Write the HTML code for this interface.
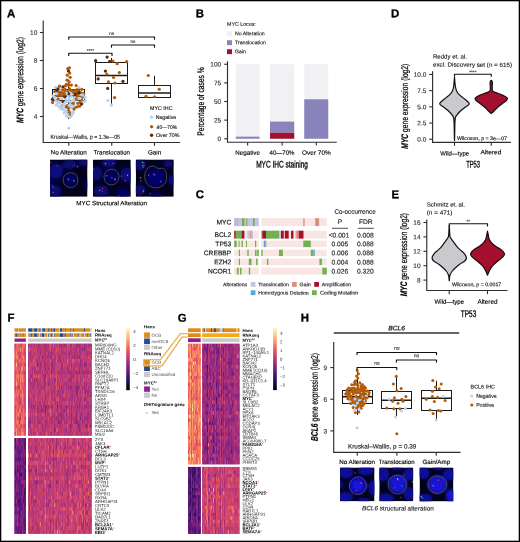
<!DOCTYPE html>
<html lang="en"><head><meta charset="utf-8"><title>MYC and BCL6 structural alterations figure</title>
<style>html,body{margin:0;padding:0;background:#fff}body{width:520px;height:542px;overflow:hidden}svg{display:block}text{font-family:'Liberation Sans', Arial, Helvetica, sans-serif;text-rendering:geometricPrecision}</style>
</head><body>
<svg width="520" height="542" viewBox="0 0 520 542">
<defs><filter id="bl" x="-20%" y="-20%" width="140%" height="140%"><feGaussianBlur stdDeviation="1.7"/></filter><filter id="bl2" x="-20%" y="-20%" width="140%" height="140%"><feGaussianBlur stdDeviation="2.3"/></filter><filter id="bs" x="-50%" y="-50%" width="200%" height="200%"><feGaussianBlur stdDeviation="0.35"/></filter><filter id="hb" x="-5%" y="-5%" width="110%" height="110%"><feGaussianBlur stdDeviation="0.3"/></filter><linearGradient id="mag" x1="0" y1="1" x2="0" y2="0"><stop offset="0" stop-color="#000004"/><stop offset="0.13" stop-color="#1d1147"/><stop offset="0.25" stop-color="#51127c"/><stop offset="0.38" stop-color="#832681"/><stop offset="0.5" stop-color="#b73779"/><stop offset="0.63" stop-color="#e75263"/><stop offset="0.75" stop-color="#fc8961"/><stop offset="0.88" stop-color="#fec488"/><stop offset="1" stop-color="#fcfdbf"/></linearGradient></defs>
<rect x="0" y="0" width="520" height="542" fill="#fff"/>
<text transform="rotate(0.05 7.1 17.2)" x="7.1" y="17.2" font-size="11.4" font-weight="bold" stroke="#000" stroke-width="0.3">A</text>
<text transform="rotate(0.05 195.8 17.2)" x="195.8" y="17.2" font-size="11.4" font-weight="bold" stroke="#000" stroke-width="0.3">B</text>
<text transform="rotate(0.05 195.8 198.2)" x="195.8" y="198.2" font-size="11.4" font-weight="bold" stroke="#000" stroke-width="0.3">C</text>
<text transform="rotate(0.05 391.1 17.2)" x="391.1" y="17.2" font-size="11.4" font-weight="bold" stroke="#000" stroke-width="0.3">D</text>
<text transform="rotate(0.05 391.4 198.2)" x="391.4" y="198.2" font-size="11.4" font-weight="bold" stroke="#000" stroke-width="0.3">E</text>
<text transform="rotate(0.05 7.4 321.5)" x="7.4" y="321.5" font-size="11.4" font-weight="bold" stroke="#000" stroke-width="0.3">F</text>
<text transform="rotate(0.05 177.8 321.7)" x="177.8" y="321.7" font-size="11.4" font-weight="bold" stroke="#000" stroke-width="0.3">G</text>
<text transform="rotate(0.05 300.8 321.5)" x="300.8" y="321.5" font-size="11.4" font-weight="bold" stroke="#000" stroke-width="0.3">H</text>
<path d="M43.2 20.5V142.5H180" stroke="#2e2e2e" stroke-width="1.15" fill="none"/>
<path d="M39.9 116.5L43.2 116.5" stroke="#2e2e2e" stroke-width="1.1" fill="none"/>
<text transform="rotate(0.05 37.3 118.8)" x="37.3" y="118.8" font-size="6.5" text-anchor="end" fill="#333" stroke="#333" stroke-width="0.14">4</text>
<path d="M39.9 88.5L43.2 88.5" stroke="#2e2e2e" stroke-width="1.1" fill="none"/>
<text transform="rotate(0.05 37.3 90.8)" x="37.3" y="90.8" font-size="6.5" text-anchor="end" fill="#333" stroke="#333" stroke-width="0.14">6</text>
<path d="M39.9 60.5L43.2 60.5" stroke="#2e2e2e" stroke-width="1.1" fill="none"/>
<text transform="rotate(0.05 37.3 62.8)" x="37.3" y="62.8" font-size="6.5" text-anchor="end" fill="#333" stroke="#333" stroke-width="0.14">8</text>
<path d="M39.9 32.5L43.2 32.5" stroke="#2e2e2e" stroke-width="1.1" fill="none"/>
<text transform="rotate(0.05 37.3 34.8)" x="37.3" y="34.8" font-size="6.5" text-anchor="end" fill="#333" stroke="#333" stroke-width="0.14">10</text>
<path d="M68.75 142.5L68.75 145.8" stroke="#2e2e2e" stroke-width="1.1" fill="none"/>
<path d="M111.75 142.5L111.75 145.8" stroke="#2e2e2e" stroke-width="1.1" fill="none"/>
<path d="M154.5 142.5L154.5 145.8" stroke="#2e2e2e" stroke-width="1.1" fill="none"/>
<text transform="translate(23.3,80) rotate(-90.05)" font-size="9.5" text-anchor="middle" textLength="86" lengthAdjust="spacingAndGlyphs" stroke="#000" stroke-width="0.22"><tspan font-style="italic" font-weight="bold">MYC</tspan> gene expression (log2)</text>
<path d="M68.5 79.5V89.5M68.5 100.5V119" stroke="#1a1a1a" stroke-width="1" fill="none"/>
<rect x="52.5" y="89.5" width="32" height="11" fill="none" stroke="#1a1a1a" stroke-width="1"/>
<path d="M52.5 95.9H84.5" stroke="#1a1a1a" stroke-width="1.5" fill="none"/>
<path d="M111.5 58V62.5M111.5 83.5V103.75" stroke="#1a1a1a" stroke-width="1" fill="none"/>
<rect x="95.5" y="62.5" width="32" height="21" fill="none" stroke="#1a1a1a" stroke-width="1"/>
<path d="M95.5 75.5H127.5" stroke="#1a1a1a" stroke-width="1.5" fill="none"/>
<path d="M154.5 75.75V85.5M154.5 97.5V97.5" stroke="#1a1a1a" stroke-width="1" fill="none"/>
<rect x="138.5" y="85.5" width="32" height="12" fill="none" stroke="#1a1a1a" stroke-width="1"/>
<path d="M138.5 93H170.5" stroke="#1a1a1a" stroke-width="1.5" fill="none"/>
<circle cx="60.05" cy="102.53" r="1.62" fill="#b5d3f0"/>
<circle cx="76.13" cy="85.58" r="1.62" fill="#b35a0a"/>
<circle cx="54.8" cy="91.54" r="1.62" fill="#b35a0a"/>
<circle cx="71.31" cy="115.68" r="1.62" fill="#b5d3f0"/>
<circle cx="84.89" cy="97.31" r="1.62" fill="#b5d3f0"/>
<circle cx="64.26" cy="112.89" r="1.62" fill="#b5d3f0"/>
<circle cx="65.03" cy="89.41" r="1.62" fill="#b35a0a"/>
<circle cx="67.81" cy="68.73" r="1.62" fill="#b35a0a"/>
<circle cx="73.37" cy="111.83" r="1.62" fill="#b5d3f0"/>
<circle cx="77.86" cy="103.32" r="1.62" fill="#b35a0a"/>
<circle cx="59.53" cy="86.2" r="1.62" fill="#b35a0a"/>
<circle cx="72.25" cy="90.93" r="1.62" fill="#b35a0a"/>
<circle cx="70.78" cy="103.03" r="1.62" fill="#b35a0a"/>
<circle cx="62.13" cy="95.83" r="1.62" fill="#b35a0a"/>
<circle cx="65.87" cy="106.66" r="1.62" fill="#b35a0a"/>
<circle cx="74.53" cy="97.64" r="1.62" fill="#b5d3f0"/>
<circle cx="81.73" cy="89.26" r="1.62" fill="#b35a0a"/>
<circle cx="80.11" cy="94.74" r="1.62" fill="#b5d3f0"/>
<circle cx="52.45" cy="99.32" r="1.62" fill="#552a08"/>
<circle cx="68.59" cy="110.6" r="1.62" fill="#b35a0a"/>
<circle cx="67.62" cy="112.6" r="1.62" fill="#b5d3f0"/>
<circle cx="66.03" cy="99.05" r="1.62" fill="#b5d3f0"/>
<circle cx="56.2" cy="104.88" r="1.62" fill="#b5d3f0"/>
<circle cx="56.01" cy="100.72" r="1.62" fill="#b5d3f0"/>
<circle cx="64.89" cy="110.17" r="1.62" fill="#b5d3f0"/>
<circle cx="75.06" cy="107.21" r="1.62" fill="#b35a0a"/>
<circle cx="69.58" cy="88.78" r="1.62" fill="#b35a0a"/>
<circle cx="81.67" cy="100.17" r="1.62" fill="#b35a0a"/>
<circle cx="76.09" cy="92.6" r="1.62" fill="#b35a0a"/>
<circle cx="66.34" cy="84.27" r="1.62" fill="#b35a0a"/>
<circle cx="78.11" cy="98.97" r="1.62" fill="#b5d3f0"/>
<circle cx="66.38" cy="116.08" r="1.62" fill="#b5d3f0"/>
<circle cx="60.49" cy="108.49" r="1.62" fill="#b5d3f0"/>
<circle cx="63.02" cy="101.69" r="1.62" fill="#552a08"/>
<circle cx="55.59" cy="87.49" r="1.62" fill="#b5d3f0"/>
<circle cx="79.57" cy="106.23" r="1.62" fill="#b35a0a"/>
<circle cx="72.87" cy="100.44" r="1.62" fill="#b5d3f0"/>
<circle cx="57.4" cy="95.16" r="1.62" fill="#b35a0a"/>
<circle cx="69.58" cy="114.85" r="1.62" fill="#b35a0a"/>
<circle cx="66.07" cy="101.55" r="1.62" fill="#b5d3f0"/>
<circle cx="60.19" cy="91.94" r="1.62" fill="#552a08"/>
<circle cx="78.54" cy="91.16" r="1.62" fill="#b35a0a"/>
<circle cx="61.89" cy="105.77" r="1.62" fill="#b35a0a"/>
<circle cx="67.53" cy="91.71" r="1.62" fill="#b35a0a"/>
<circle cx="80.07" cy="102.22" r="1.62" fill="#b35a0a"/>
<circle cx="69.13" cy="107.55" r="1.62" fill="#b35a0a"/>
<circle cx="85.26" cy="100.88" r="1.62" fill="#b5d3f0"/>
<circle cx="72.26" cy="107.88" r="1.62" fill="#b5d3f0"/>
<circle cx="74.06" cy="109.11" r="1.62" fill="#b35a0a"/>
<circle cx="83.12" cy="102.08" r="1.62" fill="#b5d3f0"/>
<circle cx="69.34" cy="98.51" r="1.62" fill="#b5d3f0"/>
<circle cx="71.1" cy="112.72" r="1.62" fill="#b5d3f0"/>
<circle cx="75.51" cy="101.15" r="1.62" fill="#b5d3f0"/>
<circle cx="69.28" cy="112.52" r="1.62" fill="#b35a0a"/>
<circle cx="64.7" cy="96.83" r="1.62" fill="#552a08"/>
<circle cx="58.67" cy="106.25" r="1.62" fill="#b5d3f0"/>
<circle cx="77.27" cy="106.84" r="1.62" fill="#b35a0a"/>
<circle cx="71.26" cy="105.86" r="1.62" fill="#b5d3f0"/>
<circle cx="68.64" cy="100.97" r="1.62" fill="#b5d3f0"/>
<circle cx="54.84" cy="97.51" r="1.62" fill="#b5d3f0"/>
<circle cx="83.47" cy="93.31" r="1.62" fill="#b35a0a"/>
<circle cx="64.67" cy="92.18" r="1.62" fill="#b35a0a"/>
<circle cx="71.48" cy="96.5" r="1.62" fill="#b5d3f0"/>
<circle cx="52.58" cy="102.41" r="1.62" fill="#b35a0a"/>
<circle cx="57" cy="90.53" r="1.62" fill="#552a08"/>
<circle cx="63.33" cy="106.43" r="1.62" fill="#b5d3f0"/>
<circle cx="60.3" cy="90.2" r="1.62" fill="#b5d3f0"/>
<circle cx="78.86" cy="87.57" r="1.62" fill="#b5d3f0"/>
<circle cx="73.28" cy="92.77" r="1.62" fill="#b35a0a"/>
<circle cx="68.26" cy="95.87" r="1.62" fill="#b5d3f0"/>
<circle cx="71.42" cy="85.1" r="1.62" fill="#b35a0a"/>
<circle cx="61.51" cy="98.67" r="1.62" fill="#b5d3f0"/>
<circle cx="80.45" cy="92.59" r="1.62" fill="#b35a0a"/>
<circle cx="62.45" cy="109.16" r="1.62" fill="#b5d3f0"/>
<circle cx="69.12" cy="81.89" r="1.62" fill="#b35a0a"/>
<circle cx="74.61" cy="90.6" r="1.62" fill="#b35a0a"/>
<circle cx="62.95" cy="86.98" r="1.62" fill="#552a08"/>
<circle cx="67.65" cy="105.29" r="1.62" fill="#b35a0a"/>
<circle cx="82.07" cy="97.43" r="1.62" fill="#b35a0a"/>
<circle cx="77" cy="89.74" r="1.62" fill="#b35a0a"/>
<circle cx="67.51" cy="114.67" r="1.62" fill="#b5d3f0"/>
<circle cx="53.18" cy="95.79" r="1.62" fill="#b5d3f0"/>
<circle cx="74" cy="105.42" r="1.62" fill="#b5d3f0"/>
<circle cx="58.35" cy="92.01" r="1.62" fill="#b35a0a"/>
<circle cx="72.7" cy="113.63" r="1.62" fill="#b5d3f0"/>
<circle cx="57.63" cy="103.14" r="1.62" fill="#b5d3f0"/>
<circle cx="70.89" cy="93.4" r="1.62" fill="#b5d3f0"/>
<circle cx="58.45" cy="101.33" r="1.62" fill="#b5d3f0"/>
<circle cx="68.54" cy="106.33" r="1.62" fill="#b5d3f0"/>
<circle cx="68.54" cy="93.66" r="1.62" fill="#552a08"/>
<circle cx="58.12" cy="98.94" r="1.62" fill="#b35a0a"/>
<circle cx="71.34" cy="101.55" r="1.62" fill="#b5d3f0"/>
<circle cx="79.92" cy="98.34" r="1.62" fill="#b5d3f0"/>
<circle cx="68.4" cy="116.48" r="1.62" fill="#b5d3f0"/>
<circle cx="60.35" cy="106.06" r="1.62" fill="#b5d3f0"/>
<circle cx="69.83" cy="104.7" r="1.62" fill="#b5d3f0"/>
<circle cx="81.56" cy="104.12" r="1.62" fill="#552a08"/>
<circle cx="73.27" cy="103.27" r="1.62" fill="#b35a0a"/>
<circle cx="59.98" cy="94.71" r="1.62" fill="#b35a0a"/>
<circle cx="70.11" cy="117.14" r="1.62" fill="#b5d3f0"/>
<circle cx="64.32" cy="103.54" r="1.62" fill="#b5d3f0"/>
<circle cx="58.03" cy="88.97" r="1.62" fill="#552a08"/>
<circle cx="76.15" cy="99.12" r="1.62" fill="#b35a0a"/>
<circle cx="62.7" cy="93.17" r="1.62" fill="#b35a0a"/>
<circle cx="67.25" cy="107.39" r="1.62" fill="#b35a0a"/>
<circle cx="70.5" cy="90.37" r="1.62" fill="#b35a0a"/>
<circle cx="78.48" cy="93.95" r="1.62" fill="#b35a0a"/>
<circle cx="66.28" cy="93.25" r="1.62" fill="#b5d3f0"/>
<circle cx="68.67" cy="85.15" r="1.62" fill="#b35a0a"/>
<circle cx="56.36" cy="93.71" r="1.62" fill="#b5d3f0"/>
<circle cx="75.43" cy="94.49" r="1.62" fill="#552a08"/>
<circle cx="65.27" cy="86" r="1.62" fill="#b35a0a"/>
<circle cx="66.03" cy="111.66" r="1.62" fill="#b5d3f0"/>
<circle cx="62.62" cy="89.89" r="1.62" fill="#b35a0a"/>
<circle cx="78.85" cy="92.54" r="1.62" fill="#552a08"/>
<circle cx="82.92" cy="95.14" r="1.62" fill="#b5d3f0"/>
<circle cx="77.38" cy="96.02" r="1.62" fill="#b35a0a"/>
<circle cx="64.4" cy="94.12" r="1.62" fill="#b35a0a"/>
<circle cx="66.91" cy="80.1" r="1.62" fill="#b35a0a"/>
<circle cx="70.18" cy="77.3" r="1.62" fill="#b35a0a"/>
<circle cx="67.24" cy="75.2" r="1.62" fill="#b35a0a"/>
<circle cx="69.67" cy="73.1" r="1.62" fill="#b35a0a"/>
<circle cx="68.52" cy="71" r="1.62" fill="#552a08"/>
<circle cx="69.44" cy="67.78" r="1.62" fill="#b35a0a"/>
<circle cx="68.75" cy="128.25" r="1.62" fill="#b5d3f0"/>
<circle cx="107.1" cy="57.1" r="1.62" fill="#552a08"/>
<circle cx="95.6" cy="60.7" r="1.62" fill="#552a08"/>
<circle cx="109.7" cy="61.4" r="1.62" fill="#552a08"/>
<circle cx="112.9" cy="61" r="1.62" fill="#b35a0a"/>
<circle cx="117.2" cy="63.65" r="1.62" fill="#b35a0a"/>
<circle cx="126.7" cy="61.6" r="1.62" fill="#b35a0a"/>
<circle cx="105.4" cy="71.1" r="1.62" fill="#552a08"/>
<circle cx="106.8" cy="74" r="1.62" fill="#b35a0a"/>
<circle cx="119.3" cy="72.6" r="1.62" fill="#b35a0a"/>
<circle cx="113.55" cy="77.5" r="1.62" fill="#b35a0a"/>
<circle cx="98.15" cy="78.9" r="1.62" fill="#552a08"/>
<circle cx="108.4" cy="81.8" r="1.62" fill="#b35a0a"/>
<circle cx="114.9" cy="83" r="1.62" fill="#b35a0a"/>
<circle cx="123" cy="81.3" r="1.62" fill="#552a08"/>
<circle cx="107.7" cy="88.4" r="1.62" fill="#552a08"/>
<circle cx="114.6" cy="97.7" r="1.62" fill="#b35a0a"/>
<circle cx="108" cy="100.5" r="1.62" fill="#b5d3f0"/>
<circle cx="111.5" cy="105.2" r="1.62" fill="#b5d3f0"/>
<circle cx="148.25" cy="75.5" r="1.62" fill="#b35a0a"/>
<circle cx="159.25" cy="89.25" r="1.62" fill="#b35a0a"/>
<circle cx="146" cy="96.25" r="1.62" fill="#b35a0a"/>
<circle cx="154.5" cy="96.75" r="1.62" fill="#b35a0a"/>
<path d="M68.75 39.2V37H154.5V39.2" stroke="#111" stroke-width="1.15" fill="none" stroke-linejoin="round" stroke-linecap="round"/>
<text transform="rotate(0.05 111.62 35)" x="111.62" y="35" font-size="4.6" text-anchor="middle" fill="#333" stroke="#333" stroke-width="0.14">ns</text>
<path d="M111.5 47.2V45H154.5V47.2" stroke="#111" stroke-width="1.15" fill="none" stroke-linejoin="round" stroke-linecap="round"/>
<text transform="rotate(0.05 133 43)" x="133" y="43" font-size="4.6" text-anchor="middle" fill="#333" stroke="#333" stroke-width="0.14">ns</text>
<path d="M68.75 55.45V53.25H112V55.45" stroke="#111" stroke-width="1.15" fill="none" stroke-linejoin="round" stroke-linecap="round"/>
<text transform="rotate(0.05 90.38 52.2)" x="90.38" y="52.2" font-size="4.6" text-anchor="middle" fill="#333" stroke="#333" stroke-width="0.14">****</text>
<text transform="rotate(0.05 50.6 138.8)" x="50.6" y="138.8" font-size="5.55" textLength="69.4" lengthAdjust="spacingAndGlyphs" fill="#222" stroke="#222" stroke-width="0.14">Kruskal—Wallis, p = 1.3e—05</text>
<text transform="rotate(0.05 68.75 154.4)" x="68.75" y="154.4" font-size="6.25" text-anchor="middle" textLength="36.3" lengthAdjust="spacingAndGlyphs" stroke="#000" stroke-width="0.14">No Alteration</text>
<text transform="rotate(0.05 111.75 154.4)" x="111.75" y="154.4" font-size="6.25" text-anchor="middle" textLength="36.5" lengthAdjust="spacingAndGlyphs" stroke="#000" stroke-width="0.14">Translocation</text>
<text transform="rotate(0.05 154.6 154.4)" x="154.6" y="154.4" font-size="6.25" text-anchor="middle" textLength="13.3" lengthAdjust="spacingAndGlyphs" stroke="#000" stroke-width="0.14">Gain</text>
<text transform="rotate(0.05 150 109.9)" x="150" y="109.9" font-size="5.4" textLength="22.5" lengthAdjust="spacingAndGlyphs" fill="#222" stroke="#222" stroke-width="0.14">MYC IHC</text>
<circle cx="151.6" cy="117.2" r="1.65" fill="#b5d3f0"/>
<text transform="rotate(0.05 155.7 119.05)" x="155.7" y="119.05" font-size="5.3" textLength="20.4" lengthAdjust="spacingAndGlyphs" fill="#222" stroke="#222" stroke-width="0.14">Negative</text>
<circle cx="151.6" cy="126.7" r="1.65" fill="#b35a0a"/>
<text transform="rotate(0.05 156.6 129)" x="156.6" y="129" font-size="5.3" textLength="20.6" lengthAdjust="spacingAndGlyphs" fill="#222" stroke="#222" stroke-width="0.14">40—70%</text>
<circle cx="151.6" cy="135.25" r="1.65" fill="#552a08"/>
<text transform="rotate(0.05 155.9 137.1)" x="155.9" y="137.1" font-size="5.3" textLength="23.6" lengthAdjust="spacingAndGlyphs" fill="#222" stroke="#222" stroke-width="0.14">Over 70%</text>
<text transform="rotate(0.05 111.6 205.3)" x="111.6" y="205.3" font-size="6.25" text-anchor="middle" textLength="70.7" lengthAdjust="spacingAndGlyphs" stroke="#000" stroke-width="0.14">MYC Structural Alteration</text>
<svg x="50" y="159.5" width="37.5" height="37.3" viewBox="0 0 40 40" preserveAspectRatio="none">
<rect x="0" y="0" width="40" height="40" fill="#020218"/>
<g filter="url(#bl2)">
<ellipse cx="6" cy="12.5" rx="8.5" ry="8.5" fill="#080882"/>
<ellipse cx="21" cy="5" rx="8" ry="5.5" fill="#070776"/>
<ellipse cx="35.5" cy="3" rx="5.5" ry="4.5" fill="#070776"/>
<ellipse cx="21.7" cy="22" rx="7.5" ry="7.5" fill="#06066c"/>
<ellipse cx="5" cy="34" rx="8" ry="6.5" fill="#070776"/>
<ellipse cx="1" cy="24.5" rx="3.5" ry="5" fill="#06066c"/>
<ellipse cx="39.5" cy="27" rx="2.5" ry="5" fill="#060670"/>
</g>
<path d="M14 22C14 17 18 14 23 14.3C27 14.5 29.8 18 29.6 22.5C29.4 27 26 30 22 30C17.5 30 14 26.5 14 22Z" fill="none" stroke="#90904e" stroke-width="0.75" opacity="0.7"/>
<g filter="url(#bs)">
<circle cx="19.5" cy="21.8" r="0.8" fill="#d82868"/>
<circle cx="19.6" cy="20.9" r="0.8" fill="#2a8a80"/>
<circle cx="25.4" cy="23.2" r="0.8" fill="#d82868"/>
<circle cx="25.6" cy="22.3" r="0.8" fill="#2a8a70"/>
<circle cx="7.8" cy="7.1" r="0.8" fill="#b02058"/>
<circle cx="25.8" cy="6.4" r="0.8" fill="#a82060"/>
<circle cx="29" cy="7.7" r="0.8" fill="#c03050"/>
<circle cx="29.6" cy="7.2" r="0.8" fill="#307860"/>
<circle cx="2.5" cy="28.2" r="0.8" fill="#b82058"/>
<circle cx="3.7" cy="30" r="0.8" fill="#c82050"/>
<circle cx="3.4" cy="35.3" r="0.8" fill="#b84048"/>
<circle cx="1" cy="2.9" r="0.8" fill="#902050"/>
<circle cx="39.6" cy="3.2" r="0.8" fill="#d84060"/>
</g>
</svg>
<svg x="93" y="159.5" width="37.8" height="37.3" viewBox="0 0 40 40" preserveAspectRatio="none">
<rect x="0" y="0" width="40" height="40" fill="#020218"/>
<g filter="url(#bl2)">
<ellipse cx="17" cy="3.5" rx="8" ry="5.5" fill="#080882"/>
<ellipse cx="3.5" cy="15" rx="7" ry="8" fill="#070776"/>
<ellipse cx="35.5" cy="16.5" rx="7" ry="8" fill="#080882"/>
<ellipse cx="19.5" cy="19" rx="7.5" ry="7.5" fill="#06066c"/>
<ellipse cx="8.5" cy="33.5" rx="9" ry="6.5" fill="#070776"/>
<ellipse cx="31" cy="36" rx="7" ry="5.5" fill="#06066c"/>
</g>
<path d="M11.8 19C11.8 14 15.5 10.5 20 10.5C24.5 10.5 27.4 14 27.4 18.5C27.4 23.5 24 27.2 19.5 27.2C15 27.2 11.8 23.5 11.8 19Z" fill="none" stroke="#90904e" stroke-width="0.75" opacity="0.7"/>
<g filter="url(#bs)">
<circle cx="13" cy="4.6" r="0.8" fill="#30b088"/>
<circle cx="13.4" cy="3.9" r="0.8" fill="#d84050"/>
<circle cx="21" cy="4.3" r="0.8" fill="#c02060"/>
<circle cx="14.6" cy="17.5" r="0.8" fill="#2890a0"/>
<circle cx="20" cy="19.5" r="0.8" fill="#d82868"/>
<circle cx="23" cy="21.6" r="0.8" fill="#d82868"/>
<circle cx="23.5" cy="20.9" r="0.8" fill="#38b078"/>
<circle cx="30" cy="18" r="0.8" fill="#d02060"/>
<circle cx="36.5" cy="17" r="0.8" fill="#28c8d0"/>
<circle cx="34" cy="22.5" r="0.8" fill="#c82060"/>
<circle cx="7" cy="33" r="0.8" fill="#30c080"/>
<circle cx="10" cy="31" r="0.8" fill="#d82060"/>
<circle cx="9.5" cy="34" r="0.8" fill="#c02050"/>
<circle cx="27.5" cy="39.5" r="0.8" fill="#e03040"/>
<circle cx="0.4" cy="10.5" r="0.8" fill="#d02060"/>
</g>
</svg>
<svg x="135.75" y="159.5" width="38" height="37.3" viewBox="0 0 40 40" preserveAspectRatio="none">
<rect x="0" y="0" width="40" height="40" fill="#020218"/>
<g filter="url(#bl2)">
<ellipse cx="21" cy="19" rx="10.5" ry="10.5" fill="#06066c"/>
<ellipse cx="4.5" cy="6" rx="6.5" ry="6" fill="#070776"/>
<ellipse cx="34" cy="4.5" rx="6" ry="4.5" fill="#070776"/>
<ellipse cx="38" cy="22" rx="4" ry="6" fill="#080882"/>
<ellipse cx="4.5" cy="32.5" rx="6.5" ry="6" fill="#070776"/>
<ellipse cx="21.7" cy="37.5" rx="6.5" ry="3.5" fill="#06066c"/>
</g>
<path d="M9.4 18C9.4 12 13 7 18.5 7C21 7 22 9.6 24 9.8C26 10 28 8.4 30 10.5C33 13.5 33 20 31.5 24C30 28 25 30.5 20 30.3C14 30 9.4 25 9.4 18Z" fill="none" stroke="#90904e" stroke-width="0.75" opacity="0.7"/>
<g filter="url(#bs)">
<circle cx="7" cy="3" r="0.8" fill="#30c080"/>
<circle cx="8.4" cy="4" r="0.8" fill="#e03050"/>
<circle cx="7.4" cy="6.8" r="0.8" fill="#30b080"/>
<circle cx="8.8" cy="6.4" r="0.8" fill="#d82060"/>
<circle cx="8" cy="8.4" r="0.8" fill="#c82060"/>
<circle cx="13.5" cy="17" r="0.8" fill="#d82868"/>
<circle cx="19" cy="15.8" r="0.8" fill="#30a890"/>
<circle cx="20" cy="16.6" r="0.8" fill="#d82868"/>
<circle cx="26.5" cy="23.5" r="0.8" fill="#d84848"/>
<circle cx="5" cy="19.5" r="0.8" fill="#30c0a0"/>
<circle cx="5.4" cy="23" r="0.8" fill="#c82060"/>
<circle cx="7.4" cy="34.6" r="0.8" fill="#d82050"/>
<circle cx="8.2" cy="33.6" r="0.8" fill="#30c080"/>
<circle cx="15" cy="36.6" r="0.8" fill="#c82060"/>
<circle cx="4" cy="39.4" r="0.8" fill="#e02040"/>
<circle cx="28" cy="39.4" r="0.8" fill="#e02040"/>
</g>
</svg>
<path d="M227.5 61.2V142.2H336.8" stroke="#2e2e2e" stroke-width="1.15" fill="none"/>
<path d="M224.2 138.75L227.5 138.75" stroke="#2e2e2e" stroke-width="1.1" fill="none"/>
<text transform="rotate(0.05 221.2 141.05)" x="221.2" y="141.05" font-size="6.5" text-anchor="end" fill="#333" stroke="#333" stroke-width="0.14">0</text>
<path d="M224.2 120.12L227.5 120.12" stroke="#2e2e2e" stroke-width="1.1" fill="none"/>
<text transform="rotate(0.05 221.2 122.42)" x="221.2" y="122.42" font-size="6.5" text-anchor="end" fill="#333" stroke="#333" stroke-width="0.14">25</text>
<path d="M224.2 101.5L227.5 101.5" stroke="#2e2e2e" stroke-width="1.1" fill="none"/>
<text transform="rotate(0.05 221.2 103.8)" x="221.2" y="103.8" font-size="6.5" text-anchor="end" fill="#333" stroke="#333" stroke-width="0.14">50</text>
<path d="M224.2 82.88L227.5 82.88" stroke="#2e2e2e" stroke-width="1.1" fill="none"/>
<text transform="rotate(0.05 221.2 85.17)" x="221.2" y="85.17" font-size="6.5" text-anchor="end" fill="#333" stroke="#333" stroke-width="0.14">75</text>
<path d="M224.2 64.25L227.5 64.25" stroke="#2e2e2e" stroke-width="1.1" fill="none"/>
<text transform="rotate(0.05 221.2 66.55)" x="221.2" y="66.55" font-size="6.5" text-anchor="end" fill="#333" stroke="#333" stroke-width="0.14">100</text>
<rect x="235.75" y="64.25" width="23.75" height="74.5" fill="#f1f1f4"/>
<rect x="235.75" y="136.66" width="23.75" height="2.09" fill="#8a84bd"/>
<path d="M247.62 142.2L247.62 145.5" stroke="#2e2e2e" stroke-width="1.1" fill="none"/>
<rect x="270" y="64.25" width="24.25" height="74.5" fill="#f1f1f4"/>
<rect x="270" y="121.61" width="24.25" height="11.17" fill="#8a84bd"/>
<rect x="270" y="132.79" width="24.25" height="5.96" fill="#a50f2e"/>
<path d="M282.12 142.2L282.12 145.5" stroke="#2e2e2e" stroke-width="1.1" fill="none"/>
<rect x="304.25" y="64.25" width="24" height="74.5" fill="#f1f1f4"/>
<rect x="304.25" y="99.27" width="24" height="39.48" fill="#8a84bd"/>
<path d="M316.25 142.2L316.25 145.5" stroke="#2e2e2e" stroke-width="1.1" fill="none"/>
<text transform="rotate(0.05 247.6 154.7)" x="247.6" y="154.7" font-size="6.25" text-anchor="middle" stroke="#000" stroke-width="0.14">Negative</text>
<text transform="rotate(0.05 282 154.7)" x="282" y="154.7" font-size="6.25" text-anchor="middle" textLength="25" lengthAdjust="spacingAndGlyphs" stroke="#000" stroke-width="0.14">40—70%</text>
<text transform="rotate(0.05 316.4 154.7)" x="316.4" y="154.7" font-size="6.25" text-anchor="middle" textLength="28.7" lengthAdjust="spacingAndGlyphs" stroke="#000" stroke-width="0.14">Over 70%</text>
<text transform="rotate(0.05 282.1 167.5)" x="282.1" y="167.5" font-size="9.6" text-anchor="middle" textLength="51.8" lengthAdjust="spacingAndGlyphs" stroke="#000" stroke-width="0.32">MYC IHC staining</text>
<text transform="translate(204,101.6) rotate(-90.05)" font-size="9.5" text-anchor="middle" textLength="68.3" lengthAdjust="spacingAndGlyphs" stroke="#000" stroke-width="0.22">Percentage of cases %</text>
<text transform="rotate(0.05 227 25.8)" x="227" y="25.8" font-size="5.1" textLength="28.8" lengthAdjust="spacingAndGlyphs" fill="#222" stroke="#222" stroke-width="0.14">MYC Locus:</text>
<rect x="227" y="31.25" width="5" height="4.9" fill="#f1f1f4"/>
<text transform="rotate(0.05 235 35.15)" x="235" y="35.15" font-size="5.2" fill="#222" stroke="#222" stroke-width="0.14">No Alteration</text>
<rect x="227" y="40.25" width="5" height="4.9" fill="#8a84bd"/>
<text transform="rotate(0.05 235 44.15)" x="235" y="44.15" font-size="5.2" fill="#222" stroke="#222" stroke-width="0.14">Translocation</text>
<rect x="227" y="49.25" width="5" height="4.9" fill="#a50f2e"/>
<text transform="rotate(0.05 235 53.15)" x="235" y="53.15" font-size="5.2" fill="#222" stroke="#222" stroke-width="0.14">Gain</text>
<rect x="234.2" y="218.2" width="24.65" height="7.9" fill="#f7e6e2"/>
<rect x="261.35" y="218.2" width="65.45" height="7.9" fill="#f7e6e2"/>
<rect x="234.2" y="218.2" width="24.65" height="7.9" fill="#c9c3e2"/>
<rect x="235" y="218.2" width="0.6" height="7.9" fill="#d98f7e"/>
<rect x="237.5" y="218.2" width="0.6" height="7.9" fill="#d98f7e"/>
<rect x="242" y="218.2" width="2.4" height="7.9" fill="#72b052"/>
<rect x="246.3" y="218.2" width="1" height="7.9" fill="#72b052"/>
<rect x="253" y="218.2" width="1.6" height="7.9" fill="#72b052"/>
<rect x="303.3" y="218.2" width="1.3" height="7.9" fill="#d98f7e"/>
<rect x="315.2" y="218.2" width="3.9" height="7.9" fill="#d98f7e"/>
<text transform="rotate(0.05 231.3 224.55)" x="231.3" y="224.55" font-size="6.7" text-anchor="end" fill="#111" stroke="#111" stroke-width="0.14">MYC</text>
<rect x="234.2" y="230.7" width="24.65" height="7.9" fill="#f7e6e2"/>
<rect x="261.35" y="230.7" width="65.45" height="7.9" fill="#f7e6e2"/>
<rect x="234.2" y="230.7" width="1.6" height="7.9" fill="#a80f2c"/>
<rect x="235.8" y="230.7" width="5.7" height="7.9" fill="#72b052"/>
<rect x="241.5" y="230.7" width="2.9" height="7.9" fill="#a80f2c"/>
<rect x="247.3" y="230.7" width="2.9" height="7.9" fill="#c9c3e2"/>
<rect x="250.2" y="230.7" width="1.5" height="7.9" fill="#d98f7e"/>
<rect x="251.7" y="230.7" width="1.3" height="7.9" fill="#c9c3e2"/>
<rect x="261.35" y="230.7" width="0.95" height="7.9" fill="#72b052"/>
<rect x="262.3" y="230.7" width="3.7" height="7.9" fill="#a80f2c"/>
<rect x="266" y="230.7" width="13" height="7.9" fill="#72b052"/>
<rect x="279" y="230.7" width="2" height="7.9" fill="#c9c3e2"/>
<rect x="281" y="230.7" width="2.8" height="7.9" fill="#a80f2c"/>
<rect x="284.8" y="230.7" width="3.9" height="7.9" fill="#a80f2c"/>
<rect x="291" y="230.7" width="2" height="7.9" fill="#a80f2c"/>
<rect x="293" y="230.7" width="1" height="7.9" fill="#d98f7e"/>
<rect x="295.3" y="230.7" width="1" height="7.9" fill="#c9c3e2"/>
<rect x="296.3" y="230.7" width="2.5" height="7.9" fill="#d98f7e"/>
<rect x="297.4" y="230.7" width="0.5" height="7.9" fill="#5aa5dc"/>
<rect x="298.8" y="230.7" width="4.7" height="7.9" fill="#a80f2c"/>
<text transform="rotate(0.05 231.3 237.05)" x="231.3" y="237.05" font-size="6.7" text-anchor="end" fill="#111" stroke="#111" stroke-width="0.14">BCL2</text>
<rect x="234.2" y="240.6" width="24.65" height="6.5" fill="#f7e6e2"/>
<rect x="261.35" y="240.6" width="65.45" height="6.5" fill="#f7e6e2"/>
<rect x="234.2" y="240.6" width="2.5" height="6.5" fill="#72b052"/>
<rect x="238.6" y="240.6" width="1" height="6.5" fill="#72b052"/>
<rect x="241.5" y="240.6" width="1.4" height="6.5" fill="#72b052"/>
<rect x="246" y="240.6" width="1" height="6.5" fill="#72b052"/>
<rect x="255" y="240.6" width="1.2" height="6.5" fill="#72b052"/>
<rect x="263.8" y="240.6" width="1.8" height="6.5" fill="#5aa5dc"/>
<rect x="265.6" y="240.6" width="0.7" height="6.5" fill="#72b052"/>
<rect x="303.3" y="240.6" width="7.5" height="6.5" fill="#72b052"/>
<text transform="rotate(0.05 231.3 246.25)" x="231.3" y="246.25" font-size="6.7" text-anchor="end" fill="#111" stroke="#111" stroke-width="0.14">TP53</text>
<rect x="234.2" y="249.7" width="24.65" height="6.4" fill="#f7e6e2"/>
<rect x="261.35" y="249.7" width="65.45" height="6.4" fill="#f7e6e2"/>
<rect x="238.8" y="249.7" width="1.2" height="6.4" fill="#72b052"/>
<rect x="247.3" y="249.7" width="1.4" height="6.4" fill="#72b052"/>
<rect x="255" y="249.7" width="1.6" height="6.4" fill="#72b052"/>
<rect x="257.2" y="249.7" width="1.65" height="6.4" fill="#72b052"/>
<rect x="261.35" y="249.7" width="1.35" height="6.4" fill="#72b052"/>
<rect x="279" y="249.7" width="3.9" height="6.4" fill="#72b052"/>
<rect x="310.8" y="249.7" width="2.8" height="6.4" fill="#72b052"/>
<rect x="313.7" y="249.7" width="1.1" height="6.4" fill="#5aa5dc"/>
<text transform="rotate(0.05 231.3 255.3)" x="231.3" y="255.3" font-size="6.7" text-anchor="end" fill="#111" stroke="#111" stroke-width="0.14">CREBBP</text>
<rect x="234.2" y="258.6" width="24.65" height="6.5" fill="#f7e6e2"/>
<rect x="261.35" y="258.6" width="65.45" height="6.5" fill="#f7e6e2"/>
<rect x="238.8" y="258.6" width="1.2" height="6.5" fill="#72b052"/>
<rect x="248.8" y="258.6" width="2.7" height="6.5" fill="#72b052"/>
<rect x="256" y="258.6" width="1.5" height="6.5" fill="#72b052"/>
<rect x="266.9" y="258.6" width="1.4" height="6.5" fill="#72b052"/>
<rect x="319.4" y="258.6" width="2.5" height="6.5" fill="#72b052"/>
<text transform="rotate(0.05 231.3 264.25)" x="231.3" y="264.25" font-size="6.7" text-anchor="end" fill="#111" stroke="#111" stroke-width="0.14">EZH2</text>
<rect x="234.2" y="267.7" width="24.65" height="6.8" fill="#f7e6e2"/>
<rect x="261.35" y="267.7" width="65.45" height="6.8" fill="#f7e6e2"/>
<rect x="236.9" y="267.7" width="1.75" height="6.8" fill="#72b052"/>
<rect x="240" y="267.7" width="1.5" height="6.8" fill="#72b052"/>
<rect x="248.8" y="267.7" width="1.4" height="6.8" fill="#72b052"/>
<rect x="322.3" y="267.7" width="4.5" height="6.8" fill="#72b052"/>
<text transform="rotate(0.05 231.3 273.5)" x="231.3" y="273.5" font-size="6.7" text-anchor="end" fill="#111" stroke="#111" stroke-width="0.14">NCOR1</text>
<text transform="rotate(0.05 355.1 213.7)" x="355.1" y="213.7" font-size="6.3" text-anchor="middle" textLength="41.3" lengthAdjust="spacingAndGlyphs" fill="#222" stroke="#222" stroke-width="0.14">Co-occurrence</text>
<text transform="rotate(0.05 340.1 224.1)" x="340.1" y="224.1" font-size="6.7" text-anchor="middle" fill="#222" stroke="#222" stroke-width="0.14">P</text>
<text transform="rotate(0.05 365.8 224.1)" x="365.8" y="224.1" font-size="6.7" text-anchor="middle" fill="#222" stroke="#222" stroke-width="0.14">FDR</text>
<path d="M332 228.3L348 228.3" stroke="#222" stroke-width="0.8" fill="none"/>
<path d="M358 228.3L373.8 228.3" stroke="#222" stroke-width="0.8" fill="none"/>
<text transform="rotate(0.05 349.3 237.4)" x="349.3" y="237.4" font-size="6.7" text-anchor="end" fill="#222" stroke="#222" stroke-width="0.14">&lt;0.001</text>
<text transform="rotate(0.05 373.8 237.4)" x="373.8" y="237.4" font-size="6.7" text-anchor="end" fill="#222" stroke="#222" stroke-width="0.14">0.008</text>
<text transform="rotate(0.05 348.3 246.2)" x="348.3" y="246.2" font-size="6.7" text-anchor="end" fill="#222" stroke="#222" stroke-width="0.14">0.005</text>
<text transform="rotate(0.05 373.8 246.2)" x="373.8" y="246.2" font-size="6.7" text-anchor="end" fill="#222" stroke="#222" stroke-width="0.14">0.088</text>
<text transform="rotate(0.05 348.3 255.2)" x="348.3" y="255.2" font-size="6.7" text-anchor="end" fill="#222" stroke="#222" stroke-width="0.14">0.006</text>
<text transform="rotate(0.05 373.8 255.2)" x="373.8" y="255.2" font-size="6.7" text-anchor="end" fill="#222" stroke="#222" stroke-width="0.14">0.088</text>
<text transform="rotate(0.05 348.3 264.4)" x="348.3" y="264.4" font-size="6.7" text-anchor="end" fill="#222" stroke="#222" stroke-width="0.14">0.004</text>
<text transform="rotate(0.05 373.8 264.4)" x="373.8" y="264.4" font-size="6.7" text-anchor="end" fill="#222" stroke="#222" stroke-width="0.14">0.088</text>
<text transform="rotate(0.05 348.3 273.4)" x="348.3" y="273.4" font-size="6.7" text-anchor="end" fill="#222" stroke="#222" stroke-width="0.14">0.026</text>
<text transform="rotate(0.05 373.8 273.4)" x="373.8" y="273.4" font-size="6.7" text-anchor="end" fill="#222" stroke="#222" stroke-width="0.14">0.320</text>
<text transform="rotate(0.05 223 286.3)" x="223" y="286.3" font-size="5.1" textLength="24" lengthAdjust="spacingAndGlyphs" fill="#222" stroke="#222" stroke-width="0.14">Alterations</text>
<rect x="250.75" y="282" width="4.75" height="4.8" fill="#c9c3e2"/>
<text transform="rotate(0.05 258.25 286.3)" x="258.25" y="286.3" font-size="5.1" textLength="30.5" lengthAdjust="spacingAndGlyphs" fill="#222" stroke="#222" stroke-width="0.14">Translocation</text>
<rect x="292" y="282" width="4.75" height="4.8" fill="#d98f7e"/>
<text transform="rotate(0.05 299.5 286.3)" x="299.5" y="286.3" font-size="5.1" textLength="11.3" lengthAdjust="spacingAndGlyphs" fill="#222" stroke="#222" stroke-width="0.14">Gain</text>
<rect x="314.25" y="282" width="4.75" height="4.8" fill="#a80f2c"/>
<text transform="rotate(0.05 321.75 286.3)" x="321.75" y="286.3" font-size="5.1" textLength="29.5" lengthAdjust="spacingAndGlyphs" fill="#222" stroke="#222" stroke-width="0.14">Amplification</text>
<rect x="250.75" y="290.3" width="4.75" height="4.8" fill="#5aa5dc"/>
<text transform="rotate(0.05 258.25 294.6)" x="258.25" y="294.6" font-size="5.1" textLength="50.5" lengthAdjust="spacingAndGlyphs" fill="#222" stroke="#222" stroke-width="0.14">Homozygous Deletion</text>
<rect x="312" y="290.3" width="4.75" height="4.8" fill="#72b052"/>
<text transform="rotate(0.05 320 294.6)" x="320" y="294.6" font-size="5.1" textLength="38.3" lengthAdjust="spacingAndGlyphs" fill="#222" stroke="#222" stroke-width="0.14">Coding Mutation</text>
<path d="M432.6 71.2V142.3H510.8" stroke="#2e2e2e" stroke-width="1.15" fill="none"/>
<path d="M429.2 139.25L432.5 139.25" stroke="#2e2e2e" stroke-width="1.1" fill="none"/>
<text transform="rotate(0.05 426.4 141.55)" x="426.4" y="141.55" font-size="6.5" text-anchor="end" fill="#333" stroke="#333" stroke-width="0.14">0.0</text>
<path d="M429.2 123.05L432.5 123.05" stroke="#2e2e2e" stroke-width="1.1" fill="none"/>
<text transform="rotate(0.05 426.4 125.35)" x="426.4" y="125.35" font-size="6.5" text-anchor="end" fill="#333" stroke="#333" stroke-width="0.14">2.5</text>
<path d="M429.2 106.85L432.5 106.85" stroke="#2e2e2e" stroke-width="1.1" fill="none"/>
<text transform="rotate(0.05 426.4 109.15)" x="426.4" y="109.15" font-size="6.5" text-anchor="end" fill="#333" stroke="#333" stroke-width="0.14">5.0</text>
<path d="M429.2 90.65L432.5 90.65" stroke="#2e2e2e" stroke-width="1.1" fill="none"/>
<text transform="rotate(0.05 426.4 92.95)" x="426.4" y="92.95" font-size="6.5" text-anchor="end" fill="#333" stroke="#333" stroke-width="0.14">7.5</text>
<path d="M429.2 74.45L432.5 74.45" stroke="#2e2e2e" stroke-width="1.1" fill="none"/>
<text transform="rotate(0.05 426.4 76.75)" x="426.4" y="76.75" font-size="6.5" text-anchor="end" fill="#333" stroke="#333" stroke-width="0.14">10.0</text>
<path d="M454.5 142.3L454.5 145.8" stroke="#2e2e2e" stroke-width="1.1" fill="none"/>
<path d="M491.25 142.3L491.25 145.8" stroke="#2e2e2e" stroke-width="1.1" fill="none"/>
<path d="M454.55 78C454.66 79.05 454.93 82.7 455.1 84.3C455.28 85.9 455.35 86.5 455.6 87.6C455.85 88.7 456.08 89.82 456.6 90.9C457.12 91.98 457.7 93.02 458.7 94.1C459.7 95.18 461.27 96.3 462.6 97.4C463.93 98.5 465.68 99.83 466.7 100.7C467.72 101.57 468.27 102.1 468.7 102.6C469.13 103.1 469.32 103.32 469.3 103.7C469.28 104.08 469.3 104.32 468.6 104.9C467.9 105.48 466.37 106.27 465.1 107.2C463.83 108.13 462.22 109.41 461 110.5C459.78 111.59 458.7 112.67 457.8 113.75C456.9 114.83 456.08 115.62 455.6 117C455.12 118.38 455.09 119.83 454.95 122C454.81 124.17 454.82 127.03 454.75 130C454.68 132.97 454.6 138.17 454.55 139.8C454.5 141.43 454.5 141.43 454.45 139.8C454.4 138.17 454.32 132.97 454.25 130C454.18 127.03 454.19 124.17 454.05 122C453.91 119.83 453.88 118.38 453.4 117C452.92 115.62 452.1 114.83 451.2 113.75C450.3 112.67 449.22 111.59 448 110.5C446.78 109.41 445.17 108.13 443.9 107.2C442.63 106.27 441.1 105.48 440.4 104.9C439.7 104.32 439.72 104.08 439.7 103.7C439.68 103.32 439.87 103.1 440.3 102.6C440.73 102.1 441.28 101.57 442.3 100.7C443.32 99.83 445.07 98.5 446.4 97.4C447.73 96.3 449.3 95.18 450.3 94.1C451.3 93.02 451.88 91.98 452.4 90.9C452.92 89.82 453.15 88.7 453.4 87.6C453.65 86.5 453.72 85.9 453.9 84.3C454.07 82.7 454.34 79.05 454.45 78C454.56 76.95 454.44 76.95 454.55 78Z" stroke="#111" stroke-width="1.2" fill="#c9c9ce" stroke-linejoin="round"/>
<path d="M491.75 80.6C492.02 80.92 492.32 81.6 492.4 82.5C492.48 83.4 492.27 84.83 492.25 86C492.23 87.17 492.12 88.62 492.25 89.5C492.38 90.38 492.45 90.78 493.05 91.3C493.65 91.82 494.72 92.15 495.85 92.6C496.98 93.05 498.58 93.5 499.85 94C501.12 94.5 502.38 95.07 503.45 95.6C504.52 96.13 505.58 96.72 506.25 97.2C506.92 97.68 507.33 98.08 507.45 98.5C507.57 98.92 507.23 99.28 506.95 99.7C506.67 100.12 506.6 100.28 505.75 101C504.9 101.72 503.18 102.97 501.85 104C500.52 105.03 498.97 106.12 497.75 107.2C496.53 108.28 495.58 109.5 494.55 110.5C493.52 111.5 492.15 112.75 491.55 113.2C490.95 113.65 491.55 113.65 490.95 113.2C490.35 112.75 488.98 111.5 487.95 110.5C486.92 109.5 485.97 108.28 484.75 107.2C483.53 106.12 481.98 105.03 480.65 104C479.32 102.97 477.6 101.72 476.75 101C475.9 100.28 475.83 100.12 475.55 99.7C475.27 99.28 474.93 98.92 475.05 98.5C475.17 98.08 475.58 97.68 476.25 97.2C476.92 96.72 477.98 96.13 479.05 95.6C480.12 95.07 481.38 94.5 482.65 94C483.92 93.5 485.52 93.05 486.65 92.6C487.78 92.15 488.85 91.82 489.45 91.3C490.05 90.78 490.12 90.38 490.25 89.5C490.38 88.62 490.27 87.17 490.25 86C490.23 84.83 490.02 83.4 490.1 82.5C490.18 81.6 490.48 80.92 490.75 80.6C491.02 80.28 491.48 80.28 491.75 80.6Z" stroke="#111" stroke-width="1.2" fill="#a50f2e" stroke-linejoin="round"/>
<path d="M454.5 76.35V74.25H491.25V76.35" stroke="#111" stroke-width="1.15" fill="none" stroke-linejoin="round" stroke-linecap="round"/>
<text transform="rotate(0.05 472.88 73.8)" x="472.88" y="73.8" font-size="4.6" text-anchor="middle" fill="#333" stroke="#333" stroke-width="0.14">****</text>
<text transform="rotate(0.05 433 58.6)" x="433" y="58.6" font-size="5.8" textLength="34" lengthAdjust="spacingAndGlyphs" fill="#222" stroke="#222" stroke-width="0.14">Reddy et. al.</text>
<text transform="rotate(0.05 433 66.6)" x="433" y="66.6" font-size="5.8" textLength="79" lengthAdjust="spacingAndGlyphs" fill="#222" stroke="#222" stroke-width="0.14">excl. Discovery set (n = 615)</text>
<text transform="rotate(0.05 457 140.1)" x="457" y="140.1" font-size="5.3" textLength="50" lengthAdjust="spacingAndGlyphs" fill="#111" stroke="#111" stroke-width="0.14">Wilcoxon, p = 3e—07</text>
<text transform="rotate(0.05 454.7 155.6)" x="454.7" y="155.6" font-size="6.1" text-anchor="middle" textLength="28.9" lengthAdjust="spacingAndGlyphs" stroke="#000" stroke-width="0.14">Wild—type</text>
<text transform="rotate(0.05 490.9 154.2)" x="490.9" y="154.2" font-size="6.1" text-anchor="middle" textLength="20.8" lengthAdjust="spacingAndGlyphs" stroke="#000" stroke-width="0.14">Altered</text>
<text transform="rotate(0.05 473.1 167.5)" x="473.1" y="167.5" font-size="9.6" text-anchor="middle" textLength="13.8" lengthAdjust="spacingAndGlyphs" stroke="#000" stroke-width="0.32">TP53</text>
<text transform="translate(408,106.2) rotate(-90.05)" font-size="9.5" text-anchor="middle" textLength="85" lengthAdjust="spacingAndGlyphs" stroke="#000" stroke-width="0.22"><tspan font-style="italic" font-weight="bold">MYC</tspan> gene expression (log2)</text>
<path d="M426.75 219.5V290.5H507.5" stroke="#2e2e2e" stroke-width="1.15" fill="none"/>
<path d="M423.4 280.1L426.75 280.1" stroke="#2e2e2e" stroke-width="1.1" fill="none"/>
<text transform="rotate(0.05 420.6 282.4)" x="420.6" y="282.4" font-size="6.5" text-anchor="end" fill="#333" stroke="#333" stroke-width="0.14">8</text>
<path d="M423.4 265.7L426.75 265.7" stroke="#2e2e2e" stroke-width="1.1" fill="none"/>
<text transform="rotate(0.05 420.6 268)" x="420.6" y="268" font-size="6.5" text-anchor="end" fill="#333" stroke="#333" stroke-width="0.14">10</text>
<path d="M423.4 251.3L426.75 251.3" stroke="#2e2e2e" stroke-width="1.1" fill="none"/>
<text transform="rotate(0.05 420.6 253.6)" x="420.6" y="253.6" font-size="6.5" text-anchor="end" fill="#333" stroke="#333" stroke-width="0.14">12</text>
<path d="M423.4 236.9L426.75 236.9" stroke="#2e2e2e" stroke-width="1.1" fill="none"/>
<text transform="rotate(0.05 420.6 239.2)" x="420.6" y="239.2" font-size="6.5" text-anchor="end" fill="#333" stroke="#333" stroke-width="0.14">14</text>
<path d="M423.4 222.5L426.75 222.5" stroke="#2e2e2e" stroke-width="1.1" fill="none"/>
<text transform="rotate(0.05 420.6 224.8)" x="420.6" y="224.8" font-size="6.5" text-anchor="end" fill="#333" stroke="#333" stroke-width="0.14">16</text>
<path d="M449.25 290.5L449.25 294.2" stroke="#2e2e2e" stroke-width="1.1" fill="none"/>
<path d="M487.5 290.5L487.5 294.2" stroke="#2e2e2e" stroke-width="1.1" fill="none"/>
<path d="M449.3 226C449.37 226.83 449.48 229.22 449.6 231C449.73 232.78 449.62 235.18 450.05 236.7C450.48 238.22 451.38 238.98 452.15 240.1C452.92 241.22 453.82 242.28 454.65 243.4C455.48 244.52 456.17 245.68 457.15 246.8C458.13 247.92 459.5 249.13 460.55 250.1C461.6 251.07 462.57 251.62 463.45 252.6C464.33 253.58 465.37 255.02 465.85 256C466.33 256.98 466.53 257.67 466.35 258.5C466.17 259.33 465.85 260.03 464.75 261C463.65 261.97 461.28 263.18 459.75 264.3C458.22 265.42 456.78 266.58 455.55 267.7C454.32 268.82 453.23 269.88 452.35 271C451.47 272.12 450.69 273.48 450.25 274.4C449.81 275.32 449.86 275.5 449.7 276.5C449.54 277.5 449.38 279.75 449.3 280.4C449.22 281.05 449.28 281.05 449.2 280.4C449.12 279.75 448.96 277.5 448.8 276.5C448.64 275.5 448.69 275.32 448.25 274.4C447.81 273.48 447.03 272.12 446.15 271C445.27 269.88 444.18 268.82 442.95 267.7C441.72 266.58 440.28 265.42 438.75 264.3C437.22 263.18 434.85 261.97 433.75 261C432.65 260.03 432.33 259.33 432.15 258.5C431.97 257.67 432.17 256.98 432.65 256C433.13 255.02 434.17 253.58 435.05 252.6C435.93 251.62 436.9 251.07 437.95 250.1C439 249.13 440.37 247.92 441.35 246.8C442.33 245.68 443.02 244.52 443.85 243.4C444.68 242.28 445.58 241.22 446.35 240.1C447.12 238.98 448.02 238.22 448.45 236.7C448.88 235.18 448.77 232.78 448.9 231C449.02 229.22 449.13 226.83 449.2 226C449.27 225.17 449.23 225.17 449.3 226Z" stroke="#111" stroke-width="1.2" fill="#c9c9ce" stroke-linejoin="round"/>
<path d="M487.6 231.7C487.8 232.53 488.27 235.3 488.6 236.7C488.93 238.1 489.02 238.98 489.6 240.1C490.18 241.22 490.98 242.28 492.1 243.4C493.22 244.52 494.9 245.82 496.3 246.8C497.7 247.78 499.32 248.47 500.5 249.3C501.68 250.13 502.73 250.97 503.4 251.8C504.07 252.63 504.57 253.47 504.5 254.3C504.43 255.13 503.95 255.82 503 256.8C502.05 257.78 500.15 259.08 498.8 260.2C497.45 261.32 496.08 262.4 494.9 263.5C493.72 264.6 492.58 265.68 491.7 266.8C490.82 267.92 490.27 268.9 489.6 270.2C488.93 271.5 488.08 273.87 487.7 274.6C487.32 275.33 487.68 275.33 487.3 274.6C486.92 273.87 486.07 271.5 485.4 270.2C484.73 268.9 484.18 267.92 483.3 266.8C482.42 265.68 481.28 264.6 480.1 263.5C478.92 262.4 477.55 261.32 476.2 260.2C474.85 259.08 472.95 257.78 472 256.8C471.05 255.82 470.57 255.13 470.5 254.3C470.43 253.47 470.93 252.63 471.6 251.8C472.27 250.97 473.32 250.13 474.5 249.3C475.68 248.47 477.3 247.78 478.7 246.8C480.1 245.82 481.78 244.52 482.9 243.4C484.02 242.28 484.82 241.22 485.4 240.1C485.98 238.98 486.07 238.1 486.4 236.7C486.73 235.3 487.2 232.53 487.4 231.7C487.6 230.87 487.4 230.87 487.6 231.7Z" stroke="#111" stroke-width="1.2" fill="#a50f2e" stroke-linejoin="round"/>
<path d="M449.25 225.95V223.75H487.5V225.95" stroke="#111" stroke-width="1.15" fill="none" stroke-linejoin="round" stroke-linecap="round"/>
<text transform="rotate(0.05 468.38 223)" x="468.38" y="223" font-size="4.6" text-anchor="middle" fill="#333" stroke="#333" stroke-width="0.14">**</text>
<text transform="rotate(0.05 426.75 206.6)" x="426.75" y="206.6" font-size="5.8" textLength="38.3" lengthAdjust="spacingAndGlyphs" fill="#222" stroke="#222" stroke-width="0.14">Schmitz et. al.</text>
<text transform="rotate(0.05 426.75 214.6)" x="426.75" y="214.6" font-size="5.8" textLength="25.7" lengthAdjust="spacingAndGlyphs" fill="#222" stroke="#222" stroke-width="0.14">(n = 471)</text>
<text transform="rotate(0.05 452 286.3)" x="452" y="286.3" font-size="5.3" textLength="49.3" lengthAdjust="spacingAndGlyphs" fill="#111" stroke="#111" stroke-width="0.14">Wilcoxon, p = 0.0017</text>
<text transform="rotate(0.05 449.3 303.8)" x="449.3" y="303.8" font-size="6.1" text-anchor="middle" textLength="29.6" lengthAdjust="spacingAndGlyphs" stroke="#000" stroke-width="0.14">Wild—type</text>
<text transform="rotate(0.05 487.5 303.8)" x="487.5" y="303.8" font-size="6.1" text-anchor="middle" textLength="20" lengthAdjust="spacingAndGlyphs" stroke="#000" stroke-width="0.14">Altered</text>
<text transform="rotate(0.05 468.5 317)" x="468.5" y="317" font-size="9.6" text-anchor="middle" textLength="15.5" lengthAdjust="spacingAndGlyphs" stroke="#000" stroke-width="0.32">TP53</text>
<text transform="translate(407,254.6) rotate(-90.05)" font-size="9.5" text-anchor="middle" textLength="83.2" lengthAdjust="spacingAndGlyphs" stroke="#000" stroke-width="0.22"><tspan font-style="italic" font-weight="bold">MYC</tspan> gene expression (log2)</text>
<text transform="rotate(0.05 396.6 330.2)" x="396.6" y="330.2" font-size="6.3" text-anchor="middle" font-style="italic" textLength="16.8" lengthAdjust="spacingAndGlyphs" fill="#222" stroke="#222" stroke-width="0.25">BCL6</text>
<path d="M333.75 333L459.25 333" stroke="#333" stroke-width="1.4" fill="none"/>
<path d="M333.7 342V452.4H460.5" stroke="#2e2e2e" stroke-width="1.15" fill="none"/>
<path d="M330.3 430.9L333.7 430.9" stroke="#2e2e2e" stroke-width="1.1" fill="none"/>
<text transform="rotate(0.05 327.1 433.4)" x="327.1" y="433.4" font-size="6.5" text-anchor="end" fill="#333" stroke="#333" stroke-width="0.14">3</text>
<path d="M330.3 399.25L333.7 399.25" stroke="#2e2e2e" stroke-width="1.1" fill="none"/>
<text transform="rotate(0.05 327.1 401.75)" x="327.1" y="401.75" font-size="6.5" text-anchor="end" fill="#333" stroke="#333" stroke-width="0.14">6</text>
<path d="M330.3 367.6L333.7 367.6" stroke="#2e2e2e" stroke-width="1.1" fill="none"/>
<text transform="rotate(0.05 327.1 370.1)" x="327.1" y="370.1" font-size="6.5" text-anchor="end" fill="#333" stroke="#333" stroke-width="0.14">9</text>
<path d="M357.25 452.4L357.25 455.8" stroke="#2e2e2e" stroke-width="1.1" fill="none"/>
<path d="M396.9 452.4L396.9 455.8" stroke="#2e2e2e" stroke-width="1.1" fill="none"/>
<path d="M436.25 452.4L436.25 455.8" stroke="#2e2e2e" stroke-width="1.1" fill="none"/>
<path d="M357.5 370.75V390.5M357.5 403.5V415" stroke="#1a1a1a" stroke-width="1" fill="none"/>
<rect x="342.5" y="390.5" width="30" height="13" fill="none" stroke="#1a1a1a" stroke-width="1"/>
<path d="M342.5 396.75H372.5" stroke="#1a1a1a" stroke-width="1.5" fill="none"/>
<path d="M396.5 377V391.5M396.5 408.5V416.25" stroke="#1a1a1a" stroke-width="1" fill="none"/>
<rect x="381.5" y="391.5" width="30" height="17" fill="none" stroke="#1a1a1a" stroke-width="1"/>
<path d="M381.5 400.25H411.5" stroke="#1a1a1a" stroke-width="1.5" fill="none"/>
<path d="M436.5 380.75V390.5M436.5 410.5V419.25" stroke="#1a1a1a" stroke-width="1" fill="none"/>
<rect x="421.5" y="390.5" width="30" height="20" fill="none" stroke="#1a1a1a" stroke-width="1"/>
<path d="M421.5 398.25H451.5" stroke="#1a1a1a" stroke-width="1.5" fill="none"/>
<circle cx="367.64" cy="391.09" r="1.5" fill="#b35a0a"/>
<circle cx="350.36" cy="388.71" r="1.5" fill="#b35a0a"/>
<circle cx="358.14" cy="400.56" r="1.5" fill="#b5d3f0"/>
<circle cx="345.65" cy="394.08" r="1.5" fill="#b35a0a"/>
<circle cx="359.85" cy="382.66" r="1.5" fill="#b35a0a"/>
<circle cx="359.5" cy="392.39" r="1.5" fill="#b35a0a"/>
<circle cx="353.27" cy="394.13" r="1.5" fill="#b35a0a"/>
<circle cx="349.46" cy="400.89" r="1.5" fill="#b5d3f0"/>
<circle cx="361.17" cy="408.16" r="1.5" fill="#b35a0a"/>
<circle cx="367.02" cy="398.09" r="1.5" fill="#b35a0a"/>
<circle cx="362.12" cy="396.86" r="1.5" fill="#b5d3f0"/>
<circle cx="363.38" cy="402.33" r="1.5" fill="#b5d3f0"/>
<circle cx="364.08" cy="399.25" r="1.5" fill="#b35a0a"/>
<circle cx="353.63" cy="404.58" r="1.5" fill="#b5d3f0"/>
<circle cx="355.39" cy="391" r="1.5" fill="#b35a0a"/>
<circle cx="363.6" cy="391.75" r="1.5" fill="#b35a0a"/>
<circle cx="354.52" cy="401.23" r="1.5" fill="#b35a0a"/>
<circle cx="365.41" cy="401.11" r="1.5" fill="#b35a0a"/>
<circle cx="368.71" cy="394.69" r="1.5" fill="#b35a0a"/>
<circle cx="356.42" cy="396.13" r="1.5" fill="#b35a0a"/>
<circle cx="354.32" cy="384.44" r="1.5" fill="#b35a0a"/>
<circle cx="352.71" cy="398.24" r="1.5" fill="#b35a0a"/>
<circle cx="356.44" cy="399.54" r="1.5" fill="#b35a0a"/>
<circle cx="364.15" cy="386.41" r="1.5" fill="#b35a0a"/>
<circle cx="359.76" cy="404.38" r="1.5" fill="#b35a0a"/>
<circle cx="349.38" cy="393.76" r="1.5" fill="#b35a0a"/>
<circle cx="347.87" cy="398.67" r="1.5" fill="#b35a0a"/>
<circle cx="360.68" cy="388.46" r="1.5" fill="#b35a0a"/>
<circle cx="365.66" cy="394.05" r="1.5" fill="#b35a0a"/>
<circle cx="347.17" cy="389.82" r="1.5" fill="#b35a0a"/>
<circle cx="355.8" cy="403.39" r="1.5" fill="#b35a0a"/>
<circle cx="351.72" cy="391.83" r="1.5" fill="#b35a0a"/>
<circle cx="356.29" cy="393.1" r="1.5" fill="#b35a0a"/>
<circle cx="348.06" cy="395.79" r="1.5" fill="#b35a0a"/>
<circle cx="357.72" cy="389.69" r="1.5" fill="#b35a0a"/>
<circle cx="354.27" cy="388.03" r="1.5" fill="#b35a0a"/>
<circle cx="362.85" cy="405.47" r="1.5" fill="#b35a0a"/>
<circle cx="361.91" cy="399.8" r="1.5" fill="#b35a0a"/>
<circle cx="358.38" cy="398.03" r="1.5" fill="#b35a0a"/>
<circle cx="360.55" cy="402.17" r="1.5" fill="#b35a0a"/>
<circle cx="356.57" cy="408.1" r="1.5" fill="#b35a0a"/>
<circle cx="352" cy="400.03" r="1.5" fill="#b35a0a"/>
<circle cx="352.78" cy="402.47" r="1.5" fill="#b35a0a"/>
<circle cx="365.81" cy="391.11" r="1.5" fill="#b35a0a"/>
<circle cx="350.9" cy="396.07" r="1.5" fill="#b35a0a"/>
<circle cx="356.3" cy="405.53" r="1.5" fill="#b5d3f0"/>
<circle cx="350.68" cy="398.9" r="1.5" fill="#b35a0a"/>
<circle cx="360.48" cy="395.63" r="1.5" fill="#b35a0a"/>
<circle cx="354.25" cy="397.97" r="1.5" fill="#b35a0a"/>
<circle cx="350.74" cy="403.43" r="1.5" fill="#b35a0a"/>
<circle cx="353.17" cy="407.46" r="1.5" fill="#b35a0a"/>
<circle cx="358.82" cy="412.12" r="1.5" fill="#b35a0a"/>
<circle cx="355.73" cy="380.7" r="1.5" fill="#b35a0a"/>
<circle cx="351.92" cy="390.05" r="1.5" fill="#b35a0a"/>
<circle cx="358.28" cy="406.85" r="1.5" fill="#b35a0a"/>
<circle cx="361.51" cy="390.79" r="1.5" fill="#b35a0a"/>
<circle cx="354.55" cy="381.88" r="1.5" fill="#b35a0a"/>
<circle cx="362.67" cy="393.76" r="1.5" fill="#b35a0a"/>
<circle cx="361.08" cy="405.71" r="1.5" fill="#b35a0a"/>
<circle cx="363.93" cy="395.22" r="1.5" fill="#b35a0a"/>
<circle cx="366.2" cy="396.36" r="1.5" fill="#b5d3f0"/>
<circle cx="358.71" cy="402.7" r="1.5" fill="#b35a0a"/>
<circle cx="347.31" cy="394.15" r="1.5" fill="#b35a0a"/>
<circle cx="355.44" cy="412.49" r="1.5" fill="#b35a0a"/>
<circle cx="357.63" cy="385.14" r="1.5" fill="#b35a0a"/>
<circle cx="346.93" cy="392.25" r="1.5" fill="#b35a0a"/>
<circle cx="369.2" cy="392.57" r="1.5" fill="#b35a0a"/>
<circle cx="362.34" cy="384.47" r="1.5" fill="#b35a0a"/>
<circle cx="349.12" cy="392.1" r="1.5" fill="#b35a0a"/>
<circle cx="363.67" cy="400.84" r="1.5" fill="#b5d3f0"/>
<circle cx="356.27" cy="400.99" r="1.5" fill="#b35a0a"/>
<circle cx="358.05" cy="404.5" r="1.5" fill="#b35a0a"/>
<circle cx="354.36" cy="410.35" r="1.5" fill="#b5d3f0"/>
<circle cx="363.37" cy="389.49" r="1.5" fill="#b35a0a"/>
<circle cx="357.83" cy="387.8" r="1.5" fill="#b35a0a"/>
<circle cx="360.36" cy="399.62" r="1.5" fill="#b5d3f0"/>
<circle cx="362.01" cy="402.84" r="1.5" fill="#b35a0a"/>
<circle cx="353.84" cy="392.37" r="1.5" fill="#b35a0a"/>
<circle cx="362.38" cy="387.62" r="1.5" fill="#b35a0a"/>
<circle cx="351.75" cy="384.84" r="1.5" fill="#b35a0a"/>
<circle cx="364.26" cy="403.42" r="1.5" fill="#b35a0a"/>
<circle cx="355.43" cy="389.24" r="1.5" fill="#b35a0a"/>
<circle cx="365.47" cy="388.05" r="1.5" fill="#b35a0a"/>
<circle cx="360.03" cy="390.24" r="1.5" fill="#b35a0a"/>
<circle cx="362.92" cy="398.84" r="1.5" fill="#b35a0a"/>
<circle cx="357.42" cy="402.88" r="1.5" fill="#b5d3f0"/>
<circle cx="352.29" cy="388.19" r="1.5" fill="#b35a0a"/>
<circle cx="355.08" cy="399.01" r="1.5" fill="#b5d3f0"/>
<circle cx="360.32" cy="397.84" r="1.5" fill="#b35a0a"/>
<circle cx="360.57" cy="393.99" r="1.5" fill="#b35a0a"/>
<circle cx="365.77" cy="397.82" r="1.5" fill="#b35a0a"/>
<circle cx="348.73" cy="388.03" r="1.5" fill="#b35a0a"/>
<circle cx="362.24" cy="401.18" r="1.5" fill="#b35a0a"/>
<circle cx="359.04" cy="409.31" r="1.5" fill="#b5d3f0"/>
<circle cx="363.95" cy="393.69" r="1.5" fill="#b35a0a"/>
<circle cx="357.8" cy="392.56" r="1.5" fill="#b35a0a"/>
<circle cx="364.02" cy="388.34" r="1.5" fill="#b35a0a"/>
<circle cx="353.47" cy="391.03" r="1.5" fill="#b35a0a"/>
<circle cx="360.93" cy="385.69" r="1.5" fill="#b35a0a"/>
<circle cx="356.34" cy="384.02" r="1.5" fill="#b35a0a"/>
<circle cx="357.2" cy="370.55" r="1.5" fill="#b35a0a"/>
<circle cx="358.4" cy="373.72" r="1.5" fill="#b35a0a"/>
<circle cx="356.6" cy="376.04" r="1.5" fill="#b35a0a"/>
<circle cx="357.8" cy="377.94" r="1.5" fill="#b35a0a"/>
<circle cx="357.1" cy="427.8" r="1.5" fill="#b5d3f0"/>
<circle cx="396.3" cy="376.3" r="1.5" fill="#b35a0a"/>
<circle cx="393.4" cy="384" r="1.5" fill="#b35a0a"/>
<circle cx="401.1" cy="388.4" r="1.5" fill="#b35a0a"/>
<circle cx="397" cy="390.8" r="1.5" fill="#b35a0a"/>
<circle cx="405.9" cy="396.5" r="1.5" fill="#b35a0a"/>
<circle cx="394.4" cy="397.7" r="1.5" fill="#b35a0a"/>
<circle cx="389.1" cy="399.2" r="1.5" fill="#b5d3f0"/>
<circle cx="401.8" cy="399.2" r="1.5" fill="#b35a0a"/>
<circle cx="392.7" cy="401.3" r="1.5" fill="#b35a0a"/>
<circle cx="403" cy="401.3" r="1.5" fill="#b35a0a"/>
<circle cx="398" cy="403.3" r="1.5" fill="#b35a0a"/>
<circle cx="386.7" cy="408.1" r="1.5" fill="#b35a0a"/>
<circle cx="393.9" cy="408.8" r="1.5" fill="#b35a0a"/>
<circle cx="399.9" cy="408.8" r="1.5" fill="#b35a0a"/>
<circle cx="405.4" cy="408.6" r="1.5" fill="#b5d3f0"/>
<circle cx="401.6" cy="411" r="1.5" fill="#b5d3f0"/>
<circle cx="395.6" cy="417" r="1.5" fill="#b5d3f0"/>
<circle cx="396.8" cy="433.8" r="1.5" fill="#b35a0a"/>
<circle cx="432.8" cy="380.4" r="1.5" fill="#b35a0a"/>
<circle cx="441.25" cy="384" r="1.5" fill="#b35a0a"/>
<circle cx="435.5" cy="386.9" r="1.5" fill="#b35a0a"/>
<circle cx="439.1" cy="388.8" r="1.5" fill="#b35a0a"/>
<circle cx="432.4" cy="391.25" r="1.5" fill="#b35a0a"/>
<circle cx="432.4" cy="396.5" r="1.5" fill="#b35a0a"/>
<circle cx="437.6" cy="397.3" r="1.5" fill="#b35a0a"/>
<circle cx="443.2" cy="396.5" r="1.5" fill="#b5d3f0"/>
<circle cx="426.3" cy="399.2" r="1.5" fill="#b35a0a"/>
<circle cx="445.1" cy="400.4" r="1.5" fill="#b35a0a"/>
<circle cx="434.3" cy="401.6" r="1.5" fill="#b35a0a"/>
<circle cx="430" cy="410" r="1.5" fill="#b35a0a"/>
<circle cx="438.4" cy="410.5" r="1.5" fill="#b35a0a"/>
<circle cx="440.8" cy="411" r="1.5" fill="#b35a0a"/>
<circle cx="433.1" cy="413.4" r="1.5" fill="#b35a0a"/>
<circle cx="436.2" cy="420.1" r="1.5" fill="#b5d3f0"/>
<path d="M357 354.6V352.5H436.5V354.6" stroke="#111" stroke-width="1.15" fill="none" stroke-linejoin="round" stroke-linecap="round"/>
<text transform="rotate(0.05 396.75 349.7)" x="396.75" y="349.7" font-size="5.2" text-anchor="middle" fill="#333" stroke="#333" stroke-width="0.14">ns</text>
<path d="M357 369.6V367.5H396.75V369.6" stroke="#111" stroke-width="1.15" fill="none" stroke-linejoin="round" stroke-linecap="round"/>
<text transform="rotate(0.05 376.88 364.7)" x="376.88" y="364.7" font-size="5.2" text-anchor="middle" fill="#333" stroke="#333" stroke-width="0.14">ns</text>
<path d="M396.4 362.1V360H436.5V362.1" stroke="#111" stroke-width="1.15" fill="none" stroke-linejoin="round" stroke-linecap="round"/>
<text transform="rotate(0.05 416.45 357.2)" x="416.45" y="357.2" font-size="5.2" text-anchor="middle" fill="#333" stroke="#333" stroke-width="0.14">ns</text>
<text transform="rotate(0.05 348 448.5)" x="348" y="448.5" font-size="6.3" textLength="68.3" lengthAdjust="spacingAndGlyphs" fill="#222" stroke="#222" stroke-width="0.14">Kruskal–Wallis, p = 0.39</text>
<text transform="rotate(0.05 357.1 463.9)" x="357.1" y="463.9" font-size="6.2" text-anchor="middle" textLength="35.8" lengthAdjust="spacingAndGlyphs" stroke="#000" stroke-width="0.14">No Alteration</text>
<text transform="rotate(0.05 396.6 463.9)" x="396.6" y="463.9" font-size="6.2" text-anchor="middle" textLength="35.8" lengthAdjust="spacingAndGlyphs" stroke="#000" stroke-width="0.14">Translocation</text>
<text transform="rotate(0.05 436.3 463.9)" x="436.3" y="463.9" font-size="6.2" text-anchor="middle" textLength="27.7" lengthAdjust="spacingAndGlyphs" stroke="#000" stroke-width="0.14">Gain/Amp</text>
<text transform="translate(317.8,397) rotate(-90.05)" font-size="9.5" text-anchor="middle" textLength="88" lengthAdjust="spacingAndGlyphs" stroke="#000" stroke-width="0.22"><tspan font-style="italic" font-weight="bold">BCL6</tspan> gene expression (log2)</text>
<text transform="rotate(0.05 470.5 388.4)" x="470.5" y="388.4" font-size="5.4" textLength="24.5" lengthAdjust="spacingAndGlyphs" fill="#222" stroke="#222" stroke-width="0.14">BCL6 IHC</text>
<circle cx="471.8" cy="396" r="1.6" fill="#b5d3f0"/>
<text transform="rotate(0.05 476.2 397.85)" x="476.2" y="397.85" font-size="5.3" textLength="20.5" lengthAdjust="spacingAndGlyphs" fill="#222" stroke="#222" stroke-width="0.14">Negative</text>
<circle cx="471.8" cy="405" r="1.6" fill="#b35a0a"/>
<text transform="rotate(0.05 476.2 406.85)" x="476.2" y="406.85" font-size="5.3" textLength="18" lengthAdjust="spacingAndGlyphs" fill="#222" stroke="#222" stroke-width="0.14">Positive</text>
<text transform="rotate(0.05 397.9 510.4)" x="397.9" y="510.4" font-size="6.25" text-anchor="middle" textLength="71.8" lengthAdjust="spacingAndGlyphs" fill="#222" stroke="#222" stroke-width="0.14"><tspan font-style="italic">BCL6</tspan> structural alteration</text>
<svg x="340" y="467.5" width="34.5" height="33.8" viewBox="0 0 40 40" preserveAspectRatio="none">
<rect x="0" y="0" width="40" height="40" fill="#020218"/>
<g filter="url(#bl)">
<ellipse cx="20.7" cy="21.4" rx="10.5" ry="10.5" fill="#1111c4"/>
<ellipse cx="20.7" cy="21.4" rx="6" ry="6" fill="#1515d8"/>
<ellipse cx="7" cy="6" rx="8.5" ry="7" fill="#0a0a9c"/>
<ellipse cx="30" cy="4" rx="9.5" ry="5.5" fill="#0a0a9c"/>
<ellipse cx="38" cy="24" rx="5" ry="9" fill="#0a0a9c"/>
<ellipse cx="6" cy="35" rx="9.5" ry="6" fill="#0a0a9c"/>
<ellipse cx="1" cy="20" rx="3" ry="5" fill="#080886"/>
<ellipse cx="27" cy="39" rx="7" ry="3.5" fill="#090992"/>
</g>
<path d="M11 21C11.5 16 16 11 21 11C26 11 30.7 16 30.7 21.5C30.7 27 26 32 20.5 32C15 32 10.6 26.5 11 21Z" fill="none" stroke="#90904e" stroke-width="0.75" opacity="0.7"/>
<g filter="url(#bs)">
<circle cx="17.5" cy="6.5" r="0.8" fill="#d82060"/>
<circle cx="24" cy="18" r="0.8" fill="#e02070"/>
<circle cx="24.8" cy="18.8" r="0.8" fill="#d03060"/>
<circle cx="18.5" cy="27.4" r="0.8" fill="#d82060"/>
</g>
</svg>
<svg x="379.25" y="467.5" width="34" height="33.8" viewBox="0 0 40 40" preserveAspectRatio="none">
<rect x="0" y="0" width="40" height="40" fill="#020218"/>
<g filter="url(#bl)">
<ellipse cx="21.5" cy="19.4" rx="11" ry="11" fill="#1212c6"/>
<ellipse cx="21.5" cy="19.4" rx="6" ry="6" fill="#1616da"/>
<ellipse cx="4.5" cy="8" rx="7.5" ry="8.5" fill="#0a0a9c"/>
<ellipse cx="35" cy="8" rx="7" ry="7.5" fill="#0a0a9c"/>
<ellipse cx="35" cy="31" rx="7" ry="8" fill="#090992"/>
<ellipse cx="8" cy="36" rx="9.5" ry="5.5" fill="#0a0a9c"/>
<ellipse cx="21" cy="0.5" rx="6" ry="3" fill="#080886"/>
</g>
<path d="M10.5 20C10.5 14 15.5 9 21.5 9.2C27 9.4 32 14 32 20C32 26.5 27.5 31.2 21.5 31.2C15.5 31.2 10.5 26.5 10.5 20Z" fill="none" stroke="#90904e" stroke-width="0.75" opacity="0.7"/>
<g filter="url(#bs)">
<circle cx="21.6" cy="13.6" r="0.8" fill="#f0f080"/>
<circle cx="22.4" cy="14.6" r="0.8" fill="#e03060"/>
<circle cx="26.6" cy="22" r="0.8" fill="#30a070"/>
<circle cx="18" cy="24" r="0.8" fill="#d82060"/>
<circle cx="29" cy="9" r="0.8" fill="#c02050"/>
<circle cx="39" cy="17" r="0.8" fill="#30d070"/>
<circle cx="25" cy="35.4" r="0.8" fill="#c82060"/>
</g>
</svg>
<svg x="419.5" y="467.6" width="33.9" height="33.8" viewBox="0 0 40 40" preserveAspectRatio="none">
<rect x="0" y="0" width="40" height="40" fill="#020218"/>
<g filter="url(#bl)">
<ellipse cx="21" cy="20" rx="11.5" ry="11" fill="#1212c6"/>
<ellipse cx="21" cy="20" rx="6" ry="6" fill="#1616da"/>
<ellipse cx="4.5" cy="6" rx="7.5" ry="7.5" fill="#0a0a9c"/>
<ellipse cx="35" cy="8" rx="7.5" ry="7.5" fill="#0a0a9c"/>
<ellipse cx="37.5" cy="33" rx="6.5" ry="7.5" fill="#1414d0"/>
<ellipse cx="6" cy="36" rx="9.5" ry="5" fill="#0a0a9c"/>
<ellipse cx="22" cy="0.5" rx="6" ry="3" fill="#080886"/>
</g>
<path d="M10 20C10 14 15 10 21 10C27 10 32 14.5 32 20C32 26 27 30.5 21 30.5C15 30.5 10 26 10 20Z" fill="none" stroke="#90904e" stroke-width="0.75" opacity="0.7"/>
<g filter="url(#bs)">
<circle cx="22" cy="15" r="0.8" fill="#e03060"/>
<circle cx="16" cy="21" r="0.8" fill="#30c0c0"/>
<circle cx="16.4" cy="22.2" r="0.8" fill="#e02070"/>
<circle cx="17" cy="29.6" r="0.8" fill="#e02040"/>
<circle cx="2" cy="34" r="0.8" fill="#b0b0ff"/>
<circle cx="3.4" cy="36" r="0.8" fill="#30c080"/>
</g>
</svg>
<g id="panelF">
<rect x="14.5" y="328.3" width="2.44" height="3.45" fill="#e08c12"/>
<rect x="16.94" y="328.3" width="0.81" height="3.45" fill="#2a4a8c"/>
<rect x="17.76" y="328.3" width="0.81" height="3.45" fill="#c9c9ce"/>
<rect x="18.57" y="328.3" width="4.07" height="3.45" fill="#e08c12"/>
<rect x="22.64" y="328.3" width="0.81" height="3.45" fill="#2a4a8c"/>
<rect x="23.46" y="328.3" width="2.44" height="3.45" fill="#e08c12"/>
<rect x="28.2" y="328.3" width="4.43" height="3.45" fill="#2a4a8c"/>
<rect x="32.63" y="328.3" width="1.48" height="3.45" fill="#e08c12"/>
<rect x="34.11" y="328.3" width="2.95" height="3.45" fill="#2a4a8c"/>
<rect x="37.06" y="328.3" width="2.22" height="3.45" fill="#e08c12"/>
<rect x="39.28" y="328.3" width="1.48" height="3.45" fill="#2a4a8c"/>
<rect x="40.75" y="328.3" width="1.48" height="3.45" fill="#c9c9ce"/>
<rect x="42.23" y="328.3" width="2.95" height="3.45" fill="#2a4a8c"/>
<rect x="45.18" y="328.3" width="2.95" height="3.45" fill="#e08c12"/>
<rect x="48.14" y="328.3" width="1.48" height="3.45" fill="#2a4a8c"/>
<rect x="49.61" y="328.3" width="1.48" height="3.45" fill="#e08c12"/>
<rect x="51.09" y="328.3" width="1.48" height="3.45" fill="#2a4a8c"/>
<rect x="52.57" y="328.3" width="0.74" height="3.45" fill="#e08c12"/>
<rect x="53.3" y="328.3" width="2.22" height="3.45" fill="#2a4a8c"/>
<rect x="55.52" y="328.3" width="3.69" height="3.45" fill="#e08c12"/>
<rect x="59.21" y="328.3" width="0.74" height="3.45" fill="#c9c9ce"/>
<rect x="59.95" y="328.3" width="2.22" height="3.45" fill="#2a4a8c"/>
<rect x="62.17" y="328.3" width="0.74" height="3.45" fill="#e08c12"/>
<rect x="62.9" y="328.3" width="0.74" height="3.45" fill="#2a4a8c"/>
<rect x="63.64" y="328.3" width="1.48" height="3.45" fill="#e08c12"/>
<rect x="65.12" y="328.3" width="0.74" height="3.45" fill="#2a4a8c"/>
<rect x="65.86" y="328.3" width="4.43" height="3.45" fill="#e08c12"/>
<rect x="70.29" y="328.3" width="0.74" height="3.45" fill="#2a4a8c"/>
<rect x="71.03" y="328.3" width="2.22" height="3.45" fill="#e08c12"/>
<rect x="73.24" y="328.3" width="0.74" height="3.45" fill="#2a4a8c"/>
<rect x="73.98" y="328.3" width="9.6" height="3.45" fill="#e08c12"/>
<rect x="83.58" y="328.3" width="1.48" height="3.45" fill="#2a4a8c"/>
<rect x="85.05" y="328.3" width="5.17" height="3.45" fill="#e08c12"/>
<rect x="90.22" y="328.3" width="1.48" height="3.45" fill="#c9c9ce"/>
<rect x="14.5" y="333.3" width="0.81" height="3.6" fill="#e08c12"/>
<rect x="15.31" y="333.3" width="1.63" height="3.6" fill="#2a4a8c"/>
<rect x="16.94" y="333.3" width="6.51" height="3.6" fill="#e08c12"/>
<rect x="23.46" y="333.3" width="0.81" height="3.6" fill="#2a4a8c"/>
<rect x="24.27" y="333.3" width="1.63" height="3.6" fill="#e08c12"/>
<rect x="28.2" y="333.3" width="0.74" height="3.6" fill="#e08c12"/>
<rect x="28.94" y="333.3" width="0.74" height="3.6" fill="#2a4a8c"/>
<rect x="29.68" y="333.3" width="0.74" height="3.6" fill="#c9c9ce"/>
<rect x="30.42" y="333.3" width="1.48" height="3.6" fill="#2a4a8c"/>
<rect x="31.89" y="333.3" width="2.22" height="3.6" fill="#e08c12"/>
<rect x="34.11" y="333.3" width="2.95" height="3.6" fill="#2a4a8c"/>
<rect x="37.06" y="333.3" width="2.22" height="3.6" fill="#e08c12"/>
<rect x="39.28" y="333.3" width="0.74" height="3.6" fill="#c9c9ce"/>
<rect x="40.01" y="333.3" width="0.74" height="3.6" fill="#2a4a8c"/>
<rect x="40.75" y="333.3" width="0.74" height="3.6" fill="#c9c9ce"/>
<rect x="41.49" y="333.3" width="2.95" height="3.6" fill="#2a4a8c"/>
<rect x="44.44" y="333.3" width="2.95" height="3.6" fill="#e08c12"/>
<rect x="47.4" y="333.3" width="0.74" height="3.6" fill="#c9c9ce"/>
<rect x="48.14" y="333.3" width="0.74" height="3.6" fill="#2a4a8c"/>
<rect x="48.87" y="333.3" width="0.74" height="3.6" fill="#c9c9ce"/>
<rect x="49.61" y="333.3" width="0.74" height="3.6" fill="#2a4a8c"/>
<rect x="50.35" y="333.3" width="0.74" height="3.6" fill="#e08c12"/>
<rect x="51.09" y="333.3" width="1.48" height="3.6" fill="#2a4a8c"/>
<rect x="52.57" y="333.3" width="0.74" height="3.6" fill="#e08c12"/>
<rect x="53.3" y="333.3" width="0.74" height="3.6" fill="#c9c9ce"/>
<rect x="54.04" y="333.3" width="0.74" height="3.6" fill="#2a4a8c"/>
<rect x="54.78" y="333.3" width="5.17" height="3.6" fill="#e08c12"/>
<rect x="59.95" y="333.3" width="3.69" height="3.6" fill="#2a4a8c"/>
<rect x="63.64" y="333.3" width="0.74" height="3.6" fill="#e08c12"/>
<rect x="64.38" y="333.3" width="1.48" height="3.6" fill="#2a4a8c"/>
<rect x="65.86" y="333.3" width="4.43" height="3.6" fill="#e08c12"/>
<rect x="70.29" y="333.3" width="0.74" height="3.6" fill="#2a4a8c"/>
<rect x="71.03" y="333.3" width="1.48" height="3.6" fill="#e08c12"/>
<rect x="72.5" y="333.3" width="0.74" height="3.6" fill="#2a4a8c"/>
<rect x="73.24" y="333.3" width="0.74" height="3.6" fill="#c9c9ce"/>
<rect x="73.98" y="333.3" width="4.43" height="3.6" fill="#e08c12"/>
<rect x="78.41" y="333.3" width="0.74" height="3.6" fill="#2a4a8c"/>
<rect x="79.15" y="333.3" width="0.74" height="3.6" fill="#e08c12"/>
<rect x="79.89" y="333.3" width="0.74" height="3.6" fill="#c9c9ce"/>
<rect x="80.62" y="333.3" width="2.95" height="3.6" fill="#e08c12"/>
<rect x="83.58" y="333.3" width="0.74" height="3.6" fill="#2a4a8c"/>
<rect x="84.32" y="333.3" width="0.74" height="3.6" fill="#c9c9ce"/>
<rect x="85.05" y="333.3" width="2.22" height="3.6" fill="#e08c12"/>
<rect x="87.27" y="333.3" width="0.74" height="3.6" fill="#2a4a8c"/>
<rect x="88.01" y="333.3" width="2.22" height="3.6" fill="#e08c12"/>
<rect x="90.22" y="333.3" width="0.74" height="3.6" fill="#2a4a8c"/>
<rect x="90.96" y="333.3" width="0.74" height="3.6" fill="#c9c9ce"/>
<rect x="14.5" y="338.5" width="11.4" height="3.3" fill="#8e1f8c"/>
<rect x="28.2" y="338.5" width="63.5" height="3.3" fill="#c9c9ce"/>
<rect x="14.5" y="343.7" width="11.4" height="91.9" fill="#eb5c63"/>
<path d="M20.2 368.59h0.81M18.57 395.39h0.81M25.09 418.37h0.81" stroke="#902a7f" stroke-width="3.88" fill="none"/>
<path d="M15.31 345.61h0.81M25.09 364.76h0.81M22.64 368.59h0.81M18.57 372.42h0.81M24.27 383.91h0.81M19.39 387.74h0.81M24.27 399.22h0.81M15.31 406.88h0.81" stroke="#a02f7d" stroke-width="3.88" fill="none"/>
<path d="M23.46 353.27h0.81M24.27 357.1h0.81M18.57 364.76h0.81M24.27 364.76h0.81M15.31 372.42h0.81M25.09 372.42h0.81M25.09 380.08h0.81M17.76 387.74h0.81M19.39 399.22h0.81M24.27 403.05h0.81M18.57 422.2h1.63M21.01 426.03h0.81" stroke="#af347a" stroke-width="3.88" fill="none"/>
<path d="M25.09 345.61h0.81M18.57 353.27h0.81M24.27 353.27h0.81M20.2 357.1h0.81M16.94 360.93h0.81M22.64 364.76h0.81M18.57 368.59h0.81M19.39 372.42h0.81M23.46 372.42h1.63M24.27 376.25h0.81M18.57 380.08h0.81M14.5 387.74h1.63M16.94 387.74h0.81M19.39 391.56h0.81M19.39 395.39h0.81M21.01 399.22h0.81M18.57 403.05h2.44M14.5 410.71h0.81M16.94 410.71h0.81M18.57 410.71h0.81M21.01 410.71h0.81M21.83 414.54h0.81M18.57 418.37h2.44M24.27 426.03h1.63M19.39 429.86h0.81M25.09 429.86h0.81M15.31 433.69h0.81" stroke="#be3b76" stroke-width="3.88" fill="none"/>
<path d="M20.2 345.61h1.63M16.94 349.44h0.81M20.2 353.27h0.81M25.09 353.27h0.81M15.31 357.1h0.81M18.57 357.1h1.63M25.09 357.1h0.81M14.5 360.93h0.81M17.76 364.76h0.81M21.01 364.76h0.81M15.31 368.59h0.81M25.09 368.59h0.81M14.5 376.25h0.81M25.09 376.25h0.81M16.94 380.08h0.81M14.5 383.91h0.81M18.57 383.91h0.81M18.57 387.74h0.81M24.27 387.74h0.81M15.31 391.56h0.81M21.01 391.56h0.81M22.64 391.56h0.81M25.09 391.56h0.81M24.27 395.39h1.63M18.57 399.22h0.81M20.2 399.22h0.81M22.64 399.22h0.81M25.09 403.05h0.81M17.76 406.88h0.81M19.39 406.88h0.81M21.01 406.88h0.81M24.27 406.88h1.63M24.27 410.71h1.63M14.5 414.54h0.81M20.2 414.54h0.81M14.5 418.37h0.81M16.94 418.37h0.81M15.31 422.2h0.81M24.27 422.2h0.81M23.46 426.03h0.81" stroke="#cb4270" stroke-width="3.88" fill="none"/>
<path d="M14.5 345.61h0.81M18.57 345.61h0.81M15.31 349.44h0.81M18.57 349.44h1.63M21.01 349.44h0.81M23.46 349.44h2.44M15.31 353.27h0.81M16.94 353.27h0.81M19.39 353.27h0.81M15.31 360.93h0.81M22.64 360.93h0.81M25.09 360.93h0.81M15.31 364.76h0.81M16.94 368.59h0.81M22.64 372.42h0.81M15.31 376.25h0.81M18.57 376.25h1.63M15.31 380.08h0.81M19.39 380.08h0.81M15.31 383.91h0.81M19.39 383.91h0.81M25.09 383.91h0.81M22.64 387.74h0.81M25.09 387.74h0.81M16.94 391.56h0.81M23.46 391.56h1.63M15.31 399.22h0.81M16.94 399.22h0.81M15.31 403.05h0.81M15.31 410.71h0.81M22.64 410.71h0.81M15.31 414.54h0.81M24.27 414.54h0.81M15.31 418.37h0.81M21.83 418.37h0.81M24.27 418.37h0.81M25.09 422.2h0.81M16.13 426.03h0.81M20.2 426.03h0.81M16.94 429.86h0.81M20.2 429.86h0.81M22.64 429.86h0.81M24.27 429.86h0.81M14.5 433.69h0.81M16.94 433.69h0.81M20.2 433.69h0.81M23.46 433.69h0.81M25.09 433.69h0.81" stroke="#d84a6a" stroke-width="3.88" fill="none"/>
<path d="M17.76 345.61h0.81M14.5 349.44h0.81M17.76 353.27h0.81M21.01 353.27h0.81M22.64 357.1h0.81M18.57 360.93h0.81M21.01 360.93h0.81M24.27 360.93h0.81M19.39 364.76h1.63M14.5 372.42h0.81M16.13 372.42h0.81M14.5 380.08h0.81M21.01 380.08h0.81M23.46 380.08h1.63M21.83 383.91h0.81M23.46 383.91h0.81M21.83 387.74h0.81M23.46 387.74h0.81M14.5 391.56h0.81M20.2 391.56h0.81M15.31 395.39h1.63M17.76 395.39h0.81M23.46 395.39h0.81M16.13 399.22h0.81M17.76 399.22h0.81M23.46 399.22h0.81M25.09 399.22h0.81M16.94 403.05h0.81M21.01 403.05h0.81M23.46 403.05h0.81M14.5 406.88h0.81M16.13 406.88h0.81M18.57 406.88h0.81M21.83 406.88h2.44M18.57 414.54h1.63M17.76 418.37h0.81M22.64 422.2h0.81M15.31 426.03h0.81M17.76 426.03h0.81M22.64 426.03h0.81M18.57 429.86h0.81M18.57 433.69h0.81M24.27 433.69h0.81" stroke="#e55164" stroke-width="3.88" fill="none"/>
<path d="M16.13 345.61h0.81M19.39 345.61h0.81M21.83 345.61h0.81M23.46 345.61h0.81M22.64 353.27h0.81M17.76 357.1h0.81M21.01 357.1h0.81M17.76 360.93h0.81M20.2 360.93h0.81M14.5 364.76h0.81M16.94 364.76h0.81M17.76 368.59h0.81M23.46 368.59h1.63M17.76 372.42h0.81M20.2 372.42h2.44M22.64 376.25h1.63M16.94 383.91h1.63M21.01 383.91h0.81M21.01 395.39h0.81M14.5 399.22h0.81M17.76 403.05h0.81M22.64 403.05h0.81M17.76 410.71h0.81M21.83 410.71h0.81M16.13 414.54h0.81M14.5 422.2h0.81M21.01 422.2h0.81M14.5 426.03h0.81M18.57 426.03h0.81M21.83 426.03h0.81M15.31 429.86h0.81M17.76 429.86h0.81" stroke="#ec6062" stroke-width="3.88" fill="none"/>
<path d="M16.94 345.61h0.81M22.64 345.61h0.81M24.27 345.61h0.81M16.13 349.44h0.81M22.64 349.44h0.81M14.5 353.27h0.81M21.83 353.27h0.81M21.83 357.1h0.81M16.13 360.93h0.81M21.83 360.93h0.81M21.83 364.76h0.81M23.46 364.76h0.81M14.5 368.59h0.81M16.13 368.59h0.81M19.39 368.59h0.81M16.94 372.42h0.81M16.13 376.25h1.63M21.01 376.25h0.81M20.2 383.91h0.81M22.64 383.91h0.81M16.13 387.74h0.81M21.01 387.74h0.81M16.13 391.56h0.81M17.76 391.56h1.63M14.5 395.39h0.81M20.2 395.39h0.81M22.64 395.39h0.81M14.5 403.05h0.81M16.13 403.05h0.81M21.83 403.05h0.81M20.2 410.71h0.81M16.94 414.54h0.81M21.01 414.54h0.81M22.64 414.54h0.81M25.09 414.54h0.81M23.46 418.37h0.81M16.13 422.2h0.81M20.2 422.2h0.81M23.46 422.2h0.81M16.94 426.03h0.81M19.39 426.03h0.81M14.5 429.86h0.81M21.83 429.86h0.81M23.46 429.86h0.81M17.76 433.69h0.81M19.39 433.69h0.81" stroke="#f37062" stroke-width="3.88" fill="none"/>
<path d="M14.5 357.1h0.81M16.13 357.1h0.81M19.39 360.93h0.81M23.46 360.93h0.81M16.13 380.08h0.81M17.76 380.08h0.81M22.64 380.08h0.81M20.2 387.74h0.81M16.94 406.88h0.81M20.2 406.88h0.81M16.13 410.71h0.81M23.46 410.71h0.81M23.46 414.54h0.81M16.13 418.37h0.81M21.01 418.37h0.81M22.64 418.37h0.81M16.94 422.2h1.63M21.01 433.69h0.81" stroke="#f98161" stroke-width="3.88" fill="none"/>
<path d="M17.76 349.44h0.81M21.83 349.44h0.81M16.13 353.27h0.81M16.94 357.1h0.81M20.2 376.25h0.81M21.83 376.25h0.81M19.39 410.71h0.81M21.01 429.86h0.81" stroke="#fc9166" stroke-width="3.88" fill="none"/>
<path d="M20.2 349.44h0.81M23.46 357.1h0.81M21.01 368.59h0.81M17.76 376.25h0.81M20.2 380.08h0.81M21.83 380.08h0.81M21.83 391.56h0.81M16.94 395.39h0.81M21.83 395.39h0.81M17.76 414.54h0.81M21.83 422.2h0.81M16.13 429.86h0.81M21.83 433.69h1.63" stroke="#fda171" stroke-width="3.88" fill="none"/>
<path d="M21.83 399.22h0.81" stroke="#fdb27c" stroke-width="3.88" fill="none"/>
<path d="M21.83 368.59h0.81M16.13 383.91h0.81M16.13 433.69h0.81" stroke="#fec286" stroke-width="3.88" fill="none"/>
<path d="M16.13 364.76h0.81" stroke="#fdd396" stroke-width="3.88" fill="none"/>
<rect x="28.2" y="343.7" width="63.5" height="91.9" fill="#b73779"/>
<path d="M37.8 410.71h0.74" stroke="#3a1264" stroke-width="3.88" fill="none"/>
<path d="M30.42 357.1h0.74M45.18 410.71h0.74" stroke="#491274" stroke-width="3.88" fill="none"/>
<path d="M37.8 364.76h0.74M57.73 372.42h0.74M54.04 380.08h0.74" stroke="#58157d" stroke-width="3.88" fill="none"/>
<path d="M84.32 349.44h0.74M69.55 353.27h0.74M61.43 357.1h0.74M28.2 364.76h0.74M61.43 364.76h0.74M85.05 364.76h0.74M45.18 368.59h0.74M31.89 372.42h0.74M37.8 372.42h0.74M79.15 372.42h0.74M41.49 383.91h0.74M41.49 387.74h0.74M44.44 387.74h0.74M76.93 387.74h0.74M84.32 391.56h0.74M40.75 406.88h0.74M61.43 406.88h0.74M66.6 406.88h0.74M76.93 406.88h0.74M86.53 406.88h0.74M76.19 414.54h0.74M61.43 418.37h0.74M82.1 422.2h0.74M54.04 426.03h0.74M85.79 426.03h0.74" stroke="#661a7e" stroke-width="3.88" fill="none"/>
<path d="M51.83 345.61h0.74M76.19 345.61h0.74M80.62 345.61h0.74M85.79 345.61h0.74M66.6 349.44h0.74M69.55 357.1h0.74M90.96 357.1h0.74M69.55 360.93h0.74M71.03 364.76h0.74M64.38 372.42h0.74M34.11 380.08h0.74M36.32 380.08h0.74M44.44 380.08h0.74M66.6 380.08h0.74M37.8 387.74h0.74M60.69 387.74h0.74M68.07 387.74h0.74M70.29 387.74h0.74M86.53 387.74h0.74M57.73 391.56h0.74M59.21 395.39h0.74M69.55 395.39h0.74M45.18 399.22h0.74M62.9 399.22h0.74M51.83 403.05h0.74M42.97 406.88h0.74M45.18 406.88h1.48M69.55 406.88h0.74M30.42 410.71h0.74M45.18 414.54h0.74M51.83 414.54h0.74M61.43 414.54h0.74M71.03 414.54h0.74M57.73 418.37h0.74M86.53 418.37h0.74M45.18 422.2h0.74M57.73 422.2h1.48M64.38 422.2h0.74M78.41 426.03h0.74M30.42 429.86h0.74M44.44 429.86h0.74M79.15 429.86h0.74M60.69 433.69h0.74" stroke="#73207f" stroke-width="3.88" fill="none"/>
<path d="M28.2 345.61h0.74M45.18 345.61h0.74M66.6 345.61h0.74M90.96 345.61h0.74M54.04 349.44h0.74M62.9 349.44h0.74M75.46 349.44h0.74M80.62 349.44h0.74M30.42 353.27h0.74M37.8 353.27h0.74M40.01 353.27h0.74M49.61 353.27h0.74M51.09 353.27h0.74M66.6 353.27h0.74M68.07 353.27h0.74M42.23 357.1h0.74M58.47 357.1h0.74M79.15 357.1h0.74M44.44 360.93h0.74M51.83 360.93h0.74M37.06 364.76h0.74M45.18 364.76h0.74M47.4 364.76h0.74M51.09 364.76h1.48M64.38 364.76h0.74M84.32 364.76h0.74M34.11 368.59h0.74M51.83 368.59h0.74M53.3 368.59h0.74M62.17 368.59h0.74M79.15 368.59h0.74M81.36 368.59h0.74M34.11 372.42h0.74M42.23 372.42h0.74M51.09 372.42h1.48M59.21 372.42h0.74M70.29 372.42h0.74M76.93 372.42h0.74M87.27 372.42h0.74M89.48 372.42h0.74M90.96 372.42h0.74M73.24 376.25h0.74M30.42 380.08h0.74M48.87 380.08h0.74M51.83 380.08h0.74M57.73 380.08h0.74M76.93 380.08h0.74M82.1 380.08h0.74M30.42 383.91h0.74M48.14 383.91h0.74M51.83 383.91h0.74M59.21 383.91h0.74M85.79 383.91h0.74M30.42 387.74h0.74M53.3 387.74h0.74M71.03 387.74h0.74M75.46 387.74h0.74M77.67 387.74h0.74M82.1 387.74h0.74M84.32 387.74h0.74M37.8 391.56h0.74M62.17 391.56h1.48M75.46 391.56h0.74M76.93 391.56h1.48M79.89 391.56h0.74M85.05 391.56h0.74M86.53 391.56h0.74M44.44 395.39h0.74M55.52 395.39h0.74M71.76 395.39h0.74M87.27 395.39h0.74M90.22 395.39h0.74M34.11 399.22h0.74M84.32 399.22h1.48M28.2 403.05h0.74M34.85 403.05h0.74M79.89 403.05h0.74M34.11 406.88h0.74M48.14 406.88h0.74M51.09 406.88h1.48M57 406.88h1.48M65.86 406.88h0.74M71.03 406.88h0.74M79.15 406.88h0.74M41.49 410.71h0.74M51.83 410.71h0.74M65.86 410.71h0.74M69.55 410.71h0.74M30.42 414.54h0.74M88.01 414.54h0.74M49.61 418.37h0.74M51.83 418.37h0.74M55.52 418.37h0.74M75.46 418.37h1.48M79.89 418.37h1.48M28.2 422.2h0.74M30.42 422.2h0.74M37.8 422.2h0.74M40.75 422.2h0.74M60.69 422.2h0.74M66.6 422.2h0.74M76.19 422.2h0.74M28.2 426.03h0.74M55.52 426.03h0.74M59.21 426.03h0.74M70.29 426.03h0.74M76.93 426.03h0.74M86.53 426.03h0.74M90.22 426.03h0.74M42.23 429.86h0.74M54.04 429.86h0.74M57.73 429.86h0.74M70.29 429.86h0.74M47.4 433.69h0.74M51.09 433.69h0.74M54.04 433.69h0.74M84.32 433.69h0.74" stroke="#812581" stroke-width="3.88" fill="none"/>
<path d="M34.11 345.61h0.74M37.8 345.61h0.74M56.26 345.61h0.74M59.21 345.61h0.74M61.43 345.61h0.74M64.38 345.61h1.48M71.03 345.61h0.74M79.15 345.61h0.74M84.32 345.61h0.74M88.01 345.61h0.74M37.06 349.44h1.48M39.28 349.44h0.74M40.75 349.44h0.74M45.92 349.44h0.74M51.09 349.44h0.74M82.1 349.44h1.48M39.28 353.27h0.74M45.18 353.27h0.74M48.14 353.27h0.74M53.3 353.27h0.74M55.52 353.27h0.74M62.17 353.27h0.74M75.46 353.27h0.74M80.62 353.27h0.74M84.32 353.27h0.74M90.96 353.27h0.74M36.32 357.1h0.74M39.28 357.1h0.74M43.71 357.1h0.74M47.4 357.1h0.74M54.78 357.1h0.74M59.21 357.1h0.74M75.46 357.1h0.74M76.93 357.1h0.74M28.2 360.93h0.74M31.89 360.93h0.74M37.8 360.93h0.74M54.04 360.93h0.74M79.89 360.93h1.48M40.01 364.76h0.74M44.44 364.76h0.74M52.57 364.76h0.74M76.93 364.76h0.74M79.89 364.76h0.74M82.1 364.76h0.74M90.22 364.76h0.74M40.01 368.59h0.74M47.4 368.59h0.74M61.43 368.59h0.74M64.38 368.59h0.74M71.03 368.59h0.74M73.98 368.59h0.74M85.79 368.59h0.74M29.68 372.42h0.74M35.58 372.42h0.74M44.44 372.42h0.74M45.92 372.42h0.74M54.04 372.42h0.74M66.6 372.42h0.74M76.19 372.42h0.74M79.89 372.42h0.74M82.1 372.42h0.74M84.32 372.42h0.74M88.01 372.42h0.74M43.71 376.25h2.22M51.09 376.25h0.74M61.43 376.25h0.74M71.03 376.25h0.74M77.67 376.25h0.74M86.53 376.25h0.74M28.2 380.08h0.74M42.97 380.08h0.74M55.52 380.08h0.74M62.17 380.08h0.74M70.29 380.08h1.48M80.62 380.08h0.74M37.06 383.91h0.74M40.01 383.91h0.74M64.38 383.91h0.74M66.6 383.91h0.74M83.58 383.91h0.74M90.22 383.91h0.74M42.97 387.74h0.74M51.09 387.74h0.74M59.21 387.74h0.74M61.43 387.74h0.74M74.72 387.74h0.74M76.19 387.74h0.74M78.41 387.74h0.74M88.01 387.74h0.74M47.4 391.56h0.74M51.09 391.56h1.48M54.04 391.56h0.74M59.95 391.56h0.74M76.19 391.56h0.74M45.18 395.39h0.74M47.4 395.39h0.74M51.09 395.39h0.74M52.57 395.39h0.74M61.43 395.39h0.74M76.19 395.39h1.48M88.01 395.39h0.74M90.96 395.39h0.74M28.2 399.22h0.74M42.23 399.22h0.74M44.44 399.22h0.74M54.04 399.22h0.74M59.21 399.22h0.74M66.6 399.22h0.74M72.5 399.22h0.74M77.67 399.22h0.74M80.62 399.22h0.74M44.44 403.05h0.74M57 403.05h0.74M59.21 403.05h0.74M69.55 403.05h0.74M72.5 403.05h0.74M79.15 403.05h0.74M86.53 403.05h0.74M90.22 403.05h0.74M28.2 406.88h0.74M31.15 406.88h0.74M33.37 406.88h0.74M37.06 406.88h0.74M44.44 406.88h0.74M55.52 406.88h0.74M60.69 406.88h0.74M75.46 406.88h0.74M82.1 406.88h0.74M84.32 406.88h1.48M88.01 406.88h0.74M40.75 410.71h0.74M42.23 410.71h0.74M57.73 410.71h0.74M61.43 410.71h0.74M63.64 410.71h1.48M68.81 410.71h0.74M71.03 410.71h0.74M76.19 410.71h0.74M78.41 410.71h0.74M37.8 414.54h0.74M40.01 414.54h0.74M48.14 414.54h0.74M59.95 414.54h0.74M65.86 414.54h1.48M84.32 414.54h0.74M89.48 414.54h0.74M29.68 418.37h0.74M37.06 418.37h0.74M42.97 418.37h0.74M44.44 418.37h0.74M45.92 418.37h0.74M51.09 418.37h0.74M56.26 418.37h0.74M64.38 418.37h0.74M66.6 418.37h0.74M69.55 418.37h0.74M71.03 418.37h1.48M82.1 418.37h0.74M85.79 418.37h0.74M87.27 418.37h1.48M89.48 418.37h0.74M29.68 422.2h0.74M32.63 422.2h0.74M34.11 422.2h0.74M39.28 422.2h0.74M47.4 422.2h0.74M48.87 422.2h0.74M51.83 422.2h0.74M59.95 422.2h0.74M61.43 422.2h0.74M71.03 422.2h0.74M74.72 422.2h1.48M76.93 422.2h1.48M87.27 422.2h0.74M30.42 426.03h0.74M45.18 426.03h0.74M61.43 426.03h0.74M79.15 426.03h1.48M54.78 429.86h1.48M65.86 429.86h1.48M34.85 433.69h0.74M51.83 433.69h0.74M64.38 433.69h0.74M69.55 433.69h0.74M87.27 433.69h1.48" stroke="#902a7f" stroke-width="3.88" fill="none"/>
<path d="M32.63 345.61h0.74M36.32 345.61h0.74M39.28 345.61h0.74M41.49 345.61h0.74M42.97 345.61h0.74M44.44 345.61h0.74M48.14 345.61h0.74M54.78 345.61h0.74M60.69 345.61h0.74M62.9 345.61h0.74M68.07 345.61h0.74M70.29 345.61h0.74M73.98 345.61h0.74M76.93 345.61h1.48M86.53 345.61h0.74M45.18 349.44h0.74M64.38 349.44h0.74M68.81 349.44h0.74M70.29 349.44h0.74M76.19 349.44h0.74M90.96 349.44h0.74M29.68 353.27h0.74M47.4 353.27h0.74M59.21 353.27h0.74M61.43 353.27h0.74M65.12 353.27h0.74M68.81 353.27h0.74M74.72 353.27h0.74M76.93 353.27h1.48M79.15 353.27h1.48M82.1 353.27h0.74M85.79 353.27h0.74M87.27 353.27h0.74M89.48 353.27h1.48M31.89 357.1h0.74M45.18 357.1h0.74M49.61 357.1h2.22M54.04 357.1h0.74M59.95 357.1h0.74M62.9 357.1h0.74M66.6 357.1h0.74M71.76 357.1h0.74M73.24 357.1h2.22M78.41 357.1h0.74M80.62 357.1h0.74M84.32 357.1h0.74M87.27 357.1h0.74M31.15 360.93h0.74M35.58 360.93h0.74M48.14 360.93h0.74M51.09 360.93h0.74M53.3 360.93h0.74M55.52 360.93h0.74M59.95 360.93h1.48M62.9 360.93h0.74M65.86 360.93h1.48M76.19 360.93h0.74M82.1 360.93h0.74M84.32 360.93h0.74M85.79 360.93h0.74M31.89 364.76h0.74M36.32 364.76h0.74M40.75 364.76h1.48M43.71 364.76h0.74M49.61 364.76h0.74M54.04 364.76h0.74M62.17 364.76h0.74M68.81 364.76h0.74M73.98 364.76h0.74M75.46 364.76h0.74M78.41 364.76h0.74M80.62 364.76h0.74M83.58 364.76h0.74M86.53 364.76h0.74M89.48 364.76h0.74M28.2 368.59h0.74M48.14 368.59h0.74M54.04 368.59h0.74M65.86 368.59h0.74M67.33 368.59h1.48M82.1 368.59h0.74M36.32 372.42h0.74M39.28 372.42h0.74M60.69 372.42h0.74M62.9 372.42h0.74M68.07 372.42h2.22M71.03 372.42h0.74M73.98 372.42h0.74M82.84 372.42h1.48M29.68 376.25h2.22M34.85 376.25h0.74M41.49 376.25h0.74M42.97 376.25h0.74M47.4 376.25h0.74M48.87 376.25h0.74M54.04 376.25h0.74M57.73 376.25h0.74M66.6 376.25h0.74M89.48 376.25h0.74M90.96 376.25h0.74M31.89 380.08h0.74M34.85 380.08h0.74M37.06 380.08h0.74M40.01 380.08h0.74M45.18 380.08h0.74M49.61 380.08h0.74M59.95 380.08h0.74M68.81 380.08h1.48M75.46 380.08h0.74M86.53 380.08h0.74M31.89 383.91h0.74M33.37 383.91h0.74M38.54 383.91h0.74M43.71 383.91h2.22M48.87 383.91h1.48M57.73 383.91h0.74M62.9 383.91h0.74M65.12 383.91h1.48M71.03 383.91h0.74M72.5 383.91h0.74M73.98 383.91h0.74M76.93 383.91h0.74M80.62 383.91h0.74M31.89 387.74h0.74M34.11 387.74h0.74M40.75 387.74h0.74M54.04 387.74h1.48M57 387.74h0.74M62.9 387.74h0.74M65.86 387.74h1.48M69.55 387.74h0.74M79.15 387.74h0.74M89.48 387.74h0.74M30.42 391.56h0.74M40.75 391.56h0.74M43.71 391.56h0.74M53.3 391.56h0.74M58.47 391.56h0.74M65.86 391.56h1.48M82.1 391.56h0.74M88.01 391.56h1.48M28.2 395.39h0.74M31.15 395.39h0.74M33.37 395.39h1.48M37.8 395.39h0.74M54.04 395.39h0.74M72.5 395.39h0.74M73.98 395.39h0.74M77.67 395.39h0.74M82.1 395.39h0.74M85.05 395.39h0.74M30.42 399.22h0.74M37.8 399.22h0.74M55.52 399.22h0.74M64.38 399.22h1.48M68.07 399.22h0.74M71.76 399.22h0.74M73.98 399.22h0.74M78.41 399.22h0.74M79.89 399.22h0.74M81.36 399.22h0.74M83.58 399.22h0.74M86.53 399.22h0.74M35.58 403.05h0.74M37.8 403.05h0.74M39.28 403.05h1.48M42.97 403.05h0.74M47.4 403.05h0.74M54.78 403.05h1.48M64.38 403.05h0.74M66.6 403.05h0.74M73.98 403.05h0.74M76.19 403.05h1.48M84.32 403.05h0.74M85.79 403.05h0.74M88.01 403.05h0.74M32.63 406.88h0.74M47.4 406.88h0.74M49.61 406.88h0.74M59.95 406.88h0.74M64.38 406.88h0.74M68.07 406.88h0.74M71.76 406.88h0.74M78.41 406.88h0.74M81.36 406.88h0.74M83.58 406.88h0.74M85.79 406.88h0.74M90.22 406.88h1.48M32.63 410.71h0.74M37.06 410.71h0.74M42.97 410.71h0.74M44.44 410.71h0.74M46.66 410.71h1.48M57 410.71h0.74M62.17 410.71h0.74M88.01 410.71h0.74M32.63 414.54h0.74M53.3 414.54h0.74M57 414.54h1.48M59.21 414.54h0.74M60.69 414.54h0.74M63.64 414.54h0.74M74.72 414.54h0.74M76.93 414.54h0.74M79.89 414.54h2.95M86.53 414.54h1.48M90.22 414.54h0.74M30.42 418.37h0.74M31.89 418.37h1.48M35.58 418.37h0.74M40.75 418.37h0.74M57 418.37h0.74M59.21 418.37h0.74M62.17 418.37h1.48M65.86 418.37h0.74M68.07 418.37h0.74M73.98 418.37h0.74M83.58 418.37h1.48M28.94 422.2h0.74M38.54 422.2h0.74M45.92 422.2h0.74M50.35 422.2h1.48M54.04 422.2h1.48M59.21 422.2h0.74M65.86 422.2h0.74M69.55 422.2h0.74M71.76 422.2h0.74M79.15 422.2h0.74M28.94 426.03h0.74M35.58 426.03h0.74M37.8 426.03h0.74M40.75 426.03h1.48M42.97 426.03h0.74M57 426.03h1.48M66.6 426.03h0.74M68.81 426.03h1.48M71.03 426.03h0.74M77.67 426.03h0.74M85.05 426.03h0.74M87.27 426.03h0.74M89.48 426.03h0.74M45.18 429.86h0.74M48.87 429.86h0.74M61.43 429.86h0.74M64.38 429.86h0.74M79.89 429.86h0.74M31.15 433.69h0.74M33.37 433.69h0.74M40.01 433.69h0.74M42.97 433.69h0.74M44.44 433.69h0.74M48.87 433.69h0.74M57.73 433.69h1.48M76.93 433.69h0.74" stroke="#a02f7d" stroke-width="3.88" fill="none"/>
<path d="M29.68 345.61h0.74M31.15 345.61h0.74M34.85 345.61h0.74M38.54 345.61h0.74M40.01 345.61h0.74M45.92 345.61h0.74M47.4 345.61h0.74M52.57 345.61h0.74M54.04 345.61h0.74M59.95 345.61h0.74M63.64 345.61h0.74M71.76 345.61h0.74M78.41 345.61h0.74M88.75 345.61h1.48M28.2 349.44h0.74M30.42 349.44h0.74M40.01 349.44h0.74M44.44 349.44h0.74M47.4 349.44h1.48M59.21 349.44h0.74M61.43 349.44h0.74M71.03 349.44h1.48M73.24 349.44h0.74M78.41 349.44h2.22M83.58 349.44h0.74M85.79 349.44h0.74M28.2 353.27h0.74M33.37 353.27h0.74M35.58 353.27h0.74M40.75 353.27h0.74M42.23 353.27h2.22M52.57 353.27h0.74M57 353.27h0.74M62.9 353.27h0.74M64.38 353.27h0.74M65.86 353.27h0.74M71.03 353.27h1.48M73.98 353.27h0.74M86.53 353.27h0.74M88.01 353.27h0.74M28.2 357.1h0.74M32.63 357.1h0.74M34.85 357.1h0.74M37.8 357.1h0.74M41.49 357.1h0.74M42.97 357.1h0.74M48.14 357.1h1.48M51.83 357.1h0.74M57.73 357.1h0.74M68.07 357.1h0.74M72.5 357.1h0.74M77.67 357.1h0.74M82.84 357.1h0.74M86.53 357.1h0.74M89.48 357.1h0.74M37.06 360.93h0.74M41.49 360.93h1.48M45.18 360.93h0.74M46.66 360.93h0.74M49.61 360.93h0.74M57 360.93h2.95M63.64 360.93h0.74M68.07 360.93h0.74M71.03 360.93h0.74M86.53 360.93h0.74M90.22 360.93h0.74M30.42 364.76h0.74M39.28 364.76h0.74M58.47 364.76h0.74M66.6 364.76h0.74M79.15 364.76h0.74M85.79 364.76h0.74M88.01 364.76h0.74M30.42 368.59h0.74M31.89 368.59h1.48M39.28 368.59h0.74M43.71 368.59h1.48M48.87 368.59h0.74M51.09 368.59h0.74M60.69 368.59h0.74M66.6 368.59h0.74M68.81 368.59h1.48M73.24 368.59h0.74M79.89 368.59h0.74M85.05 368.59h0.74M86.53 368.59h0.74M89.48 368.59h0.74M90.96 368.59h0.74M28.2 372.42h0.74M40.01 372.42h0.74M45.18 372.42h0.74M46.66 372.42h1.48M49.61 372.42h0.74M55.52 372.42h0.74M61.43 372.42h1.48M72.5 372.42h0.74M74.72 372.42h1.48M85.05 372.42h2.22M90.22 372.42h0.74M28.2 376.25h0.74M32.63 376.25h0.74M37.06 376.25h0.74M59.95 376.25h0.74M65.12 376.25h0.74M70.29 376.25h0.74M71.76 376.25h1.48M76.93 376.25h0.74M79.89 376.25h1.48M82.1 376.25h0.74M83.58 376.25h1.48M28.94 380.08h0.74M39.28 380.08h0.74M47.4 380.08h0.74M54.78 380.08h0.74M57 380.08h0.74M64.38 380.08h0.74M68.07 380.08h0.74M73.24 380.08h0.74M76.19 380.08h0.74M79.89 380.08h0.74M84.32 380.08h0.74M88.01 380.08h0.74M90.96 380.08h0.74M28.2 383.91h1.48M31.15 383.91h0.74M34.11 383.91h0.74M39.28 383.91h0.74M52.57 383.91h0.74M57 383.91h0.74M68.07 383.91h2.22M73.24 383.91h0.74M75.46 383.91h1.48M77.67 383.91h0.74M84.32 383.91h0.74M86.53 383.91h0.74M28.2 387.74h0.74M32.63 387.74h1.48M35.58 387.74h0.74M37.06 387.74h0.74M39.28 387.74h0.74M45.92 387.74h0.74M47.4 387.74h0.74M64.38 387.74h0.74M71.76 387.74h0.74M83.58 387.74h0.74M85.05 387.74h0.74M90.22 387.74h0.74M28.2 391.56h1.48M34.85 391.56h0.74M38.54 391.56h2.22M45.18 391.56h0.74M48.14 391.56h0.74M49.61 391.56h0.74M57 391.56h0.74M68.07 391.56h0.74M70.29 391.56h3.69M85.79 391.56h0.74M87.27 391.56h0.74M90.22 391.56h0.74M28.94 395.39h0.74M32.63 395.39h0.74M39.28 395.39h0.74M48.14 395.39h0.74M49.61 395.39h0.74M51.83 395.39h0.74M57.73 395.39h0.74M59.95 395.39h0.74M62.9 395.39h0.74M65.12 395.39h0.74M67.33 395.39h0.74M70.29 395.39h1.48M75.46 395.39h0.74M79.89 395.39h0.74M28.94 399.22h0.74M37.06 399.22h0.74M47.4 399.22h0.74M51.09 399.22h1.48M53.3 399.22h0.74M59.95 399.22h2.95M65.86 399.22h0.74M68.81 399.22h2.95M74.72 399.22h0.74M76.93 399.22h0.74M88.01 399.22h0.74M89.48 399.22h0.74M28.94 403.05h0.74M30.42 403.05h1.48M33.37 403.05h0.74M40.75 403.05h0.74M42.23 403.05h0.74M43.71 403.05h0.74M60.69 403.05h0.74M62.17 403.05h0.74M68.07 403.05h0.74M71.03 403.05h0.74M75.46 403.05h0.74M82.1 403.05h1.48M87.27 403.05h0.74M88.75 403.05h0.74M30.42 406.88h0.74M31.89 406.88h0.74M34.85 406.88h0.74M38.54 406.88h1.48M41.49 406.88h0.74M46.66 406.88h0.74M62.9 406.88h0.74M73.24 406.88h0.74M74.72 406.88h0.74M79.89 406.88h0.74M89.48 406.88h0.74M28.2 410.71h0.74M31.89 410.71h0.74M34.11 410.71h1.48M40.01 410.71h0.74M43.71 410.71h0.74M55.52 410.71h1.48M59.21 410.71h0.74M62.9 410.71h0.74M66.6 410.71h0.74M71.76 410.71h0.74M73.98 410.71h0.74M75.46 410.71h0.74M76.93 410.71h0.74M79.15 410.71h0.74M82.1 410.71h1.48M84.32 410.71h0.74M87.27 410.71h0.74M89.48 410.71h2.22M34.85 414.54h0.74M37.06 414.54h0.74M39.28 414.54h0.74M46.66 414.54h1.48M55.52 414.54h0.74M58.47 414.54h0.74M62.17 414.54h1.48M68.81 414.54h2.22M73.24 414.54h0.74M75.46 414.54h0.74M78.41 414.54h0.74M28.2 418.37h0.74M34.11 418.37h0.74M38.54 418.37h0.74M41.49 418.37h1.48M47.4 418.37h0.74M48.87 418.37h0.74M53.3 418.37h0.74M54.78 418.37h0.74M63.64 418.37h0.74M68.81 418.37h0.74M73.24 418.37h0.74M74.72 418.37h0.74M76.93 418.37h0.74M85.05 418.37h0.74M90.22 418.37h1.48M40.01 422.2h0.74M41.49 422.2h0.74M57 422.2h0.74M65.12 422.2h0.74M70.29 422.2h0.74M73.24 422.2h1.48M78.41 422.2h0.74M80.62 422.2h0.74M82.84 422.2h0.74M84.32 422.2h0.74M85.79 422.2h0.74M88.01 422.2h0.74M89.48 422.2h2.22M33.37 426.03h1.48M42.23 426.03h0.74M44.44 426.03h0.74M45.92 426.03h0.74M47.4 426.03h1.48M51.09 426.03h1.48M59.95 426.03h0.74M62.17 426.03h0.74M71.76 426.03h1.48M82.1 426.03h0.74M83.58 426.03h0.74M90.96 426.03h0.74M31.15 429.86h0.74M32.63 429.86h0.74M37.06 429.86h1.48M42.97 429.86h0.74M47.4 429.86h0.74M51.83 429.86h0.74M60.69 429.86h0.74M62.9 429.86h0.74M69.55 429.86h0.74M71.03 429.86h1.48M73.24 429.86h0.74M76.19 429.86h1.48M78.41 429.86h0.74M87.27 429.86h0.74M28.2 433.69h0.74M32.63 433.69h0.74M37.8 433.69h0.74M41.49 433.69h0.74M45.18 433.69h0.74M50.35 433.69h0.74M53.3 433.69h0.74M55.52 433.69h0.74M59.21 433.69h0.74M65.86 433.69h1.48M68.07 433.69h0.74M70.29 433.69h0.74M73.24 433.69h0.74M76.19 433.69h0.74M77.67 433.69h0.74M79.89 433.69h0.74M81.36 433.69h1.48M86.53 433.69h0.74M90.96 433.69h0.74" stroke="#af347a" stroke-width="3.88" fill="none"/>
<path d="M30.42 345.61h0.74M37.06 345.61h0.74M42.23 345.61h0.74M46.66 345.61h0.74M58.47 345.61h0.74M62.17 345.61h0.74M69.55 345.61h0.74M73.24 345.61h0.74M79.89 345.61h0.74M82.1 345.61h2.22M85.05 345.61h0.74M90.22 345.61h0.74M31.15 349.44h0.74M32.63 349.44h1.48M41.49 349.44h0.74M42.97 349.44h1.48M46.66 349.44h0.74M51.83 349.44h0.74M53.3 349.44h0.74M55.52 349.44h0.74M57 349.44h0.74M59.95 349.44h1.48M62.17 349.44h0.74M65.86 349.44h0.74M73.98 349.44h1.48M81.36 349.44h0.74M85.05 349.44h0.74M86.53 349.44h0.74M88.01 349.44h0.74M28.94 353.27h0.74M32.63 353.27h0.74M34.11 353.27h0.74M44.44 353.27h0.74M48.87 353.27h0.74M50.35 353.27h0.74M51.83 353.27h0.74M54.04 353.27h0.74M57.73 353.27h1.48M60.69 353.27h0.74M63.64 353.27h0.74M70.29 353.27h0.74M72.5 353.27h0.74M85.05 353.27h0.74M29.68 357.1h0.74M34.11 357.1h0.74M44.44 357.1h0.74M45.92 357.1h1.48M55.52 357.1h0.74M63.64 357.1h2.22M71.03 357.1h0.74M76.19 357.1h0.74M79.89 357.1h0.74M85.05 357.1h0.74M28.94 360.93h0.74M36.32 360.93h0.74M38.54 360.93h2.22M43.71 360.93h0.74M47.4 360.93h0.74M61.43 360.93h0.74M71.76 360.93h0.74M81.36 360.93h0.74M85.05 360.93h0.74M88.01 360.93h0.74M34.11 364.76h0.74M46.66 364.76h0.74M48.14 364.76h1.48M53.3 364.76h0.74M55.52 364.76h1.48M60.69 364.76h0.74M67.33 364.76h0.74M69.55 364.76h1.48M71.76 364.76h0.74M74.72 364.76h0.74M76.19 364.76h0.74M81.36 364.76h0.74M31.15 368.59h0.74M33.37 368.59h0.74M34.85 368.59h0.74M38.54 368.59h0.74M40.75 368.59h2.22M45.92 368.59h0.74M49.61 368.59h0.74M52.57 368.59h0.74M57.73 368.59h1.48M59.95 368.59h0.74M71.76 368.59h1.48M75.46 368.59h0.74M76.93 368.59h0.74M78.41 368.59h0.74M88.01 368.59h1.48M28.94 372.42h0.74M34.85 372.42h0.74M37.06 372.42h0.74M40.75 372.42h0.74M48.87 372.42h0.74M53.3 372.42h0.74M57 372.42h0.74M59.95 372.42h0.74M65.12 372.42h1.48M67.33 372.42h0.74M71.76 372.42h0.74M73.24 372.42h0.74M78.41 372.42h0.74M81.36 372.42h0.74M40.75 376.25h0.74M48.14 376.25h0.74M53.3 376.25h0.74M57 376.25h0.74M62.9 376.25h0.74M64.38 376.25h0.74M68.07 376.25h0.74M69.55 376.25h0.74M75.46 376.25h0.74M87.27 376.25h1.48M33.37 380.08h0.74M37.8 380.08h0.74M43.71 380.08h0.74M48.14 380.08h0.74M52.57 380.08h0.74M62.9 380.08h0.74M71.76 380.08h0.74M77.67 380.08h0.74M89.48 380.08h1.48M32.63 383.91h0.74M34.85 383.91h0.74M37.8 383.91h0.74M42.97 383.91h0.74M45.92 383.91h0.74M47.4 383.91h0.74M50.35 383.91h0.74M53.3 383.91h2.22M60.69 383.91h2.22M70.29 383.91h0.74M78.41 383.91h2.22M81.36 383.91h0.74M85.05 383.91h0.74M87.27 383.91h0.74M88.75 383.91h0.74M90.96 383.91h0.74M31.15 387.74h0.74M40.01 387.74h0.74M43.71 387.74h0.74M49.61 387.74h0.74M51.83 387.74h0.74M55.52 387.74h0.74M58.47 387.74h0.74M62.17 387.74h0.74M63.64 387.74h0.74M67.33 387.74h0.74M72.5 387.74h2.22M82.84 387.74h0.74M90.96 387.74h0.74M31.15 391.56h2.22M34.11 391.56h0.74M35.58 391.56h0.74M45.92 391.56h0.74M54.78 391.56h0.74M59.21 391.56h0.74M61.43 391.56h0.74M68.81 391.56h0.74M73.98 391.56h1.48M79.15 391.56h0.74M89.48 391.56h0.74M90.96 391.56h0.74M29.68 395.39h0.74M37.06 395.39h0.74M40.01 395.39h0.74M42.23 395.39h0.74M56.26 395.39h1.48M62.17 395.39h0.74M73.24 395.39h0.74M84.32 395.39h0.74M31.15 399.22h1.48M33.37 399.22h0.74M40.01 399.22h0.74M41.49 399.22h0.74M52.57 399.22h0.74M54.78 399.22h0.74M57 399.22h1.48M75.46 399.22h0.74M85.79 399.22h0.74M90.22 399.22h1.48M29.68 403.05h0.74M31.89 403.05h0.74M38.54 403.05h0.74M45.92 403.05h0.74M49.61 403.05h0.74M56.26 403.05h0.74M57.73 403.05h0.74M59.95 403.05h0.74M68.81 403.05h0.74M71.76 403.05h0.74M78.41 403.05h0.74M90.96 403.05h0.74M28.94 406.88h1.48M37.8 406.88h0.74M40.01 406.88h0.74M53.3 406.88h1.48M59.21 406.88h0.74M63.64 406.88h0.74M65.12 406.88h0.74M67.33 406.88h0.74M73.98 406.88h0.74M76.19 406.88h0.74M80.62 406.88h0.74M87.27 406.88h0.74M88.75 406.88h0.74M36.32 410.71h0.74M39.28 410.71h0.74M51.09 410.71h0.74M54.04 410.71h0.74M59.95 410.71h1.48M65.12 410.71h0.74M72.5 410.71h0.74M77.67 410.71h0.74M79.89 410.71h0.74M81.36 410.71h0.74M85.05 410.71h0.74M86.53 410.71h0.74M28.2 414.54h0.74M43.71 414.54h0.74M54.04 414.54h0.74M72.5 414.54h0.74M79.15 414.54h0.74M85.05 414.54h1.48M88.75 414.54h0.74M28.94 418.37h0.74M37.8 418.37h0.74M39.28 418.37h1.48M45.18 418.37h0.74M54.04 418.37h0.74M59.95 418.37h1.48M72.5 418.37h0.74M78.41 418.37h1.48M31.15 422.2h1.48M34.85 422.2h0.74M36.32 422.2h1.48M44.44 422.2h0.74M46.66 422.2h0.74M53.3 422.2h0.74M56.26 422.2h0.74M67.33 422.2h0.74M79.89 422.2h0.74M83.58 422.2h0.74M85.05 422.2h0.74M34.85 426.03h0.74M37.06 426.03h0.74M46.66 426.03h0.74M48.87 426.03h1.48M53.3 426.03h0.74M64.38 426.03h1.48M74.72 426.03h0.74M80.62 426.03h0.74M84.32 426.03h0.74M28.2 429.86h0.74M33.37 429.86h0.74M39.28 429.86h1.48M41.49 429.86h0.74M45.92 429.86h0.74M51.09 429.86h0.74M59.21 429.86h1.48M63.64 429.86h0.74M65.12 429.86h0.74M68.81 429.86h0.74M73.98 429.86h0.74M77.67 429.86h0.74M80.62 429.86h0.74M84.32 429.86h0.74M90.22 429.86h0.74M30.42 433.69h0.74M34.11 433.69h0.74M36.32 433.69h0.74M38.54 433.69h1.48M40.75 433.69h0.74M42.23 433.69h0.74M48.14 433.69h0.74M56.26 433.69h0.74M63.64 433.69h0.74M68.81 433.69h0.74M71.03 433.69h2.22M75.46 433.69h0.74M79.15 433.69h0.74M80.62 433.69h0.74M83.58 433.69h0.74M85.05 433.69h0.74M89.48 433.69h0.74" stroke="#be3b76" stroke-width="3.88" fill="none"/>
<path d="M31.89 345.61h0.74M43.71 345.61h0.74M48.87 345.61h0.74M57 345.61h0.74M65.86 345.61h0.74M74.72 345.61h0.74M81.36 345.61h0.74M34.85 349.44h0.74M42.23 349.44h0.74M57.73 349.44h0.74M69.55 349.44h0.74M72.5 349.44h0.74M76.93 349.44h1.48M87.27 349.44h0.74M89.48 349.44h0.74M31.15 353.27h0.74M34.85 353.27h0.74M36.32 353.27h1.48M45.92 353.27h0.74M73.24 353.27h0.74M76.19 353.27h0.74M88.75 353.27h0.74M31.15 357.1h0.74M37.06 357.1h0.74M38.54 357.1h0.74M40.01 357.1h1.48M65.86 357.1h0.74M67.33 357.1h0.74M68.81 357.1h0.74M81.36 357.1h0.74M30.42 360.93h0.74M40.75 360.93h0.74M42.97 360.93h0.74M52.57 360.93h0.74M54.78 360.93h0.74M62.17 360.93h0.74M64.38 360.93h1.48M68.81 360.93h0.74M70.29 360.93h0.74M73.24 360.93h2.95M76.93 360.93h2.22M88.75 360.93h0.74M38.54 364.76h0.74M42.97 364.76h0.74M45.92 364.76h0.74M54.78 364.76h0.74M57.73 364.76h0.74M62.9 364.76h0.74M68.07 364.76h0.74M72.5 364.76h1.48M77.67 364.76h0.74M87.27 364.76h0.74M28.94 368.59h0.74M37.8 368.59h0.74M54.78 368.59h0.74M56.26 368.59h0.74M62.9 368.59h0.74M80.62 368.59h0.74M83.58 368.59h1.48M87.27 368.59h0.74M30.42 372.42h1.48M38.54 372.42h0.74M43.71 372.42h0.74M48.14 372.42h0.74M52.57 372.42h0.74M63.64 372.42h0.74M77.67 372.42h0.74M80.62 372.42h0.74M88.75 372.42h0.74M31.89 376.25h0.74M33.37 376.25h0.74M39.28 376.25h0.74M59.21 376.25h0.74M60.69 376.25h0.74M62.17 376.25h0.74M63.64 376.25h0.74M65.86 376.25h0.74M68.81 376.25h0.74M73.98 376.25h0.74M76.19 376.25h0.74M82.84 376.25h0.74M85.79 376.25h0.74M90.22 376.25h0.74M32.63 380.08h0.74M42.23 380.08h0.74M50.35 380.08h1.48M58.47 380.08h1.48M60.69 380.08h0.74M65.86 380.08h0.74M81.36 380.08h0.74M85.05 380.08h1.48M29.68 383.91h0.74M35.58 383.91h1.48M42.23 383.91h0.74M51.09 383.91h0.74M71.76 383.91h0.74M88.01 383.91h0.74M89.48 383.91h0.74M28.94 387.74h0.74M36.32 387.74h0.74M42.23 387.74h0.74M45.18 387.74h0.74M48.14 387.74h1.48M50.35 387.74h0.74M68.81 387.74h0.74M79.89 387.74h2.22M85.79 387.74h0.74M88.75 387.74h0.74M29.68 391.56h0.74M42.97 391.56h0.74M44.44 391.56h0.74M48.87 391.56h0.74M52.57 391.56h0.74M55.52 391.56h0.74M60.69 391.56h0.74M64.38 391.56h0.74M69.55 391.56h0.74M80.62 391.56h0.74M82.84 391.56h0.74M31.89 395.39h0.74M34.85 395.39h0.74M36.32 395.39h0.74M38.54 395.39h0.74M40.75 395.39h0.74M42.97 395.39h0.74M45.92 395.39h1.48M58.47 395.39h0.74M65.86 395.39h1.48M68.07 395.39h0.74M79.15 395.39h0.74M80.62 395.39h0.74M86.53 395.39h0.74M89.48 395.39h0.74M29.68 399.22h0.74M32.63 399.22h0.74M39.28 399.22h0.74M42.97 399.22h0.74M45.92 399.22h0.74M48.14 399.22h0.74M49.61 399.22h0.74M63.64 399.22h0.74M79.15 399.22h0.74M82.84 399.22h0.74M87.27 399.22h0.74M32.63 403.05h0.74M37.06 403.05h0.74M45.18 403.05h0.74M46.66 403.05h0.74M50.35 403.05h1.48M53.3 403.05h1.48M61.43 403.05h0.74M62.9 403.05h0.74M74.72 403.05h0.74M77.67 403.05h0.74M80.62 403.05h0.74M35.58 406.88h0.74M43.71 406.88h0.74M48.87 406.88h0.74M50.35 406.88h0.74M52.57 406.88h0.74M56.26 406.88h0.74M58.47 406.88h0.74M62.17 406.88h0.74M68.81 406.88h0.74M70.29 406.88h0.74M72.5 406.88h0.74M77.67 406.88h0.74M31.15 410.71h0.74M38.54 410.71h0.74M48.14 410.71h0.74M49.61 410.71h0.74M52.57 410.71h0.74M54.78 410.71h0.74M73.24 410.71h0.74M74.72 410.71h0.74M80.62 410.71h0.74M83.58 410.71h0.74M88.75 410.71h0.74M31.89 414.54h0.74M34.11 414.54h0.74M41.49 414.54h0.74M44.44 414.54h0.74M48.87 414.54h1.48M52.57 414.54h0.74M54.78 414.54h0.74M64.38 414.54h0.74M67.33 414.54h0.74M71.76 414.54h0.74M82.84 414.54h0.74M34.85 418.37h0.74M36.32 418.37h0.74M46.66 418.37h0.74M50.35 418.37h0.74M58.47 418.37h0.74M70.29 418.37h0.74M81.36 418.37h0.74M33.37 422.2h0.74M42.97 422.2h0.74M48.14 422.2h0.74M52.57 422.2h0.74M62.9 422.2h1.48M86.53 422.2h0.74M88.75 422.2h0.74M29.68 426.03h0.74M32.63 426.03h0.74M36.32 426.03h0.74M38.54 426.03h0.74M50.35 426.03h0.74M54.78 426.03h0.74M56.26 426.03h0.74M60.69 426.03h0.74M62.9 426.03h0.74M65.86 426.03h0.74M68.07 426.03h0.74M73.24 426.03h1.48M75.46 426.03h1.48M82.84 426.03h0.74M88.75 426.03h0.74M28.94 429.86h0.74M34.11 429.86h2.22M43.71 429.86h0.74M48.14 429.86h0.74M49.61 429.86h0.74M52.57 429.86h1.48M68.07 429.86h0.74M74.72 429.86h1.48M81.36 429.86h2.22M85.79 429.86h0.74M88.75 429.86h0.74M28.94 433.69h1.48M43.71 433.69h0.74M57 433.69h0.74M61.43 433.69h2.22M65.12 433.69h0.74M67.33 433.69h0.74M78.41 433.69h0.74M85.79 433.69h0.74M90.22 433.69h0.74" stroke="#cb4270" stroke-width="3.88" fill="none"/>
<path d="M28.94 345.61h0.74M33.37 345.61h0.74M40.75 345.61h0.74M50.35 345.61h0.74M57.73 345.61h0.74M75.46 345.61h0.74M87.27 345.61h0.74M31.89 349.44h0.74M34.11 349.44h0.74M35.58 349.44h1.48M38.54 349.44h0.74M48.87 349.44h2.22M54.78 349.44h0.74M65.12 349.44h0.74M67.33 349.44h1.48M90.22 349.44h0.74M31.89 353.27h0.74M41.49 353.27h0.74M54.78 353.27h0.74M56.26 353.27h0.74M59.95 353.27h0.74M78.41 353.27h0.74M81.36 353.27h0.74M82.84 353.27h0.74M28.94 357.1h0.74M33.37 357.1h0.74M52.57 357.1h1.48M56.26 357.1h1.48M60.69 357.1h0.74M62.17 357.1h0.74M70.29 357.1h0.74M82.1 357.1h0.74M83.58 357.1h0.74M88.01 357.1h1.48M29.68 360.93h0.74M32.63 360.93h0.74M34.11 360.93h1.48M45.92 360.93h0.74M48.87 360.93h0.74M83.58 360.93h0.74M87.27 360.93h0.74M89.48 360.93h0.74M90.96 360.93h0.74M28.94 364.76h0.74M31.15 364.76h0.74M33.37 364.76h0.74M59.21 364.76h0.74M65.12 364.76h1.48M82.84 364.76h0.74M88.75 364.76h0.74M35.58 368.59h0.74M37.06 368.59h0.74M42.97 368.59h0.74M46.66 368.59h0.74M50.35 368.59h0.74M55.52 368.59h0.74M57 368.59h0.74M59.21 368.59h0.74M63.64 368.59h0.74M65.12 368.59h0.74M74.72 368.59h0.74M76.19 368.59h0.74M82.84 368.59h0.74M90.22 368.59h0.74M32.63 372.42h0.74M41.49 372.42h0.74M50.35 372.42h0.74M54.78 372.42h0.74M56.26 372.42h0.74M58.47 372.42h0.74M40.01 376.25h0.74M42.23 376.25h0.74M45.92 376.25h1.48M49.61 376.25h0.74M51.83 376.25h0.74M54.78 376.25h0.74M58.47 376.25h0.74M67.33 376.25h0.74M74.72 376.25h0.74M78.41 376.25h1.48M81.36 376.25h0.74M85.05 376.25h0.74M29.68 380.08h0.74M35.58 380.08h0.74M38.54 380.08h0.74M40.75 380.08h0.74M46.66 380.08h0.74M53.3 380.08h0.74M61.43 380.08h0.74M63.64 380.08h0.74M67.33 380.08h0.74M73.98 380.08h0.74M78.41 380.08h1.48M83.58 380.08h0.74M87.27 380.08h0.74M46.66 383.91h0.74M55.52 383.91h0.74M58.47 383.91h0.74M63.64 383.91h0.74M67.33 383.91h0.74M74.72 383.91h0.74M82.1 383.91h1.48M34.85 387.74h0.74M59.95 387.74h0.74M87.27 387.74h0.74M33.37 391.56h0.74M36.32 391.56h1.48M41.49 391.56h0.74M63.64 391.56h0.74M65.12 391.56h0.74M67.33 391.56h0.74M81.36 391.56h0.74M41.49 395.39h0.74M48.87 395.39h0.74M54.78 395.39h0.74M60.69 395.39h0.74M74.72 395.39h0.74M78.41 395.39h0.74M81.36 395.39h0.74M82.84 395.39h0.74M85.79 395.39h0.74M88.75 395.39h0.74M35.58 399.22h0.74M38.54 399.22h0.74M40.75 399.22h0.74M46.66 399.22h0.74M73.24 399.22h0.74M76.19 399.22h0.74M36.32 403.05h0.74M48.87 403.05h0.74M58.47 403.05h0.74M63.64 403.05h0.74M65.12 403.05h1.48M70.29 403.05h0.74M81.36 403.05h0.74M36.32 406.88h0.74M42.23 406.88h0.74M54.78 406.88h0.74M82.84 406.88h0.74M28.94 410.71h0.74M33.37 410.71h0.74M35.58 410.71h0.74M45.92 410.71h0.74M48.87 410.71h0.74M53.3 410.71h0.74M67.33 410.71h0.74M70.29 410.71h0.74M85.79 410.71h0.74M31.15 414.54h0.74M33.37 414.54h0.74M38.54 414.54h0.74M40.75 414.54h0.74M42.23 414.54h0.74M45.92 414.54h0.74M65.12 414.54h0.74M83.58 414.54h0.74M31.15 418.37h0.74M33.37 418.37h0.74M52.57 418.37h0.74M67.33 418.37h0.74M82.84 418.37h0.74M88.75 418.37h0.74M35.58 422.2h0.74M42.23 422.2h0.74M43.71 422.2h0.74M49.61 422.2h0.74M68.07 422.2h1.48M40.01 426.03h0.74M43.71 426.03h0.74M52.57 426.03h0.74M63.64 426.03h0.74M31.89 429.86h0.74M40.75 429.86h0.74M46.66 429.86h0.74M62.17 429.86h0.74M67.33 429.86h0.74M83.58 429.86h0.74M85.05 429.86h0.74M86.53 429.86h0.74M89.48 429.86h0.74M90.96 429.86h0.74M31.89 433.69h0.74M49.61 433.69h0.74M54.78 433.69h0.74M74.72 433.69h0.74" stroke="#d84a6a" stroke-width="3.88" fill="none"/>
<path d="M35.58 345.61h0.74M51.09 345.61h0.74M55.52 345.61h0.74M29.68 349.44h0.74M52.57 349.44h0.74M88.75 349.44h0.74M38.54 353.27h0.74M46.66 353.27h0.74M83.58 353.27h0.74M85.79 357.1h0.74M90.22 357.1h0.74M79.15 360.93h0.74M82.84 360.93h0.74M34.85 364.76h1.48M42.23 364.76h0.74M50.35 364.76h0.74M59.95 364.76h0.74M90.96 364.76h0.74M36.32 368.59h0.74M77.67 368.59h0.74M42.97 372.42h0.74M28.94 376.25h0.74M36.32 376.25h0.74M37.8 376.25h0.74M55.52 376.25h1.48M41.49 380.08h0.74M65.12 380.08h0.74M72.5 380.08h0.74M74.72 380.08h0.74M88.75 380.08h0.74M56.26 383.91h0.74M59.95 383.91h0.74M29.68 387.74h0.74M38.54 387.74h0.74M65.12 387.74h0.74M42.23 391.56h0.74M50.35 391.56h0.74M56.26 391.56h0.74M78.41 391.56h0.74M35.58 395.39h0.74M53.3 395.39h0.74M64.38 395.39h0.74M68.81 395.39h0.74M34.85 399.22h0.74M36.32 399.22h0.74M48.87 399.22h0.74M50.35 399.22h0.74M67.33 399.22h0.74M82.1 399.22h0.74M34.11 403.05h0.74M85.05 403.05h0.74M89.48 403.05h0.74M29.68 410.71h0.74M58.47 410.71h0.74M28.94 414.54h1.48M36.32 414.54h0.74M42.97 414.54h0.74M50.35 414.54h1.48M68.07 414.54h0.74M73.98 414.54h0.74M77.67 414.54h0.74M90.96 414.54h0.74M43.71 418.37h0.74M48.14 418.37h0.74M65.12 418.37h0.74M77.67 418.37h0.74M55.52 422.2h0.74M62.17 422.2h0.74M72.5 422.2h0.74M81.36 422.2h0.74M31.15 426.03h1.48M39.28 426.03h0.74M58.47 426.03h0.74M81.36 426.03h0.74M88.01 426.03h0.74M29.68 429.86h0.74M36.32 429.86h0.74M38.54 429.86h0.74M58.47 429.86h0.74M72.5 429.86h0.74M35.58 433.69h0.74M59.95 433.69h0.74M73.98 433.69h0.74M82.84 433.69h0.74" stroke="#e55164" stroke-width="3.88" fill="none"/>
<path d="M49.61 345.61h0.74M68.81 345.61h0.74M72.5 345.61h0.74M56.26 349.44h0.74M58.47 349.44h0.74M63.64 349.44h0.74M67.33 353.27h0.74M29.68 364.76h0.74M32.63 364.76h0.74M57 364.76h0.74M63.64 364.76h0.74M29.68 368.59h0.74M70.29 368.59h0.74M33.37 372.42h0.74M34.11 376.25h0.74M35.58 376.25h0.74M52.57 376.25h0.74M31.15 380.08h0.74M45.92 380.08h0.74M40.75 383.91h0.74M46.66 387.74h0.74M52.57 387.74h0.74M56.26 387.74h0.74M57.73 387.74h0.74M46.66 391.56h0.74M43.71 395.39h0.74M50.35 395.39h0.74M83.58 395.39h0.74M43.71 399.22h0.74M56.26 399.22h0.74M88.75 399.22h0.74M41.49 403.05h0.74M48.14 403.05h0.74M52.57 403.05h0.74M67.33 403.05h0.74M73.24 403.05h0.74M83.58 403.05h0.74M68.07 410.71h0.74M56.26 414.54h0.74M67.33 426.03h0.74M50.35 429.86h0.74M57 429.86h0.74M88.01 429.86h0.74M45.92 433.69h0.74M52.57 433.69h0.74" stroke="#ec6062" stroke-width="3.88" fill="none"/>
<path d="M53.3 345.61h0.74M67.33 345.61h0.74M28.94 349.44h0.74M35.58 357.1h0.74M33.37 360.93h0.74M50.35 360.93h0.74M56.26 360.93h0.74M38.54 376.25h0.74M50.35 376.25h0.74M88.75 376.25h0.74M56.26 380.08h0.74M83.58 391.56h0.74M30.42 395.39h0.74M63.64 395.39h0.74M58.47 399.22h0.74M35.58 414.54h0.74M56.26 429.86h0.74M46.66 433.69h0.74M88.75 433.69h0.74" stroke="#f37062" stroke-width="3.88" fill="none"/>
<path d="M72.5 360.93h0.74M82.84 380.08h0.74M37.06 433.69h0.74" stroke="#f98161" stroke-width="3.88" fill="none"/>
<path d="M67.33 360.93h0.74M50.35 410.71h0.74" stroke="#fc9166" stroke-width="3.88" fill="none"/>
<rect x="14.5" y="438.1" width="11.4" height="95.7" fill="#752080"/>
<path d="M25.09 470.64h0.81M24.27 493.61h0.81" stroke="#0c0720" stroke-width="3.88" fill="none"/>
<path d="M25.09 462.98h0.81" stroke="#140c32" stroke-width="3.88" fill="none"/>
<path d="M24.27 443.84h0.81M19.39 512.75h0.81" stroke="#1c1044" stroke-width="3.88" fill="none"/>
<path d="M15.31 440.01h0.81M24.27 447.67h0.81M25.09 459.15h0.81M19.39 478.29h0.81M15.31 485.95h0.81M19.39 489.78h0.81M25.09 489.78h0.81M18.57 501.26h0.81M24.27 508.92h0.81M18.57 531.89h0.81" stroke="#2a1155" stroke-width="3.88" fill="none"/>
<path d="M21.83 440.01h0.81M15.31 443.84h0.81M25.09 443.84h0.81M18.57 459.15h0.81M23.46 459.15h0.81M15.31 462.98h0.81M22.64 462.98h0.81M20.2 466.81h0.81M15.31 470.64h0.81M16.94 470.64h0.81M19.39 470.64h0.81M15.31 474.47h0.81M19.39 474.47h2.44M14.5 482.12h0.81M18.57 482.12h0.81M18.57 485.95h0.81M25.09 485.95h0.81M24.27 489.78h0.81M18.57 493.61h0.81M21.01 493.61h0.81M15.31 497.43h0.81M19.39 497.43h0.81M24.27 497.43h0.81M19.39 501.26h0.81M15.31 505.09h0.81M18.57 505.09h0.81M25.09 505.09h0.81M15.31 512.75h0.81M24.27 520.4h0.81M24.27 528.06h0.81M21.01 531.89h0.81M23.46 531.89h0.81" stroke="#3a1264" stroke-width="3.88" fill="none"/>
<path d="M14.5 440.01h0.81M18.57 440.01h0.81M24.27 440.01h1.63M14.5 447.67h1.63M25.09 447.67h0.81M17.76 459.15h0.81M20.2 459.15h0.81M16.94 466.81h0.81M14.5 470.64h0.81M22.64 470.64h0.81M14.5 474.47h0.81M25.09 474.47h0.81M25.09 478.29h0.81M15.31 482.12h0.81M20.2 485.95h0.81M15.31 489.78h0.81M25.09 493.61h0.81M17.76 501.26h0.81M20.2 501.26h0.81M25.09 501.26h0.81M20.2 505.09h0.81M18.57 508.92h0.81M20.2 508.92h0.81M19.39 516.57h0.81M24.27 516.57h0.81M18.57 520.4h1.63M25.09 520.4h0.81M18.57 524.23h0.81M19.39 528.06h0.81" stroke="#491274" stroke-width="3.88" fill="none"/>
<path d="M19.39 440.01h0.81M18.57 443.84h0.81M22.64 443.84h0.81M18.57 447.67h0.81M21.01 447.67h0.81M17.76 451.5h2.44M21.01 451.5h0.81M25.09 451.5h0.81M15.31 459.15h0.81M19.39 462.98h0.81M22.64 466.81h0.81M17.76 470.64h1.63M18.57 474.47h0.81M23.46 474.47h1.63M16.94 478.29h0.81M23.46 478.29h1.63M16.94 482.12h0.81M19.39 482.12h0.81M16.94 489.78h0.81M21.01 489.78h0.81M16.13 493.61h0.81M19.39 493.61h0.81M18.57 497.43h0.81M22.64 497.43h0.81M25.09 497.43h0.81M15.31 501.26h0.81M16.94 501.26h0.81M22.64 501.26h2.44M14.5 505.09h0.81M19.39 505.09h0.81M21.01 505.09h0.81M24.27 505.09h0.81M15.31 508.92h0.81M19.39 508.92h0.81M18.57 512.75h0.81M20.2 512.75h0.81M24.27 512.75h0.81M14.5 516.57h0.81M22.64 520.4h0.81M23.46 524.23h2.44M16.94 528.06h0.81M25.09 528.06h0.81M14.5 531.89h0.81M17.76 531.89h0.81M20.2 531.89h0.81" stroke="#58157d" stroke-width="3.88" fill="none"/>
<path d="M14.5 443.84h0.81M19.39 443.84h0.81M16.94 447.67h1.63M18.57 455.33h2.44M22.64 455.33h0.81M14.5 459.15h0.81M16.13 459.15h1.63M19.39 459.15h0.81M18.57 462.98h0.81M21.01 462.98h0.81M24.27 462.98h0.81M15.31 466.81h0.81M19.39 466.81h0.81M21.83 466.81h0.81M25.09 466.81h0.81M24.27 470.64h0.81M21.83 474.47h0.81M16.13 478.29h0.81M18.57 478.29h0.81M21.01 478.29h0.81M17.76 482.12h0.81M20.2 482.12h0.81M25.09 482.12h0.81M21.01 485.95h2.44M20.2 489.78h0.81M22.64 489.78h0.81M16.94 493.61h0.81M20.2 493.61h0.81M14.5 497.43h0.81M16.94 497.43h0.81M23.46 497.43h0.81M14.5 501.26h0.81M17.76 505.09h0.81M21.83 505.09h0.81M21.01 508.92h2.44M14.5 512.75h0.81M16.94 512.75h0.81M22.64 512.75h0.81M25.09 512.75h0.81M18.57 516.57h0.81M21.01 516.57h0.81M25.09 516.57h0.81M17.76 520.4h0.81M23.46 520.4h0.81M21.01 524.23h0.81M15.31 528.06h1.63M17.76 528.06h0.81M21.01 528.06h1.63M16.94 531.89h0.81M25.09 531.89h0.81" stroke="#661a7e" stroke-width="3.88" fill="none"/>
<path d="M20.2 440.01h0.81M22.64 440.01h1.63M21.83 447.67h0.81M16.13 451.5h1.63M20.2 451.5h0.81M22.64 451.5h0.81M14.5 455.33h1.63M17.76 455.33h0.81M24.27 455.33h1.63M21.01 459.15h0.81M22.64 459.15h0.81M24.27 459.15h0.81M23.46 462.98h0.81M14.5 466.81h0.81M18.57 466.81h0.81M21.01 466.81h0.81M23.46 466.81h1.63M20.2 470.64h1.63M23.46 470.64h0.81M16.13 474.47h0.81M15.31 478.29h0.81M16.13 482.12h0.81M23.46 482.12h0.81M14.5 485.95h0.81M17.76 485.95h0.81M19.39 485.95h0.81M14.5 489.78h0.81M14.5 493.61h1.63M17.76 493.61h0.81M23.46 493.61h0.81M16.13 497.43h0.81M20.2 497.43h1.63M21.01 501.26h0.81M16.13 505.09h1.63M22.64 505.09h0.81M16.13 508.92h0.81M25.09 508.92h0.81M16.13 512.75h0.81M23.46 512.75h0.81M20.2 516.57h0.81M15.31 520.4h1.63M14.5 524.23h1.63M19.39 524.23h0.81M22.64 524.23h0.81M18.57 528.06h0.81M20.2 528.06h0.81M23.46 528.06h0.81M24.27 531.89h0.81" stroke="#73207f" stroke-width="3.88" fill="none"/>
<path d="M17.76 440.01h0.81M20.2 443.84h1.63M16.13 447.67h0.81M20.2 447.67h0.81M22.64 447.67h1.63M14.5 451.5h0.81M21.83 451.5h0.81M24.27 451.5h0.81M16.13 455.33h1.63M23.46 455.33h0.81M21.83 459.15h0.81M16.13 462.98h1.63M17.76 466.81h0.81M16.13 470.64h0.81M16.94 474.47h0.81M22.64 474.47h0.81M14.5 478.29h0.81M20.2 478.29h0.81M21.83 478.29h1.63M21.01 482.12h0.81M16.94 485.95h0.81M23.46 485.95h0.81M17.76 489.78h1.63M23.46 489.78h0.81M21.83 493.61h1.63M17.76 497.43h0.81M21.83 501.26h0.81M14.5 508.92h0.81M17.76 512.75h0.81M21.83 512.75h0.81M17.76 516.57h0.81M21.83 516.57h2.44M21.83 520.4h0.81M16.13 524.23h0.81M20.2 524.23h0.81M14.5 528.06h0.81M16.13 531.89h0.81M19.39 531.89h0.81" stroke="#812581" stroke-width="3.88" fill="none"/>
<path d="M16.94 440.01h0.81M21.01 440.01h0.81M16.13 443.84h1.63M21.83 443.84h0.81M19.39 447.67h0.81M15.31 451.5h0.81M23.46 451.5h0.81M21.01 455.33h0.81M14.5 462.98h0.81M20.2 462.98h0.81M21.83 462.98h0.81M17.76 478.29h0.81M24.27 482.12h0.81M16.13 485.95h0.81M24.27 485.95h0.81M21.83 489.78h0.81M21.83 497.43h0.81M23.46 505.09h0.81M16.13 516.57h0.81M14.5 520.4h0.81M20.2 520.4h1.63M17.76 524.23h0.81M22.64 528.06h0.81M15.31 531.89h0.81" stroke="#902a7f" stroke-width="3.88" fill="none"/>
<path d="M17.76 443.84h0.81M23.46 443.84h0.81M21.83 455.33h0.81M17.76 462.98h0.81M16.13 466.81h0.81M21.83 470.64h0.81M22.64 482.12h0.81M16.13 489.78h0.81M16.94 508.92h1.63M23.46 508.92h0.81M21.01 512.75h0.81M15.31 516.57h0.81M21.83 524.23h0.81M21.83 531.89h1.63" stroke="#a02f7d" stroke-width="3.88" fill="none"/>
<path d="M17.76 474.47h0.81M21.83 482.12h0.81M16.13 501.26h0.81M16.94 516.57h0.81" stroke="#af347a" stroke-width="3.88" fill="none"/>
<path d="M16.13 440.01h0.81M16.94 520.4h0.81M16.94 524.23h0.81" stroke="#be3b76" stroke-width="3.88" fill="none"/>
<rect x="28.2" y="438.1" width="63.5" height="95.7" fill="#be3b76"/>
<path d="M58.47 443.84h0.74M67.33 470.64h0.74M67.33 497.43h0.74M67.33 516.57h0.74" stroke="#58157d" stroke-width="3.88" fill="none"/>
<path d="M52.57 440.01h0.74M56.26 447.67h0.74M67.33 447.67h0.74M36.32 470.64h0.74M38.54 474.47h0.74M40.75 474.47h0.74M50.35 474.47h0.74M35.58 482.12h0.74M56.26 482.12h0.74M67.33 482.12h0.74M67.33 489.78h0.74M78.41 493.61h0.74M63.64 520.4h0.74M85.05 520.4h0.74M67.33 524.23h0.74M85.79 524.23h0.74" stroke="#661a7e" stroke-width="3.88" fill="none"/>
<path d="M56.26 440.01h0.74M67.33 440.01h0.74M35.58 447.67h0.74M48.87 447.67h0.74M54.78 447.67h0.74M63.64 447.67h0.74M65.12 447.67h0.74M53.3 451.5h0.74M63.64 451.5h0.74M29.68 459.15h0.74M29.68 470.64h0.74M53.3 474.47h0.74M53.3 478.29h0.74M28.94 482.12h0.74M36.32 482.12h0.74M50.35 482.12h0.74M35.58 485.95h0.74M67.33 485.95h0.74M81.36 485.95h0.74M45.92 493.61h0.74M88.75 493.61h0.74M29.68 497.43h0.74M35.58 497.43h0.74M68.81 497.43h0.74M67.33 501.26h0.74M83.58 501.26h0.74M74.72 505.09h0.74M28.94 508.92h0.74M67.33 520.4h0.74M82.84 524.23h0.74M87.27 524.23h0.74M38.54 528.06h0.74M50.35 528.06h0.74" stroke="#73207f" stroke-width="3.88" fill="none"/>
<path d="M73.98 440.01h0.74M29.68 447.67h0.74M53.3 447.67h0.74M59.95 447.67h0.74M67.33 451.5h0.74M33.37 455.33h0.74M38.54 459.15h0.74M48.14 459.15h0.74M52.57 459.15h0.74M56.26 459.15h0.74M82.84 459.15h0.74M88.75 459.15h0.74M52.57 462.98h0.74M58.47 462.98h0.74M36.32 466.81h0.74M50.35 466.81h0.74M52.57 466.81h0.74M73.98 466.81h0.74M28.94 470.64h0.74M31.15 470.64h0.74M34.85 470.64h0.74M57.73 470.64h0.74M85.05 470.64h0.74M33.37 474.47h0.74M45.92 474.47h0.74M88.75 474.47h0.74M28.94 478.29h0.74M82.84 478.29h0.74M34.11 482.12h0.74M36.32 493.61h0.74M90.96 493.61h0.74M31.15 497.43h0.74M32.63 497.43h0.74M38.54 497.43h0.74M45.92 497.43h0.74M85.79 497.43h0.74M43.71 505.09h0.74M45.92 505.09h0.74M48.14 505.09h0.74M63.64 505.09h0.74M67.33 505.09h0.74M85.05 505.09h1.48M73.24 508.92h0.74M29.68 512.75h0.74M32.63 512.75h0.74M53.3 512.75h0.74M79.15 520.4h0.74M82.84 520.4h0.74M53.3 524.23h0.74M83.58 524.23h0.74M31.89 528.06h0.74M62.17 528.06h0.74M45.92 531.89h0.74M63.64 531.89h0.74M83.58 531.89h0.74M88.75 531.89h0.74" stroke="#812581" stroke-width="3.88" fill="none"/>
<path d="M34.11 440.01h0.74M49.61 440.01h0.74M77.67 440.01h0.74M82.84 440.01h0.74M56.26 443.84h0.74M67.33 443.84h0.74M72.5 443.84h0.74M82.1 443.84h0.74M83.58 443.84h0.74M28.2 447.67h0.74M31.15 447.67h0.74M34.85 447.67h0.74M42.97 447.67h0.74M50.35 447.67h0.74M68.81 447.67h0.74M35.58 451.5h1.48M48.87 451.5h0.74M57 451.5h0.74M62.9 451.5h0.74M73.24 451.5h0.74M83.58 451.5h0.74M38.54 455.33h0.74M48.87 455.33h0.74M90.96 455.33h0.74M32.63 459.15h0.74M40.01 459.15h0.74M46.66 459.15h0.74M53.3 459.15h0.74M67.33 459.15h0.74M74.72 459.15h0.74M85.05 459.15h0.74M56.26 462.98h0.74M63.64 462.98h0.74M68.07 462.98h0.74M78.41 462.98h0.74M28.2 466.81h0.74M38.54 466.81h0.74M43.71 466.81h0.74M48.14 466.81h0.74M56.26 466.81h0.74M58.47 466.81h0.74M71.76 466.81h0.74M80.62 466.81h1.48M30.42 470.64h0.74M53.3 470.64h0.74M65.86 470.64h0.74M68.07 470.64h1.48M73.98 470.64h0.74M88.01 470.64h0.74M34.85 474.47h0.74M56.26 474.47h0.74M66.6 474.47h1.48M72.5 474.47h0.74M36.32 478.29h0.74M67.33 478.29h1.48M85.05 478.29h0.74M37.06 482.12h0.74M49.61 482.12h0.74M57 482.12h0.74M71.03 482.12h0.74M72.5 482.12h0.74M75.46 482.12h0.74M78.41 482.12h1.48M28.94 485.95h0.74M36.32 485.95h0.74M46.66 485.95h0.74M48.14 485.95h2.95M54.78 485.95h0.74M70.29 485.95h0.74M28.94 489.78h0.74M34.85 489.78h0.74M43.71 489.78h0.74M48.14 489.78h0.74M72.5 489.78h0.74M31.15 493.61h0.74M67.33 493.61h1.48M73.24 493.61h0.74M76.19 493.61h0.74M43.71 497.43h0.74M83.58 497.43h0.74M88.01 497.43h0.74M31.15 501.26h0.74M34.85 501.26h1.48M48.14 501.26h0.74M46.66 505.09h0.74M52.57 505.09h0.74M68.81 505.09h0.74M79.15 505.09h0.74M83.58 505.09h0.74M53.3 508.92h0.74M88.75 508.92h0.74M36.32 512.75h0.74M58.47 512.75h0.74M59.95 512.75h0.74M63.64 512.75h0.74M83.58 512.75h0.74M86.53 512.75h1.48M35.58 516.57h0.74M83.58 516.57h0.74M88.75 516.57h0.74M31.89 520.4h0.74M40.75 520.4h0.74M88.01 520.4h0.74M90.96 520.4h0.74M28.94 524.23h0.74M37.06 524.23h0.74M56.26 524.23h0.74M65.86 524.23h0.74M80.62 524.23h1.48M33.37 528.06h0.74M48.14 528.06h0.74M53.3 528.06h0.74M56.26 528.06h0.74M82.1 528.06h1.48M89.48 528.06h0.74M29.68 531.89h0.74M54.78 531.89h0.74" stroke="#902a7f" stroke-width="3.88" fill="none"/>
<path d="M28.94 440.01h1.48M35.58 440.01h0.74M41.49 440.01h0.74M50.35 440.01h0.74M57 440.01h0.74M63.64 440.01h0.74M88.75 440.01h0.74M28.94 443.84h0.74M36.32 443.84h0.74M38.54 443.84h0.74M42.23 443.84h0.74M49.61 443.84h0.74M55.52 443.84h0.74M64.38 443.84h1.48M78.41 443.84h0.74M85.05 443.84h0.74M41.49 447.67h0.74M60.69 447.67h0.74M64.38 447.67h0.74M69.55 447.67h0.74M79.89 447.67h1.48M83.58 447.67h0.74M85.05 447.67h0.74M88.01 447.67h1.48M31.15 451.5h0.74M40.75 451.5h0.74M49.61 451.5h0.74M52.57 451.5h0.74M72.5 451.5h0.74M75.46 451.5h0.74M79.15 451.5h0.74M82.84 451.5h0.74M28.94 455.33h0.74M31.89 455.33h0.74M39.28 455.33h0.74M46.66 455.33h0.74M53.3 455.33h0.74M71.03 455.33h0.74M88.01 455.33h1.48M30.42 459.15h0.74M31.89 459.15h0.74M36.32 459.15h0.74M49.61 459.15h0.74M54.04 459.15h0.74M59.95 459.15h0.74M62.17 459.15h0.74M63.64 459.15h0.74M68.07 459.15h0.74M70.29 459.15h0.74M71.76 459.15h0.74M77.67 459.15h0.74M79.15 459.15h0.74M80.62 459.15h1.48M88.01 459.15h0.74M90.22 459.15h0.74M29.68 462.98h0.74M45.92 462.98h0.74M49.61 462.98h1.48M67.33 462.98h0.74M71.03 462.98h0.74M31.89 466.81h0.74M35.58 466.81h0.74M42.23 466.81h0.74M45.92 466.81h1.48M53.3 466.81h0.74M62.17 466.81h0.74M67.33 466.81h1.48M73.24 466.81h0.74M74.72 466.81h0.74M82.84 466.81h0.74M85.05 466.81h1.48M89.48 466.81h0.74M40.75 470.64h0.74M48.87 470.64h0.74M52.57 470.64h0.74M71.76 470.64h1.48M74.72 470.64h0.74M79.15 470.64h0.74M83.58 470.64h0.74M88.75 470.64h0.74M28.94 474.47h1.48M35.58 474.47h1.48M42.23 474.47h0.74M44.44 474.47h0.74M46.66 474.47h0.74M51.09 474.47h0.74M65.12 474.47h1.48M80.62 474.47h1.48M32.63 478.29h0.74M37.06 478.29h0.74M39.28 478.29h0.74M63.64 478.29h0.74M65.86 478.29h0.74M38.54 482.12h0.74M41.49 482.12h0.74M43.71 482.12h0.74M46.66 482.12h0.74M55.52 482.12h0.74M65.86 482.12h0.74M81.36 482.12h0.74M85.05 482.12h0.74M88.75 482.12h0.74M90.22 482.12h0.74M31.89 485.95h0.74M43.71 485.95h0.74M45.92 485.95h0.74M56.26 485.95h0.74M59.95 485.95h0.74M62.17 485.95h0.74M83.58 485.95h0.74M85.79 485.95h0.74M29.68 489.78h0.74M31.15 489.78h1.48M33.37 489.78h0.74M42.23 489.78h1.48M56.26 489.78h0.74M59.95 489.78h0.74M63.64 489.78h0.74M70.29 489.78h0.74M85.79 489.78h0.74M28.94 493.61h1.48M40.75 493.61h0.74M48.14 493.61h0.74M58.47 493.61h0.74M61.43 493.61h1.48M71.76 493.61h1.48M82.84 493.61h0.74M84.32 493.61h0.74M53.3 497.43h0.74M71.76 497.43h0.74M77.67 497.43h0.74M88.75 497.43h0.74M31.89 501.26h0.74M34.11 501.26h0.74M46.66 501.26h0.74M48.87 501.26h0.74M50.35 501.26h0.74M68.07 501.26h0.74M71.76 501.26h0.74M73.24 501.26h0.74M82.84 501.26h0.74M28.94 505.09h0.74M33.37 505.09h0.74M37.06 505.09h0.74M41.49 505.09h0.74M57 505.09h0.74M58.47 505.09h0.74M62.17 505.09h0.74M64.38 505.09h0.74M70.29 505.09h0.74M71.76 505.09h0.74M73.98 505.09h0.74M76.19 505.09h0.74M81.36 505.09h1.48M86.53 505.09h0.74M88.75 505.09h0.74M29.68 508.92h0.74M36.32 508.92h0.74M38.54 508.92h0.74M51.83 508.92h0.74M67.33 508.92h0.74M74.72 508.92h0.74M81.36 508.92h0.74M85.05 508.92h0.74M46.66 512.75h0.74M48.87 512.75h0.74M50.35 512.75h0.74M51.83 512.75h0.74M54.78 512.75h0.74M76.19 512.75h0.74M85.05 512.75h1.48M32.63 516.57h0.74M41.49 516.57h1.48M58.47 516.57h0.74M62.17 516.57h0.74M68.07 516.57h0.74M33.37 520.4h0.74M34.85 520.4h0.74M49.61 520.4h2.22M53.3 520.4h0.74M56.26 520.4h1.48M68.07 520.4h1.48M72.5 520.4h0.74M81.36 520.4h0.74M83.58 520.4h0.74M46.66 524.23h0.74M50.35 524.23h0.74M58.47 524.23h0.74M59.95 524.23h0.74M62.17 524.23h0.74M65.12 524.23h0.74M85.05 524.23h0.74M88.75 524.23h0.74M28.94 528.06h0.74M45.92 528.06h0.74M55.52 528.06h0.74M61.43 528.06h0.74M63.64 528.06h0.74M76.19 528.06h0.74M88.75 528.06h0.74M35.58 531.89h0.74M40.75 531.89h0.74M49.61 531.89h1.48M58.47 531.89h0.74M60.69 531.89h0.74M72.5 531.89h1.48M79.15 531.89h0.74M89.48 531.89h0.74" stroke="#a02f7d" stroke-width="3.88" fill="none"/>
<path d="M32.63 440.01h0.74M36.32 440.01h1.48M46.66 440.01h1.48M51.83 440.01h0.74M59.95 440.01h0.74M68.07 440.01h0.74M73.24 440.01h0.74M82.1 440.01h0.74M90.22 440.01h0.74M33.37 443.84h0.74M39.28 443.84h0.74M45.92 443.84h0.74M48.87 443.84h0.74M52.57 443.84h0.74M57 443.84h0.74M62.17 443.84h0.74M71.76 443.84h0.74M73.24 443.84h2.22M77.67 443.84h0.74M79.15 443.84h0.74M88.01 443.84h0.74M33.37 447.67h0.74M36.32 447.67h0.74M37.8 447.67h0.74M45.92 447.67h0.74M49.61 447.67h0.74M52.57 447.67h0.74M70.29 447.67h1.48M75.46 447.67h0.74M81.36 447.67h0.74M90.96 447.67h0.74M28.94 451.5h1.48M31.89 451.5h0.74M34.85 451.5h0.74M38.54 451.5h0.74M40.01 451.5h0.74M45.18 451.5h0.74M54.78 451.5h0.74M56.26 451.5h0.74M60.69 451.5h0.74M65.86 451.5h0.74M71.76 451.5h0.74M81.36 451.5h0.74M87.27 451.5h0.74M50.35 455.33h0.74M81.36 455.33h0.74M85.05 455.33h0.74M87.27 455.33h0.74M90.22 455.33h0.74M33.37 459.15h0.74M34.85 459.15h0.74M37.8 459.15h0.74M44.44 459.15h0.74M45.92 459.15h0.74M50.35 459.15h0.74M54.78 459.15h1.48M65.12 459.15h0.74M71.03 459.15h0.74M72.5 459.15h0.74M73.98 459.15h0.74M79.89 459.15h0.74M85.79 459.15h0.74M32.63 462.98h0.74M48.87 462.98h0.74M53.3 462.98h1.48M59.95 462.98h0.74M65.12 462.98h0.74M70.29 462.98h0.74M71.76 462.98h0.74M74.72 462.98h0.74M81.36 462.98h0.74M88.75 462.98h0.74M28.94 466.81h0.74M31.15 466.81h0.74M33.37 466.81h0.74M41.49 466.81h0.74M42.97 466.81h0.74M54.04 466.81h1.48M64.38 466.81h1.48M82.1 466.81h0.74M83.58 466.81h1.48M88.75 466.81h0.74M35.58 470.64h0.74M43.71 470.64h1.48M46.66 470.64h0.74M48.14 470.64h0.74M49.61 470.64h0.74M58.47 470.64h0.74M63.64 470.64h2.22M73.24 470.64h0.74M77.67 470.64h0.74M31.89 474.47h0.74M40.01 474.47h0.74M43.71 474.47h0.74M48.14 474.47h0.74M54.78 474.47h0.74M57 474.47h0.74M58.47 474.47h0.74M59.95 474.47h0.74M61.43 474.47h0.74M63.64 474.47h0.74M69.55 474.47h1.48M73.24 474.47h0.74M86.53 474.47h0.74M88.01 474.47h0.74M34.11 478.29h0.74M40.75 478.29h0.74M45.18 478.29h0.74M48.14 478.29h1.48M54.78 478.29h0.74M59.21 478.29h0.74M66.6 478.29h0.74M70.29 478.29h0.74M72.5 478.29h0.74M76.19 478.29h0.74M81.36 478.29h0.74M31.15 482.12h0.74M33.37 482.12h0.74M34.85 482.12h0.74M39.28 482.12h2.22M42.23 482.12h0.74M51.83 482.12h0.74M57.73 482.12h1.48M65.12 482.12h0.74M66.6 482.12h0.74M73.24 482.12h0.74M79.89 482.12h1.48M29.68 485.95h0.74M31.15 485.95h0.74M40.01 485.95h0.74M42.97 485.95h0.74M51.09 485.95h0.74M58.47 485.95h0.74M64.38 485.95h2.22M68.07 485.95h1.48M71.03 485.95h0.74M73.98 485.95h0.74M82.1 485.95h0.74M88.01 485.95h1.48M90.96 485.95h0.74M35.58 489.78h0.74M37.06 489.78h0.74M45.92 489.78h0.74M50.35 489.78h0.74M52.57 489.78h0.74M62.9 489.78h0.74M65.12 489.78h0.74M73.98 489.78h0.74M76.93 489.78h0.74M82.1 489.78h0.74M86.53 489.78h1.48M31.89 493.61h2.22M42.97 493.61h0.74M48.87 493.61h0.74M53.3 493.61h0.74M55.52 493.61h0.74M60.69 493.61h0.74M73.98 493.61h0.74M87.27 493.61h0.74M28.2 497.43h0.74M42.23 497.43h0.74M44.44 497.43h0.74M54.04 497.43h0.74M58.47 497.43h0.74M63.64 497.43h0.74M65.86 497.43h0.74M73.98 497.43h0.74M78.41 497.43h0.74M81.36 497.43h0.74M29.68 501.26h0.74M33.37 501.26h0.74M36.32 501.26h0.74M38.54 501.26h0.74M40.01 501.26h0.74M43.71 501.26h0.74M49.61 501.26h0.74M54.78 501.26h0.74M56.26 501.26h1.48M58.47 501.26h0.74M60.69 501.26h0.74M63.64 501.26h0.74M65.12 501.26h0.74M68.81 501.26h0.74M70.29 501.26h1.48M72.5 501.26h0.74M76.19 501.26h0.74M88.75 501.26h0.74M90.22 501.26h0.74M34.11 505.09h2.22M38.54 505.09h0.74M42.97 505.09h0.74M47.4 505.09h0.74M48.87 505.09h0.74M54.78 505.09h0.74M56.26 505.09h0.74M61.43 505.09h0.74M82.84 505.09h0.74M89.48 505.09h1.48M31.15 508.92h2.22M35.58 508.92h0.74M40.01 508.92h1.48M42.97 508.92h0.74M45.92 508.92h0.74M50.35 508.92h0.74M58.47 508.92h0.74M63.64 508.92h0.74M65.12 508.92h0.74M28.2 512.75h0.74M33.37 512.75h0.74M38.54 512.75h0.74M40.75 512.75h0.74M42.23 512.75h0.74M43.71 512.75h0.74M57.73 512.75h0.74M61.43 512.75h1.48M67.33 512.75h0.74M68.81 512.75h0.74M74.72 512.75h0.74M77.67 512.75h0.74M82.84 512.75h0.74M88.75 512.75h0.74M28.2 516.57h0.74M33.37 516.57h0.74M39.28 516.57h0.74M48.87 516.57h0.74M57 516.57h0.74M62.9 516.57h0.74M73.98 516.57h0.74M79.89 516.57h1.48M29.68 520.4h0.74M36.32 520.4h0.74M42.97 520.4h0.74M45.92 520.4h0.74M48.14 520.4h0.74M89.48 520.4h1.48M34.85 524.23h1.48M41.49 524.23h1.48M49.61 524.23h0.74M51.09 524.23h0.74M55.52 524.23h0.74M59.21 524.23h0.74M68.07 524.23h0.74M70.29 524.23h0.74M74.72 524.23h1.48M78.41 524.23h0.74M90.22 524.23h0.74M29.68 528.06h0.74M31.15 528.06h0.74M32.63 528.06h0.74M37.06 528.06h1.48M65.12 528.06h0.74M68.81 528.06h0.74M72.5 528.06h0.74M75.46 528.06h0.74M80.62 528.06h0.74M86.53 528.06h0.74M90.96 528.06h0.74M28.94 531.89h0.74M31.15 531.89h0.74M33.37 531.89h0.74M34.85 531.89h0.74M37.06 531.89h2.95M42.97 531.89h0.74M51.83 531.89h1.48M56.26 531.89h0.74M68.07 531.89h0.74M71.03 531.89h0.74M73.98 531.89h0.74M75.46 531.89h0.74M85.05 531.89h0.74" stroke="#af347a" stroke-width="3.88" fill="none"/>
<path d="M31.15 440.01h0.74M34.85 440.01h0.74M39.28 440.01h0.74M40.75 440.01h0.74M43.71 440.01h0.74M53.3 440.01h1.48M61.43 440.01h0.74M64.38 440.01h0.74M80.62 440.01h0.74M85.05 440.01h0.74M28.2 443.84h0.74M31.15 443.84h0.74M32.63 443.84h0.74M34.85 443.84h1.48M37.8 443.84h0.74M48.14 443.84h0.74M59.95 443.84h0.74M62.9 443.84h0.74M68.07 443.84h1.48M76.19 443.84h0.74M86.53 443.84h0.74M28.94 447.67h0.74M31.89 447.67h0.74M34.11 447.67h0.74M37.06 447.67h0.74M40.75 447.67h0.74M43.71 447.67h0.74M46.66 447.67h0.74M51.09 447.67h0.74M58.47 447.67h0.74M62.17 447.67h0.74M78.41 447.67h0.74M82.84 447.67h0.74M87.27 447.67h0.74M89.48 447.67h1.48M30.42 451.5h0.74M34.11 451.5h0.74M37.06 451.5h0.74M45.92 451.5h2.22M68.81 451.5h0.74M70.29 451.5h0.74M73.98 451.5h0.74M84.32 451.5h2.22M88.01 451.5h0.74M90.22 451.5h0.74M29.68 455.33h0.74M32.63 455.33h0.74M40.75 455.33h0.74M63.64 455.33h0.74M65.86 455.33h0.74M72.5 455.33h0.74M82.84 455.33h1.48M86.53 455.33h0.74M31.15 459.15h0.74M35.58 459.15h0.74M41.49 459.15h0.74M51.09 459.15h1.48M57.73 459.15h0.74M61.43 459.15h0.74M65.86 459.15h0.74M75.46 459.15h0.74M83.58 459.15h0.74M86.53 459.15h1.48M89.48 459.15h0.74M28.94 462.98h0.74M38.54 462.98h1.48M42.97 462.98h2.22M48.14 462.98h0.74M55.52 462.98h0.74M57.73 462.98h0.74M62.17 462.98h1.48M64.38 462.98h0.74M72.5 462.98h0.74M75.46 462.98h0.74M80.62 462.98h0.74M82.84 462.98h1.48M85.05 462.98h1.48M90.22 462.98h0.74M29.68 466.81h0.74M34.11 466.81h1.48M39.28 466.81h2.22M51.09 466.81h0.74M57 466.81h0.74M63.64 466.81h0.74M70.29 466.81h0.74M72.5 466.81h0.74M77.67 466.81h0.74M79.15 466.81h0.74M87.27 466.81h1.48M34.11 470.64h0.74M37.8 470.64h2.95M54.78 470.64h1.48M60.69 470.64h2.22M70.29 470.64h0.74M75.46 470.64h0.74M78.41 470.64h0.74M82.84 470.64h0.74M86.53 470.64h0.74M90.22 470.64h0.74M31.15 474.47h0.74M37.06 474.47h1.48M39.28 474.47h0.74M41.49 474.47h0.74M45.18 474.47h0.74M47.4 474.47h0.74M49.61 474.47h0.74M54.04 474.47h0.74M57.73 474.47h0.74M62.9 474.47h0.74M68.07 474.47h1.48M71.76 474.47h0.74M77.67 474.47h1.48M79.89 474.47h0.74M83.58 474.47h1.48M89.48 474.47h0.74M90.96 474.47h0.74M31.15 478.29h1.48M42.23 478.29h1.48M46.66 478.29h1.48M55.52 478.29h1.48M58.47 478.29h0.74M64.38 478.29h0.74M73.24 478.29h0.74M75.46 478.29h0.74M78.41 478.29h0.74M85.79 478.29h0.74M87.27 478.29h0.74M88.75 478.29h0.74M90.22 478.29h0.74M29.68 482.12h0.74M31.89 482.12h0.74M37.8 482.12h0.74M42.97 482.12h0.74M52.57 482.12h1.48M60.69 482.12h0.74M63.64 482.12h0.74M68.07 482.12h0.74M73.98 482.12h0.74M77.67 482.12h0.74M82.84 482.12h1.48M89.48 482.12h0.74M30.42 485.95h0.74M32.63 485.95h0.74M34.11 485.95h1.48M39.28 485.95h0.74M52.57 485.95h1.48M57 485.95h1.48M63.64 485.95h0.74M73.24 485.95h0.74M77.67 485.95h0.74M79.15 485.95h0.74M87.27 485.95h0.74M90.22 485.95h0.74M32.63 489.78h0.74M36.32 489.78h0.74M40.01 489.78h0.74M41.49 489.78h0.74M49.61 489.78h0.74M51.83 489.78h0.74M55.52 489.78h0.74M57 489.78h0.74M65.86 489.78h0.74M68.07 489.78h0.74M73.24 489.78h0.74M76.19 489.78h0.74M77.67 489.78h1.48M82.84 489.78h0.74M85.05 489.78h0.74M88.75 489.78h1.48M34.11 493.61h1.48M37.8 493.61h1.48M41.49 493.61h0.74M46.66 493.61h0.74M49.61 493.61h0.74M51.09 493.61h0.74M52.57 493.61h0.74M56.26 493.61h0.74M59.95 493.61h0.74M63.64 493.61h0.74M65.86 493.61h0.74M83.58 493.61h0.74M85.05 493.61h0.74M31.89 497.43h0.74M33.37 497.43h0.74M37.8 497.43h0.74M39.28 497.43h1.48M42.97 497.43h0.74M46.66 497.43h0.74M48.87 497.43h0.74M50.35 497.43h0.74M51.83 497.43h1.48M56.26 497.43h0.74M32.63 501.26h0.74M40.75 501.26h0.74M42.23 501.26h1.48M45.92 501.26h0.74M53.3 501.26h0.74M55.52 501.26h0.74M57.73 501.26h0.74M61.43 501.26h2.22M74.72 501.26h0.74M82.1 501.26h0.74M86.53 501.26h0.74M31.15 505.09h1.48M37.8 505.09h0.74M40.75 505.09h0.74M53.3 505.09h0.74M59.21 505.09h2.22M65.12 505.09h0.74M73.24 505.09h0.74M75.46 505.09h0.74M39.28 508.92h0.74M42.23 508.92h0.74M46.66 508.92h1.48M49.61 508.92h0.74M54.04 508.92h0.74M56.26 508.92h0.74M73.98 508.92h0.74M79.15 508.92h0.74M88.01 508.92h0.74M30.42 512.75h2.22M34.11 512.75h0.74M35.58 512.75h0.74M37.8 512.75h0.74M42.97 512.75h0.74M45.92 512.75h0.74M49.61 512.75h0.74M52.57 512.75h0.74M54.04 512.75h0.74M65.12 512.75h0.74M70.29 512.75h0.74M73.98 512.75h0.74M82.1 512.75h0.74M29.68 516.57h0.74M31.15 516.57h1.48M38.54 516.57h0.74M42.97 516.57h0.74M51.09 516.57h0.74M52.57 516.57h0.74M56.26 516.57h0.74M59.95 516.57h0.74M65.86 516.57h0.74M71.76 516.57h0.74M73.24 516.57h0.74M79.15 516.57h0.74M82.84 516.57h0.74M85.79 516.57h0.74M35.58 520.4h0.74M42.23 520.4h0.74M43.71 520.4h0.74M51.83 520.4h1.48M55.52 520.4h0.74M58.47 520.4h0.74M61.43 520.4h1.48M65.12 520.4h0.74M73.24 520.4h2.22M80.62 520.4h0.74M28.2 524.23h0.74M29.68 524.23h0.74M31.89 524.23h0.74M33.37 524.23h1.48M36.32 524.23h0.74M43.71 524.23h0.74M45.92 524.23h0.74M47.4 524.23h0.74M54.78 524.23h0.74M68.81 524.23h0.74M73.98 524.23h0.74M79.15 524.23h0.74M82.1 524.23h0.74M89.48 524.23h0.74M34.85 528.06h0.74M36.32 528.06h0.74M40.75 528.06h0.74M42.23 528.06h0.74M43.71 528.06h0.74M46.66 528.06h0.74M49.61 528.06h0.74M54.78 528.06h0.74M59.95 528.06h0.74M67.33 528.06h0.74M81.36 528.06h0.74M83.58 528.06h0.74M85.05 528.06h1.48M88.01 528.06h0.74M31.89 531.89h0.74M34.11 531.89h0.74M43.71 531.89h0.74M48.87 531.89h0.74M53.3 531.89h0.74M62.9 531.89h0.74M65.12 531.89h0.74M67.33 531.89h0.74M69.55 531.89h1.48M79.89 531.89h0.74M82.84 531.89h0.74M85.79 531.89h0.74" stroke="#be3b76" stroke-width="3.88" fill="none"/>
<path d="M30.42 440.01h0.74M31.89 440.01h0.74M40.01 440.01h0.74M42.23 440.01h0.74M44.44 440.01h0.74M45.92 440.01h0.74M48.14 440.01h0.74M51.09 440.01h0.74M57.73 440.01h0.74M59.21 440.01h0.74M65.12 440.01h0.74M66.6 440.01h0.74M71.76 440.01h1.48M74.72 440.01h2.22M78.41 440.01h0.74M81.36 440.01h0.74M84.32 440.01h0.74M87.27 440.01h1.48M89.48 440.01h0.74M90.96 440.01h0.74M29.68 443.84h0.74M31.89 443.84h0.74M34.11 443.84h0.74M37.06 443.84h0.74M42.97 443.84h2.22M46.66 443.84h1.48M51.09 443.84h1.48M53.3 443.84h1.48M57.73 443.84h0.74M63.64 443.84h0.74M65.86 443.84h0.74M70.29 443.84h0.74M75.46 443.84h0.74M79.89 443.84h2.22M84.32 443.84h0.74M87.27 443.84h0.74M88.75 443.84h0.74M90.22 443.84h0.74M32.63 447.67h0.74M38.54 447.67h0.74M42.23 447.67h0.74M44.44 447.67h0.74M55.52 447.67h0.74M65.86 447.67h1.48M72.5 447.67h0.74M73.98 447.67h1.48M82.1 447.67h0.74M85.79 447.67h0.74M28.2 451.5h0.74M33.37 451.5h0.74M37.8 451.5h0.74M42.97 451.5h1.48M50.35 451.5h0.74M51.83 451.5h0.74M55.52 451.5h0.74M59.95 451.5h0.74M65.12 451.5h0.74M66.6 451.5h0.74M68.07 451.5h0.74M77.67 451.5h1.48M79.89 451.5h0.74M88.75 451.5h0.74M90.96 451.5h0.74M37.06 455.33h1.48M40.01 455.33h0.74M41.49 455.33h0.74M44.44 455.33h2.22M47.4 455.33h0.74M49.61 455.33h0.74M52.57 455.33h0.74M55.52 455.33h0.74M57 455.33h0.74M59.95 455.33h1.48M62.9 455.33h0.74M68.81 455.33h0.74M73.24 455.33h1.48M76.19 455.33h0.74M77.67 455.33h0.74M79.15 455.33h0.74M28.2 459.15h0.74M34.11 459.15h0.74M37.06 459.15h0.74M39.28 459.15h0.74M48.87 459.15h0.74M58.47 459.15h1.48M64.38 459.15h0.74M66.6 459.15h0.74M69.55 459.15h0.74M76.19 459.15h0.74M31.15 462.98h0.74M34.11 462.98h0.74M37.06 462.98h0.74M40.01 462.98h1.48M57 462.98h0.74M59.21 462.98h0.74M77.67 462.98h0.74M84.32 462.98h0.74M90.96 462.98h0.74M32.63 466.81h0.74M47.4 466.81h0.74M57.73 466.81h0.74M59.95 466.81h0.74M68.81 466.81h1.48M75.46 466.81h1.48M78.41 466.81h0.74M28.2 470.64h0.74M31.89 470.64h0.74M33.37 470.64h0.74M42.23 470.64h1.48M50.35 470.64h0.74M51.83 470.64h0.74M56.26 470.64h0.74M59.21 470.64h0.74M62.9 470.64h0.74M71.03 470.64h0.74M76.19 470.64h1.48M80.62 470.64h0.74M87.27 470.64h0.74M90.96 470.64h0.74M30.42 474.47h0.74M42.97 474.47h0.74M51.83 474.47h0.74M55.52 474.47h0.74M60.69 474.47h0.74M62.17 474.47h0.74M64.38 474.47h0.74M74.72 474.47h1.48M82.1 474.47h1.48M85.05 474.47h0.74M90.22 474.47h0.74M29.68 478.29h0.74M33.37 478.29h0.74M34.85 478.29h0.74M41.49 478.29h0.74M45.92 478.29h0.74M49.61 478.29h1.48M52.57 478.29h0.74M57 478.29h0.74M62.17 478.29h0.74M71.03 478.29h0.74M79.89 478.29h0.74M83.58 478.29h0.74M88.01 478.29h0.74M89.48 478.29h0.74M90.96 478.29h0.74M30.42 482.12h0.74M32.63 482.12h0.74M45.92 482.12h0.74M48.87 482.12h0.74M54.78 482.12h0.74M59.95 482.12h0.74M61.43 482.12h1.48M64.38 482.12h0.74M71.76 482.12h0.74M74.72 482.12h0.74M76.19 482.12h0.74M85.79 482.12h0.74M87.27 482.12h0.74M33.37 485.95h0.74M37.06 485.95h1.48M41.49 485.95h0.74M47.4 485.95h0.74M54.04 485.95h0.74M60.69 485.95h0.74M62.9 485.95h0.74M71.76 485.95h0.74M74.72 485.95h0.74M78.41 485.95h0.74M79.89 485.95h0.74M82.84 485.95h0.74M89.48 485.95h0.74M34.11 489.78h0.74M38.54 489.78h1.48M45.18 489.78h0.74M46.66 489.78h0.74M48.87 489.78h0.74M51.09 489.78h0.74M53.3 489.78h1.48M58.47 489.78h0.74M60.69 489.78h0.74M62.17 489.78h0.74M64.38 489.78h0.74M71.03 489.78h1.48M75.46 489.78h0.74M83.58 489.78h0.74M28.2 493.61h0.74M35.58 493.61h0.74M37.06 493.61h0.74M39.28 493.61h1.48M43.71 493.61h0.74M47.4 493.61h0.74M50.35 493.61h0.74M51.83 493.61h0.74M59.21 493.61h0.74M68.81 493.61h0.74M74.72 493.61h0.74M77.67 493.61h0.74M80.62 493.61h2.22M28.94 497.43h0.74M36.32 497.43h0.74M40.75 497.43h0.74M47.4 497.43h1.48M60.69 497.43h2.22M64.38 497.43h0.74M68.07 497.43h0.74M72.5 497.43h0.74M76.93 497.43h0.74M80.62 497.43h0.74M82.1 497.43h0.74M85.05 497.43h0.74M86.53 497.43h1.48M90.22 497.43h1.48M28.2 501.26h1.48M37.8 501.26h0.74M41.49 501.26h0.74M44.44 501.26h0.74M52.57 501.26h0.74M59.95 501.26h0.74M65.86 501.26h0.74M78.41 501.26h3.69M85.05 501.26h0.74M87.27 501.26h1.48M89.48 501.26h0.74M28.2 505.09h0.74M29.68 505.09h1.48M32.63 505.09h0.74M40.01 505.09h0.74M42.23 505.09h0.74M44.44 505.09h0.74M50.35 505.09h0.74M65.86 505.09h0.74M68.07 505.09h0.74M88.01 505.09h0.74M90.96 505.09h0.74M33.37 508.92h1.48M37.06 508.92h0.74M41.49 508.92h0.74M43.71 508.92h0.74M48.14 508.92h1.48M51.09 508.92h0.74M54.78 508.92h1.48M57 508.92h0.74M59.21 508.92h0.74M60.69 508.92h0.74M62.17 508.92h0.74M68.07 508.92h0.74M72.5 508.92h0.74M75.46 508.92h1.48M77.67 508.92h0.74M79.89 508.92h0.74M82.1 508.92h0.74M85.79 508.92h0.74M87.27 508.92h0.74M89.48 508.92h0.74M34.85 512.75h0.74M37.06 512.75h0.74M44.44 512.75h0.74M56.26 512.75h0.74M59.21 512.75h0.74M64.38 512.75h0.74M65.86 512.75h0.74M68.07 512.75h0.74M69.55 512.75h0.74M71.03 512.75h0.74M73.24 512.75h0.74M78.41 512.75h0.74M28.94 516.57h0.74M30.42 516.57h0.74M34.11 516.57h0.74M36.32 516.57h2.22M40.01 516.57h1.48M43.71 516.57h0.74M45.92 516.57h1.48M53.3 516.57h0.74M57.73 516.57h0.74M60.69 516.57h0.74M64.38 516.57h0.74M78.41 516.57h0.74M89.48 516.57h0.74M90.96 516.57h0.74M28.94 520.4h0.74M32.63 520.4h0.74M37.8 520.4h2.22M46.66 520.4h0.74M48.87 520.4h0.74M54.78 520.4h0.74M59.21 520.4h2.22M64.38 520.4h0.74M77.67 520.4h0.74M31.15 524.23h0.74M32.63 524.23h0.74M38.54 524.23h1.48M40.75 524.23h0.74M42.97 524.23h0.74M45.18 524.23h0.74M48.14 524.23h0.74M57.73 524.23h0.74M71.76 524.23h1.48M76.19 524.23h0.74M90.96 524.23h0.74M28.2 528.06h0.74M35.58 528.06h0.74M39.28 528.06h1.48M47.4 528.06h0.74M52.57 528.06h0.74M57.73 528.06h1.48M60.69 528.06h0.74M64.38 528.06h0.74M65.86 528.06h0.74M70.29 528.06h0.74M73.98 528.06h1.48M87.27 528.06h0.74M32.63 531.89h0.74M36.32 531.89h0.74M42.23 531.89h0.74M44.44 531.89h0.74M47.4 531.89h0.74M62.17 531.89h0.74M64.38 531.89h0.74M68.81 531.89h0.74M77.67 531.89h1.48M80.62 531.89h0.74M82.1 531.89h0.74M84.32 531.89h0.74M87.27 531.89h0.74M90.22 531.89h1.48" stroke="#cb4270" stroke-width="3.88" fill="none"/>
<path d="M28.2 440.01h0.74M37.8 440.01h0.74M42.97 440.01h0.74M45.18 440.01h0.74M48.87 440.01h0.74M54.78 440.01h0.74M58.47 440.01h0.74M60.69 440.01h0.74M62.17 440.01h0.74M68.81 440.01h0.74M79.89 440.01h0.74M83.58 440.01h0.74M85.79 440.01h0.74M41.49 443.84h0.74M50.35 443.84h0.74M54.78 443.84h0.74M59.21 443.84h0.74M60.69 443.84h0.74M85.79 443.84h0.74M30.42 447.67h0.74M39.28 447.67h1.48M47.4 447.67h0.74M57.73 447.67h0.74M61.43 447.67h0.74M68.07 447.67h0.74M71.76 447.67h0.74M76.19 447.67h0.74M48.14 451.5h0.74M51.09 451.5h0.74M59.21 451.5h0.74M64.38 451.5h0.74M76.19 451.5h1.48M80.62 451.5h0.74M82.1 451.5h0.74M31.15 455.33h0.74M34.11 455.33h2.22M42.97 455.33h0.74M48.14 455.33h0.74M54.78 455.33h0.74M56.26 455.33h0.74M58.47 455.33h1.48M61.43 455.33h0.74M65.12 455.33h0.74M67.33 455.33h1.48M69.55 455.33h0.74M74.72 455.33h1.48M78.41 455.33h0.74M79.89 455.33h1.48M85.79 455.33h0.74M89.48 455.33h0.74M28.94 459.15h0.74M42.23 459.15h2.22M60.69 459.15h0.74M76.93 459.15h0.74M78.41 459.15h0.74M33.37 462.98h0.74M34.85 462.98h0.74M41.49 462.98h1.48M51.09 462.98h0.74M54.78 462.98h0.74M61.43 462.98h0.74M66.6 462.98h0.74M69.55 462.98h0.74M76.19 462.98h1.48M87.27 462.98h1.48M37.8 466.81h0.74M48.87 466.81h0.74M59.21 466.81h0.74M60.69 466.81h1.48M65.86 466.81h0.74M79.89 466.81h0.74M86.53 466.81h0.74M32.63 470.64h0.74M41.49 470.64h0.74M45.92 470.64h0.74M47.4 470.64h0.74M57 470.64h0.74M69.55 470.64h0.74M81.36 470.64h1.48M89.48 470.64h0.74M28.2 474.47h0.74M32.63 474.47h0.74M48.87 474.47h0.74M52.57 474.47h0.74M59.21 474.47h0.74M71.03 474.47h0.74M73.98 474.47h0.74M38.54 478.29h0.74M40.01 478.29h0.74M44.44 478.29h0.74M57.73 478.29h0.74M59.95 478.29h0.74M61.43 478.29h0.74M65.12 478.29h0.74M68.81 478.29h0.74M82.1 478.29h0.74M47.4 482.12h1.48M62.9 482.12h0.74M70.29 482.12h0.74M76.93 482.12h0.74M82.1 482.12h0.74M90.96 482.12h0.74M28.2 485.95h0.74M38.54 485.95h0.74M40.75 485.95h0.74M42.23 485.95h0.74M44.44 485.95h0.74M51.83 485.95h0.74M61.43 485.95h0.74M72.5 485.95h0.74M80.62 485.95h0.74M86.53 485.95h0.74M28.2 489.78h0.74M30.42 489.78h0.74M37.8 489.78h0.74M44.44 489.78h0.74M57.73 489.78h0.74M59.21 489.78h0.74M61.43 489.78h0.74M69.55 489.78h0.74M74.72 489.78h0.74M80.62 489.78h0.74M84.32 489.78h0.74M90.22 489.78h1.48M45.18 493.61h0.74M54.04 493.61h1.48M64.38 493.61h1.48M71.03 493.61h0.74M75.46 493.61h0.74M76.93 493.61h0.74M79.15 493.61h0.74M85.79 493.61h0.74M90.22 493.61h0.74M37.06 497.43h0.74M41.49 497.43h0.74M49.61 497.43h0.74M54.78 497.43h0.74M57.73 497.43h0.74M59.95 497.43h0.74M62.9 497.43h0.74M65.12 497.43h0.74M66.6 497.43h0.74M73.24 497.43h0.74M74.72 497.43h1.48M79.15 497.43h0.74M82.84 497.43h0.74M30.42 501.26h0.74M47.4 501.26h0.74M51.09 501.26h0.74M54.04 501.26h0.74M59.21 501.26h0.74M64.38 501.26h0.74M76.93 501.26h0.74M85.79 501.26h0.74M39.28 505.09h0.74M45.18 505.09h0.74M51.09 505.09h0.74M62.9 505.09h0.74M69.55 505.09h0.74M71.03 505.09h0.74M44.44 508.92h0.74M57.73 508.92h0.74M59.95 508.92h0.74M65.86 508.92h1.48M68.81 508.92h0.74M78.41 508.92h0.74M83.58 508.92h0.74M86.53 508.92h0.74M90.96 508.92h0.74M28.94 512.75h0.74M39.28 512.75h1.48M47.4 512.75h1.48M60.69 512.75h0.74M66.6 512.75h0.74M75.46 512.75h0.74M88.01 512.75h0.74M90.22 512.75h1.48M34.85 516.57h0.74M48.14 516.57h0.74M49.61 516.57h1.48M54.78 516.57h1.48M65.12 516.57h0.74M66.6 516.57h0.74M68.81 516.57h2.22M75.46 516.57h0.74M76.93 516.57h0.74M81.36 516.57h0.74M84.32 516.57h1.48M87.27 516.57h1.48M90.22 516.57h0.74M30.42 520.4h0.74M34.11 520.4h0.74M37.06 520.4h0.74M40.01 520.4h0.74M57.73 520.4h0.74M69.55 520.4h1.48M75.46 520.4h0.74M78.41 520.4h0.74M79.89 520.4h0.74M85.79 520.4h0.74M37.8 524.23h0.74M44.44 524.23h0.74M52.57 524.23h0.74M54.04 524.23h0.74M63.64 524.23h1.48M69.55 524.23h0.74M73.24 524.23h0.74M77.67 524.23h0.74M79.89 524.23h0.74M86.53 524.23h0.74M88.01 524.23h0.74M30.42 528.06h0.74M34.11 528.06h0.74M42.97 528.06h0.74M44.44 528.06h0.74M51.09 528.06h0.74M57 528.06h0.74M59.21 528.06h0.74M66.6 528.06h0.74M71.03 528.06h1.48M73.24 528.06h0.74M77.67 528.06h0.74M84.32 528.06h0.74M90.22 528.06h0.74M30.42 531.89h0.74M40.01 531.89h0.74M46.66 531.89h0.74M57.73 531.89h0.74M65.86 531.89h1.48M74.72 531.89h0.74M76.19 531.89h0.74M88.01 531.89h0.74" stroke="#d84a6a" stroke-width="3.88" fill="none"/>
<path d="M33.37 440.01h0.74M38.54 440.01h0.74M55.52 440.01h0.74M62.9 440.01h0.74M65.86 440.01h0.74M69.55 440.01h0.74M71.03 440.01h0.74M76.93 440.01h0.74M79.15 440.01h0.74M30.42 443.84h0.74M40.01 443.84h1.48M66.6 443.84h0.74M71.03 443.84h0.74M76.93 443.84h0.74M82.84 443.84h0.74M89.48 443.84h0.74M90.96 443.84h0.74M54.04 447.67h0.74M57 447.67h0.74M59.21 447.67h0.74M62.9 447.67h0.74M73.24 447.67h0.74M77.67 447.67h0.74M79.15 447.67h0.74M84.32 447.67h0.74M32.63 451.5h0.74M39.28 451.5h0.74M42.23 451.5h0.74M54.04 451.5h0.74M61.43 451.5h0.74M71.03 451.5h0.74M86.53 451.5h0.74M89.48 451.5h0.74M42.23 455.33h0.74M43.71 455.33h0.74M54.04 455.33h0.74M62.17 455.33h0.74M64.38 455.33h0.74M66.6 455.33h0.74M70.29 455.33h0.74M71.76 455.33h0.74M76.93 455.33h0.74M82.1 455.33h0.74M45.18 459.15h0.74M47.4 459.15h0.74M68.81 459.15h0.74M73.24 459.15h0.74M84.32 459.15h0.74M28.2 462.98h0.74M30.42 462.98h0.74M31.89 462.98h0.74M36.32 462.98h0.74M37.8 462.98h0.74M46.66 462.98h1.48M51.83 462.98h0.74M60.69 462.98h0.74M65.86 462.98h0.74M68.81 462.98h0.74M79.89 462.98h0.74M82.1 462.98h0.74M30.42 466.81h0.74M44.44 466.81h1.48M55.52 466.81h0.74M62.9 466.81h0.74M90.22 466.81h1.48M37.06 470.64h0.74M59.95 470.64h0.74M79.89 470.64h0.74M84.32 470.64h0.74M34.11 474.47h0.74M76.19 474.47h0.74M79.15 474.47h0.74M85.79 474.47h0.74M87.27 474.47h0.74M43.71 478.29h0.74M51.09 478.29h0.74M60.69 478.29h0.74M69.55 478.29h0.74M71.76 478.29h0.74M74.72 478.29h0.74M77.67 478.29h0.74M51.09 482.12h0.74M54.04 482.12h0.74M59.21 482.12h0.74M84.32 482.12h0.74M86.53 482.12h0.74M55.52 485.95h0.74M59.21 485.95h0.74M66.6 485.95h0.74M76.19 485.95h0.74M84.32 485.95h0.74M40.75 489.78h0.74M47.4 489.78h0.74M54.78 489.78h0.74M79.15 489.78h0.74M81.36 489.78h0.74M88.01 489.78h0.74M42.23 493.61h0.74M44.44 493.61h0.74M57.73 493.61h0.74M62.9 493.61h0.74M89.48 493.61h0.74M34.85 497.43h0.74M55.52 497.43h0.74M69.55 497.43h0.74M76.19 497.43h0.74M89.48 497.43h0.74M37.06 501.26h0.74M39.28 501.26h0.74M73.98 501.26h0.74M75.46 501.26h0.74M77.67 501.26h0.74M84.32 501.26h0.74M90.96 501.26h0.74M36.32 505.09h0.74M49.61 505.09h0.74M51.83 505.09h0.74M66.6 505.09h0.74M72.5 505.09h0.74M78.41 505.09h0.74M84.32 505.09h0.74M28.2 508.92h0.74M34.85 508.92h0.74M52.57 508.92h0.74M69.55 508.92h0.74M76.93 508.92h0.74M80.62 508.92h0.74M84.32 508.92h0.74M90.22 508.92h0.74M51.09 512.75h0.74M57 512.75h0.74M62.9 512.75h0.74M79.15 512.75h1.48M81.36 512.75h0.74M44.44 516.57h0.74M51.83 516.57h0.74M59.21 516.57h0.74M63.64 516.57h0.74M71.03 516.57h0.74M72.5 516.57h0.74M77.67 516.57h0.74M86.53 516.57h0.74M28.2 520.4h0.74M31.15 520.4h0.74M41.49 520.4h0.74M45.18 520.4h0.74M47.4 520.4h0.74M54.04 520.4h0.74M62.9 520.4h0.74M65.86 520.4h0.74M76.19 520.4h1.48M84.32 520.4h0.74M87.27 520.4h0.74M88.75 520.4h0.74M48.87 524.23h0.74M62.9 524.23h0.74M66.6 524.23h0.74M71.03 524.23h0.74M76.93 524.23h0.74M41.49 528.06h0.74M45.18 528.06h0.74M48.87 528.06h0.74M68.07 528.06h0.74M78.41 528.06h1.48M28.2 531.89h0.74M41.49 531.89h0.74M45.18 531.89h0.74M48.14 531.89h0.74M51.09 531.89h0.74M61.43 531.89h0.74M71.76 531.89h0.74M81.36 531.89h0.74" stroke="#e55164" stroke-width="3.88" fill="none"/>
<path d="M70.29 440.01h0.74M45.18 443.84h0.74M69.55 443.84h0.74M45.18 447.67h0.74M41.49 451.5h0.74M44.44 451.5h0.74M57.73 451.5h0.74M62.17 451.5h0.74M74.72 451.5h0.74M51.09 455.33h1.48M40.75 459.15h0.74M57 459.15h0.74M82.1 459.15h0.74M90.96 459.15h0.74M73.24 462.98h0.74M79.15 462.98h0.74M37.06 466.81h0.74M51.83 466.81h0.74M71.03 466.81h0.74M54.04 470.64h0.74M66.6 470.64h0.74M85.79 470.64h0.74M76.93 474.47h0.74M28.2 478.29h0.74M51.83 478.29h0.74M54.04 478.29h0.74M79.15 478.29h0.74M80.62 478.29h0.74M28.2 482.12h0.74M68.81 482.12h1.48M69.55 485.95h0.74M76.93 485.95h0.74M85.05 485.95h0.74M66.6 489.78h0.74M68.81 489.78h0.74M79.89 489.78h0.74M66.6 493.61h0.74M79.89 493.61h0.74M30.42 497.43h0.74M45.18 497.43h0.74M59.21 497.43h0.74M70.29 497.43h1.48M51.83 501.26h0.74M66.6 501.26h0.74M55.52 505.09h0.74M76.93 505.09h0.74M79.89 505.09h1.48M37.8 508.92h0.74M61.43 508.92h0.74M70.29 508.92h1.48M82.84 508.92h0.74M45.18 512.75h0.74M55.52 512.75h0.74M89.48 512.75h0.74M47.4 516.57h0.74M61.43 516.57h0.74M74.72 516.57h0.74M51.83 524.23h0.74M57 524.23h0.74M60.69 524.23h1.48M84.32 524.23h0.74M51.83 528.06h0.74M54.04 528.06h0.74M69.55 528.06h0.74M79.89 528.06h0.74M54.04 531.89h0.74M59.95 531.89h0.74M76.93 531.89h0.74M86.53 531.89h0.74" stroke="#ec6062" stroke-width="3.88" fill="none"/>
<path d="M86.53 440.01h0.74M48.14 447.67h0.74M51.83 447.67h0.74M86.53 447.67h0.74M58.47 451.5h0.74M69.55 451.5h0.74M62.9 459.15h0.74M35.58 462.98h0.74M73.98 462.98h0.74M86.53 462.98h0.74M89.48 462.98h0.74M66.6 466.81h0.74M30.42 478.29h0.74M37.8 478.29h0.74M62.9 478.29h0.74M73.98 478.29h0.74M76.93 478.29h0.74M84.32 478.29h0.74M86.53 478.29h0.74M45.18 482.12h0.74M45.18 485.95h0.74M75.46 485.95h0.74M57 493.61h0.74M69.55 493.61h0.74M86.53 493.61h0.74M34.11 497.43h0.74M51.09 497.43h0.74M57 497.43h0.74M79.89 497.43h0.74M84.32 497.43h0.74M45.18 501.26h0.74M69.55 501.26h0.74M57.73 505.09h0.74M77.67 505.09h0.74M87.27 505.09h0.74M30.42 508.92h0.74M45.18 508.92h0.74M62.9 508.92h0.74M64.38 508.92h0.74M71.76 508.92h0.74M76.93 512.75h0.74M80.62 512.75h0.74M54.04 516.57h0.74M76.19 516.57h0.74M82.1 516.57h0.74M44.44 520.4h0.74M66.6 520.4h0.74M71.03 520.4h1.48M86.53 520.4h0.74M30.42 524.23h0.74M62.9 528.06h0.74M59.21 531.89h0.74" stroke="#f37062" stroke-width="3.88" fill="none"/>
<path d="M61.43 443.84h0.74M30.42 455.33h0.74M36.32 455.33h0.74M45.18 462.98h0.74M76.93 466.81h0.74M44.44 482.12h0.74M30.42 493.61h0.74M88.01 493.61h0.74M41.49 512.75h0.74M71.76 512.75h0.74M84.32 512.75h0.74M82.1 520.4h0.74M76.93 528.06h0.74M55.52 531.89h0.74" stroke="#f98161" stroke-width="3.88" fill="none"/>
<path d="M76.93 447.67h0.74M57.73 455.33h0.74M51.09 470.64h0.74M35.58 478.29h0.74M88.01 482.12h0.74M70.29 493.61h0.74M72.5 512.75h0.74M40.01 524.23h0.74" stroke="#fc9166" stroke-width="3.88" fill="none"/>
<path d="M28.2 455.33h0.74M84.32 455.33h0.74M49.61 466.81h0.74M45.18 470.64h0.74M54.04 505.09h0.74M45.18 516.57h0.74" stroke="#fda171" stroke-width="3.88" fill="none"/>
<path d="M57 531.89h0.74" stroke="#fec286" stroke-width="3.88" fill="none"/>
<text transform="rotate(0.05 95 331.9)" x="95" y="331.9" font-size="4.3" font-weight="bold">Hans</text>
<text transform="rotate(0.05 95 336.6)" x="95" y="336.6" font-size="4.3" font-weight="bold">RNAseq</text>
<text transform="rotate(0.05 95 341.4)" x="95" y="341.4" font-size="4.3" font-weight="bold">MYC<tspan font-size="2.8" dy="-1.5">hi</tspan></text>
<text transform="rotate(0.05 95 346.55)" x="95" y="346.55" font-size="4.3" fill="#222">MIR600HG</text>
<text transform="rotate(0.05 95 350.43)" x="95" y="350.43" font-size="4.3" fill="#222">MME (CD10)</text>
<text transform="rotate(0.05 95 354.31)" x="95" y="354.31" font-size="4.3" fill="#222">KATNAL2</text>
<text transform="rotate(0.05 95 358.19)" x="95" y="358.19" font-size="4.3" fill="#222">DRD4</text>
<text transform="rotate(0.05 95 362.07)" x="95" y="362.07" font-size="4.3" fill="#222">KCNQ5</text>
<text transform="rotate(0.05 95 365.95)" x="95" y="365.95" font-size="4.3" fill="#222">BACH2</text>
<text transform="rotate(0.05 95 369.83)" x="95" y="369.83" font-size="4.3" fill="#222">ZNF771</text>
<text transform="rotate(0.05 95 373.71)" x="95" y="373.71" font-size="4.3" fill="#222">SERHL</text>
<text transform="rotate(0.05 95 377.59)" x="95" y="377.59" font-size="4.3" fill="#222">C1orf220</text>
<text transform="rotate(0.05 95 381.47)" x="95" y="381.47" font-size="4.3" fill="#222">SLC16A8P1</text>
<text transform="rotate(0.05 95 385.35)" x="95" y="385.35" font-size="4.3" fill="#222">RNFT2</text>
<text transform="rotate(0.05 95 389.23)" x="95" y="389.23" font-size="4.3" fill="#222">EPM2A</text>
<text transform="rotate(0.05 95 393.11)" x="95" y="393.11" font-size="4.3" fill="#222">TXNDC16</text>
<text transform="rotate(0.05 95 396.99)" x="95" y="396.99" font-size="4.3" fill="#222">ARSG</text>
<text transform="rotate(0.05 95 400.87)" x="95" y="400.87" font-size="4.3" fill="#222">LHX4</text>
<text transform="rotate(0.05 95 404.75)" x="95" y="404.75" font-size="4.3" fill="#222">STRBP</text>
<text transform="rotate(0.05 95 408.63)" x="95" y="408.63" font-size="4.3" fill="#222">KRBA1</text>
<text transform="rotate(0.05 95 412.51)" x="95" y="412.51" font-size="4.3" fill="#222">EIF2AK3</text>
<text transform="rotate(0.05 95 416.39)" x="95" y="416.39" font-size="4.3" fill="#222">L3MBTL1</text>
<text transform="rotate(0.05 95 420.27)" x="95" y="420.27" font-size="4.3" fill="#222">SLC9B2</text>
<text transform="rotate(0.05 95 424.15)" x="95" y="424.15" font-size="4.3" fill="#222">MBLAC2</text>
<text transform="rotate(0.05 95 428.03)" x="95" y="428.03" font-size="4.3" fill="#222">FAM120C</text>
<text transform="rotate(0.05 95 431.91)" x="95" y="431.91" font-size="4.3" fill="#222">SLC16A6</text>
<text transform="rotate(0.05 95 435.79)" x="95" y="435.79" font-size="4.3" fill="#222">MSI2</text>
<text transform="rotate(0.05 95 441.05)" x="95" y="441.05" font-size="4.3" fill="#222">ZYX</text>
<text transform="rotate(0.05 95 444.93)" x="95" y="444.93" font-size="4.3" fill="#222">JAK3</text>
<text transform="rotate(0.05 95 448.8)" x="95" y="448.8" font-size="4.3" font-weight="bold">CFLAR<tspan fill="#d8202a" font-weight="normal">*</tspan></text>
<text transform="rotate(0.05 95 452.68)" x="95" y="452.68" font-size="4.3" fill="#222">CTSH</text>
<text transform="rotate(0.05 95 456.55)" x="95" y="456.55" font-size="4.3" font-weight="bold">ARHGAP25<tspan fill="#d8202a" font-weight="normal">*</tspan></text>
<text transform="rotate(0.05 95 460.43)" x="95" y="460.43" font-size="4.3" fill="#222">BCL3</text>
<text transform="rotate(0.05 95 464.3)" x="95" y="464.3" font-size="4.3" font-weight="bold">MVP<tspan fill="#d8202a" font-weight="normal">*</tspan></text>
<text transform="rotate(0.05 95 468.18)" x="95" y="468.18" font-size="4.3" fill="#222">LUZP1</text>
<text transform="rotate(0.05 95 472.05)" x="95" y="472.05" font-size="4.3" fill="#222">DOK1</text>
<text transform="rotate(0.05 95 475.93)" x="95" y="475.93" font-size="4.3" fill="#222">CMTM3</text>
<text transform="rotate(0.05 95 479.8)" x="95" y="479.8" font-size="4.3" font-weight="bold">STAT3<tspan fill="#d8202a" font-weight="normal">*</tspan></text>
<text transform="rotate(0.05 95 483.68)" x="95" y="483.68" font-size="4.3" fill="#222">PTPN1</text>
<text transform="rotate(0.05 95 487.55)" x="95" y="487.55" font-size="4.3" fill="#222">BLVRA</text>
<text transform="rotate(0.05 95 491.43)" x="95" y="491.43" font-size="4.3" fill="#222">CD44</text>
<text transform="rotate(0.05 95 495.3)" x="95" y="495.3" font-size="4.3" fill="#222">SRPBI1</text>
<text transform="rotate(0.05 95 499.18)" x="95" y="499.18" font-size="4.3" fill="#222">RXRA</text>
<text transform="rotate(0.05 95 503.05)" x="95" y="503.05" font-size="4.3" fill="#222">ARHGAP31</text>
<text transform="rotate(0.05 95 506.93)" x="95" y="506.93" font-size="4.3" fill="#222">CRTC3</text>
<text transform="rotate(0.05 95 510.8)" x="95" y="510.8" font-size="4.3" fill="#222">ULK2</text>
<text transform="rotate(0.05 95 514.67)" x="95" y="514.67" font-size="4.3" fill="#222">TICAM2</text>
<text transform="rotate(0.05 95 518.55)" x="95" y="518.55" font-size="4.3" fill="#222">RAB7L1</text>
<text transform="rotate(0.05 95 522.42)" x="95" y="522.42" font-size="4.3" fill="#222">ZNRF1</text>
<text transform="rotate(0.05 95 526.3)" x="95" y="526.3" font-size="4.3" font-weight="bold">BCL2A1<tspan fill="#d8202a" font-weight="normal">*</tspan></text>
<text transform="rotate(0.05 95 530.17)" x="95" y="530.17" font-size="4.3" font-weight="bold">SEMA7A<tspan fill="#d8202a" font-weight="normal">*</tspan></text>
<text transform="rotate(0.05 95 534.05)" x="95" y="534.05" font-size="4.3" font-weight="bold">EBI3<tspan fill="#d8202a" font-weight="normal">*</tspan></text>
<rect x="126.2" y="327.9" width="3.6" height="62.3" fill="url(#mag)"/>
<text transform="rotate(0.05 133.2 332.9)" x="133.2" y="332.9" font-size="4.4" fill="#222">4</text>
<text transform="rotate(0.05 133.2 346.95)" x="133.2" y="346.95" font-size="4.4" fill="#222">2</text>
<text transform="rotate(0.05 133.2 361)" x="133.2" y="361" font-size="4.4" fill="#222">0</text>
<text transform="rotate(0.05 133.2 375.05)" x="133.2" y="375.05" font-size="4.4" fill="#222">−2</text>
<text transform="rotate(0.05 133.2 389.1)" x="133.2" y="389.1" font-size="4.4" fill="#222">−4</text>
</g>
<g id="legendFG">
<text transform="rotate(0.05 144.1 328.2)" x="144.1" y="328.2" font-size="4.4" font-weight="bold">Hans</text>
<rect x="144.1" y="332.4" width="5.8" height="5.5" fill="#e08c12"/>
<text transform="rotate(0.05 151.6 336.8)" x="151.6" y="336.8" font-size="4.4" fill="#444">GCB</text>
<rect x="144.1" y="338.5" width="5.8" height="5.5" fill="#2a4a8c"/>
<text transform="rotate(0.05 151.6 342.9)" x="151.6" y="342.9" font-size="4.4" fill="#444">nonGCB</text>
<rect x="144.1" y="344.5" width="5.8" height="5.5" fill="#c9c9ce"/>
<text transform="rotate(0.05 151.6 348.9)" x="151.6" y="348.9" font-size="4.4" fill="#444">Other</text>
<text transform="rotate(0.05 144.1 355.3)" x="144.1" y="355.3" font-size="4.4" font-weight="bold">RNAseq</text>
<rect x="144.1" y="359.3" width="5.8" height="5.5" fill="#e08c12"/>
<text transform="rotate(0.05 151.6 363.7)" x="151.6" y="363.7" font-size="4.4" fill="#444">GCB</text>
<rect x="144.1" y="365.5" width="5.8" height="5.5" fill="#2a4a8c"/>
<text transform="rotate(0.05 151.6 369.9)" x="151.6" y="369.9" font-size="4.4" fill="#444">ABC</text>
<rect x="144.1" y="371.7" width="5.8" height="5.5" fill="#c9c9ce"/>
<text transform="rotate(0.05 151.6 376.1)" x="151.6" y="376.1" font-size="4.4" fill="#444">Unclassified</text>
<text transform="rotate(0.05 144.1 384.5)" x="144.1" y="384.5" font-size="4.4" font-weight="bold">MYC<tspan font-size="2.9" dy="-1.5">hi</tspan></text>
<rect x="144.1" y="386.4" width="5.8" height="5.4" fill="#8e1f8c"/>
<text transform="rotate(0.05 151.6 390.7)" x="151.6" y="390.7" font-size="4.4" fill="#444">Yes</text>
<rect x="144.1" y="392.5" width="5.8" height="5.4" fill="#c9c9ce"/>
<text transform="rotate(0.05 151.6 396.8)" x="151.6" y="396.8" font-size="4.4" fill="#444">No</text>
<text transform="rotate(0.05 144.1 406.1)" x="144.1" y="406.1" font-size="4.5" font-weight="bold" textLength="40.6" lengthAdjust="spacingAndGlyphs">DHITsignature gene</text>
<text transform="rotate(0.05 146 415.2)" x="146" y="415.2" font-size="4.4" fill="#d8202a">*</text>
<text transform="rotate(0.05 151.6 413.9)" x="151.6" y="413.9" font-size="4.4" fill="#222">Yes</text>
</g>
<g id="panelG">
<rect x="188" y="328.3" width="12.7" height="3.8" fill="#e08c12"/>
<rect x="202.2" y="328.3" width="1.96" height="3.8" fill="#e08c12"/>
<rect x="204.16" y="328.3" width="0.98" height="3.8" fill="#2a4a8c"/>
<rect x="205.14" y="328.3" width="0.98" height="3.8" fill="#c9c9ce"/>
<rect x="206.13" y="328.3" width="4.91" height="3.8" fill="#e08c12"/>
<rect x="211.03" y="328.3" width="0.98" height="3.8" fill="#2a4a8c"/>
<rect x="212.02" y="328.3" width="1.96" height="3.8" fill="#e08c12"/>
<rect x="213.98" y="328.3" width="1.96" height="3.8" fill="#2a4a8c"/>
<rect x="215.94" y="328.3" width="3.93" height="3.8" fill="#e08c12"/>
<rect x="219.87" y="328.3" width="2.94" height="3.8" fill="#c9c9ce"/>
<rect x="222.81" y="328.3" width="0.98" height="3.8" fill="#2a4a8c"/>
<rect x="223.79" y="328.3" width="12.76" height="3.8" fill="#e08c12"/>
<rect x="236.56" y="328.3" width="0.98" height="3.8" fill="#c9c9ce"/>
<rect x="237.54" y="328.3" width="1.96" height="3.8" fill="#e08c12"/>
<rect x="188" y="333.3" width="12.7" height="3.7" fill="#e08c12"/>
<rect x="202.2" y="333.3" width="37.3" height="3.7" fill="#f2aa1c"/>
<rect x="188" y="338.3" width="12.7" height="3.8" fill="#8e1f8c"/>
<rect x="202.2" y="338.3" width="37.3" height="3.8" fill="#c9c9ce"/>
<rect x="188" y="343.8" width="12.7" height="120.5" fill="#f47462"/>
<path d="M190.93 377.47h0.98M190.93 391.65h0.98M196.79 434.18h0.98M190.93 444.81h0.98" stroke="#af347a" stroke-width="3.59" fill="none"/>
<path d="M196.79 345.57h0.98M188 384.56h0.98M195.82 398.73h0.98M195.82 441.26h0.98" stroke="#be3b76" stroke-width="3.59" fill="none"/>
<path d="M190.93 345.57h0.98M195.82 359.75h0.98M196.79 370.38h0.98M195.82 377.47h0.98M196.79 391.65h0.98M195.82 395.19h0.98M196.79 420h0.98M190.93 423.54h0.98M195.82 427.09h0.98M196.79 430.63h0.98M196.79 444.81h0.98M188 451.9h0.98M190.93 451.9h0.98" stroke="#cb4270" stroke-width="3.59" fill="none"/>
<path d="M190.93 352.66h0.98M196.79 359.75h0.98M195.82 363.29h0.98M188 370.38h0.98M190.93 370.38h0.98M193.86 377.47h0.98M196.79 377.47h0.98M196.79 384.56h0.98M196.79 388.1h0.98M190.93 395.19h0.98M190.93 398.73h0.98M196.79 398.73h0.98M190.93 405.82h0.98M195.82 409.37h0.98M198.75 409.37h0.98M190.93 412.91h0.98M188 420h1.95M192.88 423.54h0.98M188.98 437.72h0.98M190.93 441.26h0.98M192.88 441.26h0.98M196.79 441.26h0.98M198.75 441.26h0.98M195.82 444.81h0.98M199.72 444.81h0.98M193.86 448.35h0.98M196.79 451.9h0.98M190.93 455.44h0.98M195.82 458.98h0.98" stroke="#d84a6a" stroke-width="3.59" fill="none"/>
<path d="M193.86 345.57h0.98M190.93 349.12h0.98M193.86 349.12h2.93M198.75 349.12h0.98M188 356.2h0.98M190.93 356.2h0.98M196.79 356.2h0.98M188.98 363.29h0.98M196.79 363.29h0.98M192.88 366.84h0.98M196.79 366.84h0.98M196.79 373.93h0.98M191.91 381.01h1.95M195.82 381.01h0.98M195.82 391.65h0.98M199.72 391.65h0.98M188 395.19h0.98M192.88 395.19h0.98M198.75 395.19h0.98M193.86 398.73h0.98M190.93 409.37h0.98M188 412.91h0.98M192.88 412.91h0.98M194.84 412.91h2.93M190.93 420h0.98M196.79 423.54h0.98M190.93 427.09h0.98M192.88 427.09h0.98M198.75 427.09h0.98M190.93 434.18h0.98M194.84 434.18h0.98M195.82 437.72h0.98M194.84 444.81h0.98M198.75 444.81h0.98M188.98 448.35h0.98M192.88 448.35h0.98M194.84 448.35h0.98M192.88 451.9h0.98M195.82 455.44h1.95M195.82 462.53h0.98" stroke="#e55164" stroke-width="3.59" fill="none"/>
<path d="M188 345.57h0.98M195.82 345.57h0.98M192.88 349.12h0.98M188 352.66h0.98M196.79 352.66h0.98M192.88 359.75h2.93M199.72 359.75h0.98M190.93 363.29h0.98M198.75 363.29h0.98M190.93 366.84h0.98M194.84 366.84h0.98M188.98 370.38h0.98M194.84 370.38h0.98M188 373.93h0.98M190.93 373.93h0.98M192.88 373.93h0.98M194.84 377.47h0.98M199.72 377.47h0.98M188.98 384.56h0.98M190.93 384.56h0.98M192.88 384.56h0.98M195.82 384.56h0.98M198.75 384.56h0.98M188.98 388.1h0.98M190.93 388.1h0.98M188 391.65h0.98M193.86 395.19h0.98M196.79 395.19h0.98M188 398.73h0.98M191.91 398.73h0.98M198.75 398.73h0.98M190.93 402.28h0.98M192.88 402.28h0.98M196.79 402.28h0.98M192.88 405.82h0.98M196.79 405.82h0.98M198.75 405.82h1.95M188 409.37h0.98M198.75 412.91h0.98M190.93 416.45h0.98M188 423.54h0.98M193.86 423.54h0.98M195.82 423.54h0.98M196.79 427.09h0.98M188 434.18h0.98M193.86 434.18h0.98M188 437.72h0.98M192.88 437.72h0.98M196.79 437.72h0.98M188.98 444.81h0.98M197.77 444.81h0.98M190.93 448.35h0.98M195.82 448.35h1.95M197.77 455.44h0.98M188 458.98h1.95M196.79 458.98h0.98M198.75 458.98h0.98M196.79 462.53h0.98" stroke="#ec6062" stroke-width="3.59" fill="none"/>
<path d="M192.88 345.57h0.98M194.84 345.57h0.98M198.75 345.57h0.98M191.91 349.12h0.98M196.79 349.12h0.98M199.72 349.12h0.98M192.88 352.66h0.98M194.84 352.66h0.98M199.72 352.66h0.98M188.98 356.2h0.98M191.91 356.2h0.98M195.82 356.2h0.98M198.75 356.2h0.98M189.95 359.75h0.98M198.75 359.75h0.98M188 363.29h0.98M189.95 363.29h0.98M191.91 363.29h0.98M193.86 363.29h0.98M188 366.84h0.98M195.82 366.84h0.98M193.86 370.38h0.98M199.72 370.38h0.98M191.91 373.93h0.98M197.77 373.93h0.98M198.75 377.47h0.98M194.84 381.01h0.98M196.79 381.01h0.98M194.84 384.56h0.98M188 388.1h0.98M191.91 388.1h1.95M194.84 388.1h1.95M199.72 388.1h0.98M192.88 391.65h0.98M194.84 391.65h0.98M198.75 391.65h0.98M192.88 398.73h0.98M194.84 398.73h0.98M199.72 398.73h0.98M198.75 402.28h1.95M188.98 405.82h0.98M195.82 405.82h0.98M189.95 409.37h0.98M192.88 409.37h0.98M194.84 409.37h0.98M197.77 409.37h0.98M199.72 409.37h0.98M188.98 412.91h0.98M188 416.45h0.98M194.84 416.45h1.95M197.77 416.45h0.98M199.72 416.45h0.98M192.88 420h2.93M194.84 423.54h0.98M188 427.09h0.98M190.93 430.63h0.98M192.88 430.63h0.98M194.84 430.63h0.98M198.75 430.63h0.98M192.88 434.18h0.98M195.82 434.18h0.98M199.72 434.18h0.98M190.93 437.72h0.98M194.84 437.72h0.98M194.84 441.26h0.98M188 444.81h0.98M192.88 444.81h1.95M188 448.35h0.98M194.84 451.9h0.98M198.75 451.9h0.98M193.86 455.44h0.98M198.75 455.44h0.98M190.93 458.98h1.95M190.93 462.53h0.98M192.88 462.53h0.98" stroke="#f37062" stroke-width="3.59" fill="none"/>
<path d="M189.95 345.57h0.98M199.72 345.57h0.98M188.98 349.12h0.98M188.98 352.66h0.98M198.75 352.66h0.98M194.84 356.2h0.98M197.77 356.2h0.98M197.77 359.75h0.98M197.77 363.29h0.98M199.72 363.29h0.98M188.98 366.84h0.98M193.86 366.84h0.98M198.75 366.84h0.98M191.91 370.38h0.98M195.82 370.38h0.98M188.98 373.93h0.98M188 377.47h2.93M192.88 377.47h0.98M197.77 377.47h0.98M188 381.01h1.95M190.93 381.01h0.98M193.86 381.01h0.98M198.75 381.01h0.98M199.72 384.56h0.98M193.86 388.1h0.98M188.98 391.65h1.95M193.86 391.65h0.98M188.98 395.19h1.95M194.84 395.19h0.98M197.77 398.73h0.98M189.95 402.28h0.98M195.82 402.28h0.98M197.77 402.28h0.98M188 405.82h0.98M194.84 405.82h0.98M188.98 409.37h0.98M192.88 416.45h0.98M196.79 416.45h0.98M198.75 423.54h1.95M189.95 430.63h0.98M195.82 430.63h0.98M197.77 430.63h0.98M199.72 430.63h0.98M191.91 437.72h0.98M188 441.26h1.95M199.72 441.26h0.98M191.91 444.81h0.98M189.95 448.35h0.98M191.91 448.35h0.98M198.75 448.35h1.95M193.86 451.9h0.98M195.82 451.9h0.98M197.77 451.9h0.98M199.72 451.9h0.98M194.84 458.98h0.98M193.86 462.53h1.95M198.75 462.53h1.95" stroke="#f98161" stroke-width="3.59" fill="none"/>
<path d="M188.98 345.57h0.98M188 349.12h0.98M189.95 352.66h0.98M191.91 352.66h0.98M193.86 352.66h0.98M197.77 352.66h0.98M193.86 356.2h0.98M191.91 359.75h0.98M189.95 366.84h0.98M199.72 366.84h0.98M189.95 370.38h0.98M192.88 370.38h0.98M193.86 373.93h2.93M198.75 373.93h0.98M191.91 377.47h0.98M189.95 384.56h0.98M197.77 388.1h0.98M191.91 391.65h0.98M197.77 395.19h0.98M199.72 395.19h0.98M188.98 398.73h1.95M188 402.28h1.95M191.91 402.28h0.98M194.84 402.28h0.98M193.86 409.37h0.98M191.91 412.91h0.98M197.77 412.91h0.98M199.72 412.91h0.98M193.86 416.45h0.98M189.95 420h0.98M195.82 420h0.98M188.98 427.09h0.98M193.86 427.09h0.98M197.77 427.09h0.98M199.72 427.09h0.98M188 430.63h0.98M191.91 430.63h0.98M189.95 434.18h0.98M191.91 434.18h0.98M197.77 434.18h0.98M189.95 437.72h0.98M197.77 437.72h2.93M191.91 441.26h0.98M197.77 441.26h0.98M197.77 448.35h0.98M188.98 451.9h1.95M188 455.44h1.95M199.72 455.44h0.98M192.88 458.98h1.95M188 462.53h0.98M189.95 462.53h0.98" stroke="#fc9166" stroke-width="3.59" fill="none"/>
<path d="M189.95 349.12h0.98M197.77 349.12h0.98M195.82 352.66h0.98M192.88 356.2h0.98M188 359.75h1.95M198.75 370.38h0.98M199.72 373.93h0.98M197.77 381.01h0.98M199.72 381.01h0.98M193.86 384.56h0.98M189.95 388.1h0.98M198.75 388.1h0.98M191.91 395.19h0.98M193.86 405.82h0.98M189.95 412.91h0.98M191.91 420h0.98M197.77 420h0.98M188.98 423.54h0.98M189.95 427.09h0.98M191.91 427.09h0.98M188.98 430.63h0.98M193.86 430.63h0.98M188.98 434.18h0.98M198.75 434.18h0.98M189.95 441.26h0.98M193.86 441.26h0.98M189.95 444.81h0.98M191.91 451.9h0.98M189.95 458.98h0.98M199.72 458.98h0.98M188.98 462.53h0.98" stroke="#fda171" stroke-width="3.59" fill="none"/>
<path d="M191.91 345.57h0.98M197.77 345.57h0.98M199.72 356.2h0.98M190.93 359.75h0.98M197.77 366.84h0.98M197.77 370.38h0.98M197.77 384.56h0.98M197.77 391.65h0.98M197.77 405.82h0.98M193.86 412.91h0.98M189.95 416.45h0.98M191.91 416.45h0.98M198.75 416.45h0.98M199.72 420h0.98M189.95 423.54h0.98M191.91 423.54h0.98M197.77 423.54h0.98M194.84 427.09h0.98M193.86 437.72h0.98M194.84 455.44h0.98M197.77 458.98h0.98M191.91 462.53h0.98" stroke="#fdb27c" stroke-width="3.59" fill="none"/>
<path d="M189.95 356.2h0.98M194.84 363.29h0.98M191.91 366.84h0.98M189.95 381.01h0.98M191.91 384.56h0.98M193.86 402.28h0.98M189.95 405.82h0.98M196.79 409.37h0.98M198.75 420h0.98" stroke="#fec286" stroke-width="3.59" fill="none"/>
<path d="M191.91 405.82h0.98M191.91 455.44h1.95M197.77 462.53h0.98" stroke="#fdd396" stroke-width="3.59" fill="none"/>
<path d="M192.88 363.29h0.98M189.95 373.93h0.98M188.98 416.45h0.98M189.95 455.44h0.98" stroke="#fde4a6" stroke-width="3.59" fill="none"/>
<path d="M191.91 409.37h0.98" stroke="#fcf5b7" stroke-width="3.59" fill="none"/>
<rect x="202.2" y="343.8" width="37.3" height="120.5" fill="#9a2d7d"/>
<path d="M220.85 434.18h0.98" stroke="#2a1155" stroke-width="3.59" fill="none"/>
<path d="M222.81 349.12h0.98M207.11 366.84h0.98M207.11 370.38h0.98M220.85 370.38h0.98M215.94 398.73h0.98M220.85 409.37h0.98M220.85 420h0.98" stroke="#3a1264" stroke-width="3.59" fill="none"/>
<path d="M217.91 349.12h0.98M230.67 363.29h0.98M222.81 373.93h0.98M215.94 384.56h0.98M220.85 391.65h0.98M220.85 395.19h0.98M215.94 402.28h0.98M222.81 420h0.98M220.85 423.54h0.98M207.11 430.63h0.98M207.11 444.81h0.98M230.67 451.9h0.98M228.7 458.98h0.98" stroke="#491274" stroke-width="3.59" fill="none"/>
<path d="M224.78 345.57h0.98M238.52 349.12h0.98M207.11 384.56h0.98M207.11 391.65h0.98M207.11 395.19h0.98M207.11 405.82h0.98M215.94 409.37h0.98M206.13 412.91h0.98M213 416.45h0.98M209.07 423.54h0.98M207.11 427.09h0.98M207.11 437.72h0.98M213 437.72h0.98M207.11 441.26h0.98M213 441.26h0.98M215.94 444.81h0.98M204.16 448.35h0.98M207.11 448.35h0.98M213 448.35h0.98M220.85 448.35h0.98M230.67 448.35h0.98M213 451.9h0.98M231.65 451.9h0.98M220.85 455.44h0.98M210.05 458.98h0.98M212.02 458.98h0.98" stroke="#58157d" stroke-width="3.59" fill="none"/>
<path d="M204.16 345.57h0.98M207.11 345.57h0.98M215.94 345.57h0.98M204.16 349.12h0.98M207.11 349.12h0.98M207.11 352.66h0.98M213 352.66h0.98M217.91 352.66h0.98M222.81 352.66h0.98M207.11 356.2h0.98M216.92 359.75h0.98M230.67 359.75h0.98M215.94 363.29h0.98M227.72 363.29h0.98M238.52 363.29h0.98M206.13 366.84h0.98M220.85 366.84h0.98M229.68 366.84h0.98M232.63 370.38h0.98M207.11 373.93h0.98M213 373.93h0.98M231.65 373.93h1.96M238.52 373.93h0.98M206.13 377.47h1.96M213 381.01h0.98M203.18 384.56h0.98M210.05 384.56h0.98M222.81 384.56h0.98M203.18 388.1h0.98M211.03 388.1h0.98M215.94 388.1h0.98M222.81 388.1h0.98M225.76 388.1h0.98M217.91 395.19h1.96M225.76 395.19h0.98M209.07 398.73h0.98M222.81 398.73h0.98M228.7 402.28h0.98M222.81 405.82h0.98M217.91 409.37h0.98M237.54 409.37h0.98M207.11 412.91h0.98M222.81 412.91h0.98M206.13 416.45h0.98M215.94 420h0.98M227.72 420h0.98M207.11 423.54h0.98M210.05 423.54h0.98M212.02 423.54h0.98M215.94 430.63h0.98M215.94 434.18h0.98M222.81 434.18h0.98M228.7 434.18h0.98M238.52 434.18h0.98M232.63 437.72h0.98M203.18 441.26h0.98M211.03 441.26h0.98M225.76 441.26h0.98M228.7 441.26h0.98M238.52 441.26h0.98M205.14 444.81h0.98M220.85 444.81h0.98M231.65 448.35h0.98M207.11 451.9h0.98M215.94 451.9h0.98M220.85 451.9h0.98M237.54 451.9h0.98M207.11 455.44h0.98M227.72 458.98h0.98M225.76 462.53h0.98" stroke="#661a7e" stroke-width="3.59" fill="none"/>
<path d="M205.14 349.12h1.96M215.94 349.12h0.98M220.85 349.12h0.98M228.7 349.12h0.98M232.63 349.12h0.98M206.13 352.66h0.98M211.03 352.66h0.98M215.94 352.66h1.96M220.85 356.2h0.98M206.13 359.75h0.98M222.81 359.75h0.98M232.63 359.75h0.98M238.52 359.75h0.98M206.13 363.29h0.98M228.7 363.29h0.98M228.7 366.84h0.98M209.07 370.38h0.98M216.92 370.38h0.98M230.67 370.38h0.98M206.13 373.93h0.98M210.05 373.93h0.98M218.89 373.93h0.98M220.85 373.93h0.98M224.78 373.93h0.98M210.05 377.47h0.98M213 377.47h0.98M220.85 377.47h0.98M228.7 377.47h0.98M230.67 377.47h0.98M216.92 381.01h0.98M222.81 381.01h0.98M209.07 384.56h0.98M212.02 384.56h0.98M217.91 384.56h0.98M230.67 384.56h2.94M207.11 388.1h0.98M217.91 388.1h0.98M224.78 388.1h0.98M231.65 388.1h0.98M209.07 391.65h0.98M213 391.65h0.98M222.81 391.65h0.98M227.72 391.65h1.96M232.63 395.19h0.98M236.56 395.19h0.98M238.52 395.19h0.98M230.67 398.73h0.98M227.72 402.28h0.98M231.65 402.28h1.96M206.13 405.82h0.98M212.02 405.82h0.98M220.85 405.82h0.98M231.65 405.82h1.96M238.52 405.82h0.98M210.05 409.37h0.98M213 409.37h0.98M226.74 409.37h0.98M229.68 409.37h1.96M228.7 412.91h0.98M230.67 412.91h0.98M232.63 412.91h0.98M203.18 420h0.98M228.7 420h0.98M204.16 423.54h0.98M206.13 423.54h0.98M213 423.54h1.96M222.81 423.54h0.98M225.76 423.54h0.98M238.52 423.54h0.98M228.7 427.09h0.98M209.07 430.63h0.98M220.85 430.63h0.98M227.72 430.63h0.98M230.67 430.63h0.98M203.18 434.18h1.96M213 434.18h0.98M216.92 434.18h0.98M230.67 437.72h0.98M215.94 441.26h0.98M218.89 441.26h0.98M227.72 441.26h0.98M203.18 444.81h0.98M222.81 444.81h0.98M227.72 444.81h0.98M230.67 444.81h0.98M235.57 444.81h0.98M205.14 448.35h1.96M213.98 448.35h0.98M218.89 448.35h0.98M204.16 451.9h0.98M206.13 451.9h0.98M217.91 451.9h1.96M238.52 451.9h0.98M222.81 455.44h0.98M231.65 455.44h0.98M207.11 458.98h0.98M215.94 458.98h0.98M203.18 462.53h0.98M207.11 462.53h0.98M216.92 462.53h0.98" stroke="#73207f" stroke-width="3.59" fill="none"/>
<path d="M210.05 345.57h0.98M213 345.57h0.98M218.89 345.57h0.98M227.72 345.57h1.96M230.67 345.57h1.96M203.18 349.12h0.98M209.07 349.12h0.98M213.98 349.12h0.98M216.92 349.12h0.98M202.2 352.66h1.96M213.98 352.66h0.98M218.89 352.66h0.98M224.78 352.66h0.98M210.05 356.2h0.98M216.92 356.2h1.96M230.67 356.2h1.96M238.52 356.2h0.98M203.18 359.75h0.98M207.11 359.75h0.98M213 359.75h0.98M215.94 359.75h0.98M218.89 359.75h0.98M228.7 359.75h0.98M210.05 363.29h0.98M229.68 363.29h0.98M202.2 366.84h0.98M209.07 366.84h0.98M216.92 366.84h0.98M238.52 366.84h0.98M210.05 370.38h0.98M213.98 370.38h0.98M224.78 370.38h0.98M227.72 370.38h0.98M231.65 370.38h0.98M238.52 370.38h0.98M205.14 373.93h0.98M215.94 373.93h0.98M217.91 373.93h0.98M228.7 373.93h0.98M230.67 373.93h0.98M236.56 373.93h0.98M202.2 377.47h0.98M222.81 377.47h0.98M226.74 377.47h0.98M235.57 377.47h0.98M204.16 381.01h0.98M206.13 381.01h0.98M215.94 381.01h0.98M218.89 381.01h0.98M220.85 381.01h0.98M216.92 384.56h0.98M220.85 384.56h0.98M225.76 384.56h0.98M210.05 388.1h0.98M220.85 388.1h0.98M232.63 388.1h0.98M211.03 391.65h0.98M216.92 391.65h1.96M230.67 391.65h0.98M206.13 395.19h0.98M213 395.19h0.98M222.81 395.19h0.98M224.78 395.19h0.98M226.74 395.19h1.96M235.57 395.19h0.98M203.18 398.73h0.98M207.11 398.73h0.98M213 398.73h0.98M216.92 398.73h0.98M227.72 398.73h1.96M237.54 398.73h0.98M203.18 402.28h0.98M205.14 402.28h1.96M211.03 402.28h0.98M222.81 402.28h0.98M208.09 405.82h0.98M213 405.82h1.96M215.94 405.82h2.94M225.76 405.82h0.98M216.92 409.37h0.98M222.81 409.37h0.98M238.52 409.37h0.98M205.14 412.91h0.98M209.07 412.91h0.98M225.76 412.91h0.98M229.68 412.91h0.98M222.81 416.45h0.98M232.63 416.45h0.98M236.56 416.45h0.98M206.13 420h1.96M212.02 420h1.96M214.96 420h0.98M218.89 420h0.98M230.67 420h3.93M238.52 420h0.98M203.18 423.54h0.98M215.94 423.54h0.98M213 427.09h0.98M216.92 427.09h0.98M225.76 427.09h0.98M227.72 427.09h0.98M234.59 427.09h0.98M213 430.63h1.96M209.07 434.18h1.96M212.02 434.18h0.98M217.91 434.18h0.98M204.16 437.72h0.98M206.13 437.72h0.98M213.98 437.72h0.98M217.91 437.72h0.98M228.7 437.72h0.98M234.59 437.72h1.96M206.13 441.26h0.98M213.98 441.26h0.98M217.91 441.26h0.98M222.81 441.26h0.98M230.67 441.26h0.98M232.63 441.26h0.98M236.56 441.26h0.98M214.96 444.81h0.98M225.76 444.81h1.96M232.63 444.81h0.98M208.09 448.35h0.98M215.94 448.35h0.98M227.72 448.35h1.96M234.59 448.35h0.98M237.54 448.35h0.98M203.18 451.9h0.98M212.02 451.9h0.98M213.98 451.9h0.98M222.81 451.9h1.96M235.57 451.9h0.98M218.89 455.44h0.98M224.78 455.44h0.98M228.7 455.44h0.98M235.57 455.44h0.98M206.13 458.98h0.98M216.92 458.98h0.98M225.76 458.98h0.98M230.67 458.98h0.98M238.52 458.98h0.98M205.14 462.53h0.98M218.89 462.53h0.98M222.81 462.53h0.98M229.68 462.53h0.98M231.65 462.53h0.98M238.52 462.53h0.98" stroke="#812581" stroke-width="3.59" fill="none"/>
<path d="M208.09 345.57h0.98M212.02 345.57h0.98M213.98 345.57h0.98M220.85 345.57h0.98M223.79 345.57h0.98M229.68 345.57h0.98M234.59 345.57h0.98M224.78 349.12h0.98M227.72 349.12h0.98M231.65 349.12h0.98M205.14 352.66h0.98M209.07 352.66h1.96M228.7 352.66h0.98M231.65 352.66h1.96M235.57 352.66h0.98M204.16 356.2h0.98M206.13 356.2h0.98M211.03 356.2h0.98M218.89 356.2h0.98M221.83 356.2h1.96M225.76 356.2h0.98M227.72 356.2h0.98M233.61 356.2h1.96M211.03 359.75h1.96M213.98 359.75h0.98M220.85 359.75h0.98M223.79 359.75h1.96M227.72 359.75h0.98M229.68 359.75h0.98M211.03 363.29h3.93M216.92 363.29h0.98M218.89 363.29h0.98M224.78 363.29h0.98M226.74 363.29h0.98M232.63 363.29h1.96M237.54 363.29h0.98M204.16 366.84h0.98M213 366.84h0.98M215.94 366.84h0.98M217.91 366.84h1.96M222.81 366.84h0.98M224.78 366.84h0.98M235.57 366.84h0.98M212.02 370.38h0.98M218.89 370.38h0.98M229.68 370.38h0.98M235.57 370.38h1.96M209.07 373.93h0.98M216.92 373.93h0.98M229.68 373.93h0.98M233.61 373.93h0.98M213.98 377.47h0.98M215.94 377.47h1.96M223.79 377.47h1.96M227.72 377.47h0.98M207.11 381.01h0.98M210.05 381.01h0.98M213.98 381.01h0.98M217.91 381.01h0.98M238.52 381.01h0.98M204.16 384.56h2.94M223.79 384.56h0.98M226.74 384.56h0.98M228.7 384.56h1.96M235.57 384.56h1.96M204.16 388.1h2.94M208.09 388.1h0.98M213.98 388.1h0.98M216.92 388.1h0.98M223.79 388.1h0.98M226.74 388.1h1.96M236.56 388.1h0.98M238.52 388.1h0.98M215.94 391.65h0.98M233.61 391.65h0.98M238.52 391.65h0.98M203.18 395.19h2.94M209.07 395.19h2.94M213.98 395.19h0.98M230.67 395.19h0.98M233.61 395.19h1.96M237.54 395.19h0.98M208.09 398.73h0.98M211.03 398.73h0.98M213.98 398.73h1.96M220.85 398.73h0.98M224.78 398.73h0.98M231.65 398.73h0.98M235.57 398.73h0.98M238.52 398.73h0.98M202.2 402.28h0.98M207.11 402.28h0.98M216.92 402.28h0.98M220.85 402.28h0.98M224.78 402.28h1.96M204.16 405.82h1.96M210.05 405.82h0.98M227.72 405.82h2.94M235.57 405.82h0.98M204.16 409.37h3.93M218.89 409.37h0.98M221.83 409.37h0.98M225.76 409.37h0.98M215.94 412.91h0.98M217.91 412.91h1.96M223.79 412.91h0.98M203.18 416.45h0.98M208.09 416.45h0.98M211.03 416.45h0.98M213.98 416.45h0.98M215.94 416.45h0.98M217.91 416.45h0.98M220.85 416.45h1.96M228.7 416.45h0.98M230.67 416.45h0.98M233.61 416.45h1.96M202.2 420h0.98M209.07 420h1.96M213.98 420h0.98M225.76 420h0.98M234.59 420h0.98M236.56 420h0.98M205.14 423.54h0.98M211.03 423.54h0.98M214.96 423.54h0.98M224.78 423.54h0.98M226.74 423.54h2.94M230.67 423.54h0.98M232.63 423.54h0.98M206.13 427.09h0.98M211.03 427.09h0.98M215.94 427.09h0.98M222.81 427.09h0.98M224.78 427.09h0.98M238.52 427.09h0.98M202.2 430.63h1.96M205.14 430.63h0.98M224.78 430.63h0.98M228.7 430.63h0.98M231.65 430.63h0.98M235.57 430.63h0.98M237.54 430.63h0.98M205.14 434.18h1.96M213.98 434.18h0.98M218.89 434.18h0.98M224.78 434.18h0.98M226.74 434.18h1.96M229.68 434.18h1.96M205.14 437.72h0.98M212.02 437.72h0.98M215.94 437.72h1.96M205.14 441.26h0.98M208.09 441.26h0.98M212.02 441.26h0.98M220.85 441.26h0.98M231.65 441.26h0.98M206.13 444.81h0.98M209.07 444.81h0.98M212.02 444.81h2.94M217.91 444.81h0.98M224.78 444.81h0.98M228.7 444.81h1.96M203.18 448.35h0.98M210.05 448.35h0.98M224.78 448.35h1.96M235.57 448.35h1.96M238.52 448.35h0.98M202.2 451.9h0.98M210.05 451.9h0.98M224.78 451.9h0.98M227.72 451.9h2.94M232.63 451.9h0.98M205.14 455.44h0.98M211.03 455.44h0.98M217.91 455.44h0.98M225.76 455.44h0.98M238.52 455.44h0.98M202.2 458.98h0.98M204.16 458.98h0.98M208.09 458.98h0.98M213 458.98h1.96M222.81 458.98h0.98M226.74 458.98h0.98M235.57 458.98h0.98M237.54 458.98h0.98M206.13 462.53h0.98M208.09 462.53h0.98M212.02 462.53h0.98M220.85 462.53h0.98M223.79 462.53h0.98M227.72 462.53h0.98M230.67 462.53h0.98M234.59 462.53h0.98" stroke="#902a7f" stroke-width="3.59" fill="none"/>
<path d="M206.13 345.57h0.98M214.96 345.57h0.98M221.83 345.57h1.96M225.76 345.57h0.98M236.56 345.57h1.96M202.2 349.12h0.98M210.05 349.12h0.98M213 349.12h0.98M214.96 349.12h0.98M218.89 349.12h0.98M221.83 349.12h0.98M225.76 349.12h0.98M229.68 349.12h1.96M234.59 349.12h1.96M212.02 352.66h0.98M221.83 352.66h0.98M225.76 352.66h0.98M227.72 352.66h0.98M229.68 352.66h1.96M237.54 352.66h0.98M203.18 356.2h0.98M213 356.2h0.98M215.94 356.2h0.98M224.78 356.2h0.98M229.68 356.2h0.98M232.63 356.2h0.98M202.2 359.75h0.98M210.05 359.75h0.98M217.91 359.75h0.98M231.65 359.75h0.98M234.59 359.75h0.98M236.56 359.75h1.96M202.2 363.29h3.93M207.11 363.29h1.96M217.91 363.29h0.98M220.85 363.29h2.94M236.56 363.29h0.98M203.18 366.84h0.98M205.14 366.84h0.98M210.05 366.84h0.98M212.02 366.84h0.98M214.96 366.84h0.98M225.76 366.84h0.98M230.67 366.84h0.98M233.61 366.84h0.98M202.2 370.38h1.96M205.14 370.38h0.98M211.03 370.38h0.98M214.96 370.38h1.96M222.81 370.38h0.98M225.76 370.38h0.98M204.16 373.93h0.98M208.09 373.93h0.98M211.03 373.93h1.96M221.83 373.93h0.98M227.72 373.93h0.98M234.59 373.93h0.98M203.18 377.47h1.96M214.96 377.47h0.98M217.91 377.47h0.98M231.65 377.47h1.96M236.56 377.47h0.98M203.18 381.01h0.98M205.14 381.01h0.98M212.02 381.01h0.98M224.78 381.01h1.96M227.72 381.01h0.98M229.68 381.01h0.98M233.61 381.01h0.98M236.56 381.01h0.98M208.09 384.56h0.98M218.89 384.56h1.96M224.78 384.56h0.98M233.61 384.56h0.98M237.54 384.56h0.98M212.02 388.1h0.98M221.83 388.1h0.98M237.54 388.1h0.98M202.2 391.65h1.96M205.14 391.65h1.96M210.05 391.65h0.98M221.83 391.65h0.98M225.76 391.65h1.96M229.68 391.65h0.98M231.65 391.65h1.96M236.56 391.65h0.98M214.96 395.19h2.94M231.65 395.19h0.98M202.2 398.73h0.98M204.16 398.73h1.96M212.02 398.73h0.98M217.91 398.73h1.96M225.76 398.73h0.98M234.59 398.73h0.98M236.56 398.73h0.98M209.07 402.28h1.96M236.56 402.28h2.94M203.18 405.82h0.98M221.83 405.82h0.98M230.67 405.82h0.98M208.09 409.37h0.98M212.02 409.37h0.98M213.98 409.37h0.98M224.78 409.37h0.98M228.7 409.37h0.98M231.65 409.37h1.96M236.56 409.37h0.98M202.2 412.91h1.96M210.05 412.91h0.98M213.98 412.91h0.98M202.2 416.45h0.98M207.11 416.45h0.98M210.05 416.45h0.98M219.87 416.45h0.98M224.78 416.45h0.98M231.65 416.45h0.98M204.16 420h0.98M211.03 420h0.98M224.78 420h0.98M226.74 420h0.98M229.68 420h0.98M218.89 423.54h0.98M221.83 423.54h0.98M229.68 423.54h0.98M231.65 423.54h0.98M235.57 423.54h0.98M202.2 427.09h0.98M204.16 427.09h0.98M210.05 427.09h0.98M213.98 427.09h0.98M217.91 427.09h0.98M220.85 427.09h0.98M235.57 427.09h0.98M237.54 427.09h0.98M204.16 430.63h0.98M206.13 430.63h0.98M210.05 430.63h0.98M214.96 430.63h0.98M217.91 430.63h1.96M221.83 430.63h1.96M236.56 430.63h0.98M202.2 434.18h0.98M207.11 434.18h0.98M211.03 434.18h0.98M225.76 434.18h0.98M231.65 434.18h1.96M236.56 434.18h1.96M202.2 437.72h0.98M209.07 437.72h0.98M220.85 437.72h0.98M227.72 437.72h0.98M229.68 437.72h0.98M236.56 437.72h0.98M238.52 437.72h0.98M204.16 441.26h0.98M210.05 441.26h0.98M214.96 441.26h0.98M216.92 441.26h0.98M221.83 441.26h0.98M229.68 441.26h0.98M234.59 441.26h0.98M204.16 444.81h0.98M211.03 444.81h0.98M216.92 444.81h0.98M231.65 444.81h0.98M233.61 444.81h0.98M238.52 444.81h0.98M212.02 448.35h0.98M222.81 448.35h1.96M226.74 448.35h0.98M232.63 448.35h1.96M205.14 451.9h0.98M209.07 451.9h0.98M214.96 451.9h0.98M216.92 451.9h0.98M226.74 451.9h0.98M234.59 451.9h0.98M203.18 455.44h0.98M208.09 455.44h0.98M210.05 455.44h0.98M212.02 455.44h0.98M215.94 455.44h1.96M223.79 455.44h0.98M226.74 455.44h1.96M232.63 455.44h0.98M236.56 455.44h0.98M217.91 458.98h1.96M221.83 458.98h0.98M231.65 458.98h1.96M204.16 462.53h0.98M210.05 462.53h0.98M213 462.53h1.96M215.94 462.53h0.98M217.91 462.53h0.98M228.7 462.53h0.98M232.63 462.53h1.96" stroke="#a02f7d" stroke-width="3.59" fill="none"/>
<path d="M203.18 345.57h0.98M205.14 345.57h0.98M216.92 345.57h1.96M226.74 345.57h0.98M232.63 345.57h0.98M238.52 345.57h0.98M226.74 349.12h0.98M233.61 349.12h0.98M237.54 349.12h0.98M204.16 352.66h0.98M219.87 352.66h1.96M233.61 352.66h0.98M238.52 352.66h0.98M202.2 356.2h0.98M209.07 356.2h0.98M213.98 356.2h1.96M228.7 356.2h0.98M235.57 356.2h0.98M209.07 359.75h0.98M225.76 359.75h0.98M235.57 359.75h0.98M225.76 363.29h0.98M231.65 363.29h0.98M235.57 363.29h0.98M208.09 366.84h0.98M211.03 366.84h0.98M223.79 366.84h0.98M227.72 366.84h0.98M232.63 366.84h0.98M204.16 370.38h0.98M206.13 370.38h0.98M217.91 370.38h0.98M223.79 370.38h0.98M226.74 370.38h0.98M228.7 370.38h0.98M234.59 370.38h0.98M237.54 370.38h0.98M202.2 373.93h1.96M213.98 373.93h0.98M223.79 373.93h0.98M225.76 373.93h1.96M205.14 377.47h0.98M208.09 377.47h0.98M211.03 377.47h1.96M221.83 377.47h0.98M225.76 377.47h0.98M237.54 377.47h0.98M209.07 381.01h0.98M221.83 381.01h0.98M230.67 381.01h2.94M237.54 381.01h0.98M202.2 384.56h0.98M213.98 384.56h1.96M221.83 384.56h0.98M234.59 384.56h0.98M238.52 384.56h0.98M209.07 388.1h0.98M213 388.1h0.98M228.7 388.1h0.98M230.67 388.1h0.98M234.59 388.1h1.96M218.89 391.65h0.98M223.79 391.65h1.96M235.57 391.65h0.98M237.54 391.65h0.98M208.09 395.19h0.98M219.87 395.19h0.98M206.13 398.73h0.98M223.79 398.73h0.98M226.74 398.73h0.98M232.63 398.73h1.96M204.16 402.28h0.98M208.09 402.28h0.98M213 402.28h0.98M214.96 402.28h0.98M217.91 402.28h2.94M233.61 402.28h0.98M202.2 405.82h0.98M211.03 405.82h0.98M223.79 405.82h1.96M233.61 405.82h0.98M236.56 405.82h1.96M202.2 409.37h1.96M219.87 409.37h0.98M223.79 409.37h0.98M234.59 409.37h0.98M204.16 412.91h0.98M208.09 412.91h0.98M212.02 412.91h0.98M219.87 412.91h1.96M231.65 412.91h0.98M234.59 412.91h0.98M238.52 412.91h0.98M204.16 416.45h0.98M209.07 416.45h0.98M216.92 416.45h0.98M225.76 416.45h1.96M235.57 416.45h0.98M237.54 416.45h0.98M205.14 420h0.98M217.91 420h0.98M221.83 420h0.98M223.79 420h0.98M235.57 420h0.98M237.54 420h0.98M219.87 423.54h0.98M233.61 423.54h1.96M236.56 423.54h0.98M203.18 427.09h0.98M208.09 427.09h0.98M218.89 427.09h0.98M230.67 427.09h2.94M211.03 430.63h0.98M219.87 430.63h0.98M225.76 430.63h0.98M233.61 430.63h1.96M238.52 430.63h0.98M208.09 434.18h0.98M221.83 434.18h0.98M233.61 434.18h2.94M208.09 437.72h0.98M214.96 437.72h0.98M222.81 437.72h0.98M224.78 437.72h0.98M226.74 437.72h0.98M202.2 441.26h0.98M223.79 441.26h0.98M226.74 441.26h0.98M210.05 444.81h0.98M218.89 444.81h0.98M221.83 444.81h0.98M234.59 444.81h0.98M236.56 444.81h0.98M209.07 448.35h0.98M211.03 448.35h0.98M216.92 448.35h1.96M211.03 451.9h0.98M221.83 451.9h0.98M225.76 451.9h0.98M236.56 451.9h0.98M204.16 455.44h0.98M206.13 455.44h0.98M209.07 455.44h0.98M214.96 455.44h0.98M229.68 455.44h1.96M203.18 458.98h0.98M209.07 458.98h0.98M211.03 458.98h0.98M220.85 458.98h0.98M223.79 458.98h1.96M229.68 458.98h0.98M236.56 458.98h0.98M221.83 462.53h0.98M236.56 462.53h0.98" stroke="#af347a" stroke-width="3.59" fill="none"/>
<path d="M202.2 345.57h0.98M211.03 345.57h0.98M208.09 349.12h0.98M211.03 349.12h0.98M223.79 349.12h0.98M236.56 349.12h0.98M208.09 352.66h0.98M214.96 352.66h0.98M236.56 352.66h0.98M208.09 356.2h0.98M212.02 356.2h0.98M223.79 356.2h0.98M205.14 359.75h0.98M214.96 359.75h0.98M221.83 359.75h0.98M226.74 359.75h0.98M209.07 363.29h0.98M219.87 363.29h0.98M234.59 363.29h0.98M213.98 366.84h0.98M219.87 366.84h0.98M231.65 366.84h0.98M234.59 366.84h0.98M237.54 366.84h0.98M213 370.38h0.98M233.61 370.38h0.98M214.96 373.93h0.98M218.89 377.47h0.98M208.09 381.01h0.98M211.03 381.01h0.98M214.96 381.01h0.98M223.79 381.01h0.98M226.74 381.01h0.98M234.59 381.01h0.98M211.03 384.56h0.98M213 384.56h0.98M227.72 384.56h0.98M218.89 388.1h0.98M233.61 388.1h0.98M204.16 391.65h0.98M213.98 391.65h0.98M212.02 395.19h0.98M223.79 395.19h0.98M228.7 395.19h1.96M229.68 398.73h0.98M213.98 402.28h0.98M230.67 402.28h0.98M234.59 402.28h0.98M209.07 405.82h0.98M214.96 405.82h0.98M218.89 405.82h0.98M226.74 405.82h0.98M211.03 409.37h0.98M214.96 409.37h0.98M227.72 409.37h0.98M233.61 409.37h0.98M214.96 412.91h0.98M221.83 412.91h0.98M224.78 412.91h0.98M226.74 412.91h1.96M233.61 412.91h0.98M235.57 412.91h0.98M237.54 412.91h0.98M205.14 416.45h0.98M212.02 416.45h0.98M214.96 416.45h0.98M223.79 416.45h0.98M216.92 420h0.98M208.09 423.54h0.98M216.92 423.54h1.96M209.07 427.09h0.98M212.02 427.09h0.98M221.83 427.09h0.98M223.79 427.09h0.98M226.74 427.09h0.98M236.56 427.09h0.98M229.68 430.63h0.98M214.96 434.18h0.98M219.87 434.18h0.98M223.79 434.18h0.98M203.18 437.72h0.98M218.89 437.72h0.98M221.83 437.72h0.98M223.79 437.72h0.98M231.65 437.72h0.98M233.61 437.72h0.98M209.07 441.26h0.98M219.87 441.26h0.98M233.61 441.26h0.98M202.2 444.81h0.98M219.87 444.81h0.98M223.79 444.81h0.98M237.54 444.81h0.98M219.87 448.35h0.98M221.83 448.35h0.98M233.61 451.9h0.98M202.2 455.44h0.98M213 455.44h1.96M221.83 455.44h0.98M233.61 455.44h0.98M237.54 455.44h0.98M214.96 458.98h0.98M219.87 458.98h0.98M234.59 458.98h0.98M202.2 462.53h0.98M209.07 462.53h0.98M214.96 462.53h0.98M237.54 462.53h0.98" stroke="#be3b76" stroke-width="3.59" fill="none"/>
<path d="M209.07 345.57h0.98M233.61 345.57h0.98M235.57 345.57h0.98M212.02 349.12h0.98M219.87 349.12h0.98M223.79 352.66h0.98M226.74 352.66h0.98M234.59 352.66h0.98M205.14 356.2h0.98M236.56 356.2h0.98M208.09 359.75h0.98M233.61 359.75h0.98M214.96 363.29h0.98M223.79 363.29h0.98M221.83 366.84h0.98M226.74 366.84h0.98M208.09 370.38h0.98M221.83 370.38h0.98M219.87 373.93h0.98M235.57 373.93h0.98M237.54 373.93h0.98M209.07 377.47h0.98M229.68 377.47h0.98M233.61 377.47h1.96M238.52 377.47h0.98M202.2 381.01h0.98M228.7 381.01h0.98M235.57 381.01h0.98M202.2 388.1h0.98M214.96 388.1h0.98M229.68 388.1h0.98M208.09 391.65h0.98M212.02 391.65h0.98M214.96 391.65h0.98M219.87 391.65h0.98M234.59 391.65h0.98M221.83 395.19h0.98M219.87 398.73h0.98M221.83 398.73h0.98M226.74 402.28h0.98M229.68 402.28h0.98M219.87 405.82h0.98M209.07 409.37h0.98M235.57 409.37h0.98M211.03 412.91h0.98M216.92 412.91h0.98M218.89 416.45h0.98M227.72 416.45h0.98M238.52 416.45h0.98M202.2 423.54h0.98M214.96 427.09h0.98M219.87 427.09h0.98M233.61 427.09h0.98M208.09 430.63h0.98M216.92 430.63h0.98M223.79 430.63h0.98M226.74 430.63h0.98M232.63 430.63h0.98M211.03 437.72h0.98M219.87 437.72h0.98M225.76 437.72h0.98M237.54 437.72h0.98M224.78 441.26h0.98M235.57 441.26h0.98M237.54 441.26h0.98M202.2 448.35h0.98M214.96 448.35h0.98M229.68 448.35h0.98M219.87 451.9h0.98M219.87 455.44h0.98M205.14 458.98h0.98M233.61 458.98h0.98M219.87 462.53h0.98M226.74 462.53h0.98" stroke="#cb4270" stroke-width="3.59" fill="none"/>
<path d="M219.87 356.2h0.98M226.74 356.2h0.98M204.16 359.75h0.98M219.87 370.38h0.98M219.87 381.01h0.98M202.2 395.19h0.98M210.05 398.73h0.98M221.83 402.28h0.98M234.59 405.82h0.98M219.87 420h0.98M223.79 423.54h0.98M205.14 427.09h0.98M229.68 427.09h0.98M212.02 430.63h0.98M208.09 451.9h0.98M234.59 455.44h0.98M235.57 462.53h0.98" stroke="#d84a6a" stroke-width="3.59" fill="none"/>
<path d="M219.87 388.1h0.98M212.02 402.28h0.98M213 412.91h0.98M229.68 416.45h0.98M210.05 437.72h0.98M211.03 462.53h0.98M224.78 462.53h0.98" stroke="#e55164" stroke-width="3.59" fill="none"/>
<path d="M219.87 377.47h0.98M223.79 402.28h0.98M235.57 402.28h0.98M208.09 420h0.98M237.54 423.54h0.98" stroke="#ec6062" stroke-width="3.59" fill="none"/>
<path d="M219.87 345.57h0.98M219.87 359.75h0.98M236.56 366.84h0.98M236.56 412.91h0.98" stroke="#f37062" stroke-width="3.59" fill="none"/>
<path d="M237.54 356.2h0.98M208.09 444.81h0.98" stroke="#fc9166" stroke-width="3.59" fill="none"/>
<rect x="188" y="466.9" width="12.7" height="66.95" fill="#63197e"/>
<path d="M189.95 482.76h0.98M191.91 489.8h0.98M197.77 517.99h0.98" stroke="#140c32" stroke-width="3.57" fill="none"/>
<path d="M193.86 472.19h0.98M191.91 475.71h0.98M193.86 482.76h0.98M189.95 500.38h0.98M197.77 507.42h0.98" stroke="#1c1044" stroke-width="3.57" fill="none"/>
<path d="M193.86 468.66h0.98M197.77 468.66h0.98M189.95 472.19h0.98M191.91 472.19h0.98M197.77 475.71h0.98M191.91 482.76h0.98M189.95 493.33h0.98M191.91 503.9h0.98M188.98 514.47h1.95M193.86 514.47h1.95M189.95 517.99h0.98" stroke="#2a1155" stroke-width="3.57" fill="none"/>
<path d="M194.84 472.19h0.98M189.95 475.71h0.98M193.86 479.23h0.98M199.72 479.23h0.98M189.95 486.28h0.98M194.84 489.8h0.98M191.91 493.33h0.98M189.95 496.85h0.98M192.88 496.85h1.95M189.95 503.9h0.98M193.86 503.9h0.98M197.77 503.9h0.98M197.77 514.47h0.98M198.75 517.99h0.98M193.86 528.56h0.98M193.86 532.09h0.98M198.75 532.09h1.95" stroke="#3a1264" stroke-width="3.57" fill="none"/>
<path d="M188 468.66h0.98M189.95 468.66h0.98M191.91 468.66h0.98M194.84 468.66h0.98M192.88 472.19h0.98M197.77 472.19h0.98M199.72 472.19h0.98M192.88 475.71h1.95M198.75 475.71h0.98M188.98 479.23h1.95M194.84 479.23h0.98M188 482.76h0.98M195.82 482.76h0.98M197.77 482.76h0.98M188.98 486.28h0.98M193.86 486.28h0.98M188 489.8h0.98M193.86 489.8h0.98M199.72 489.8h0.98M188.98 493.33h0.98M199.72 493.33h0.98M191.91 496.85h0.98M194.84 496.85h0.98M198.75 496.85h0.98M192.88 500.38h0.98M197.77 500.38h0.98M188 503.9h1.95M194.84 503.9h0.98M188 507.42h0.98M191.91 507.42h1.95M194.84 507.42h0.98M199.72 507.42h0.98M189.95 510.95h0.98M194.84 510.95h0.98M199.72 510.95h0.98M199.72 517.99h0.98M188.98 521.52h0.98M197.77 521.52h0.98M188.98 525.04h0.98M190.93 525.04h0.98M188.98 528.56h0.98M191.91 528.56h0.98M199.72 528.56h0.98M194.84 532.09h0.98" stroke="#491274" stroke-width="3.57" fill="none"/>
<path d="M188.98 468.66h0.98M192.88 468.66h0.98M198.75 468.66h1.95M194.84 475.71h0.98M199.72 475.71h0.98M188 479.23h0.98M191.91 479.23h0.98M197.77 479.23h0.98M188.98 482.76h0.98M199.72 482.76h0.98M198.75 486.28h1.95M188.98 489.8h1.95M192.88 489.8h0.98M195.82 489.8h1.95M188 493.33h0.98M193.86 493.33h0.98M188 496.85h0.98M195.82 496.85h0.98M197.77 496.85h0.98M199.72 496.85h0.98M194.84 500.38h0.98M192.88 503.9h0.98M198.75 503.9h1.95M191.91 510.95h0.98M197.77 510.95h0.98M188 521.52h0.98M189.95 521.52h0.98M194.84 521.52h1.95M188 528.56h0.98M189.95 528.56h0.98M194.84 528.56h0.98M197.77 528.56h0.98M188.98 532.09h1.95M191.91 532.09h0.98" stroke="#58157d" stroke-width="3.57" fill="none"/>
<path d="M188 472.19h0.98M198.75 472.19h0.98M188 475.71h0.98M192.88 479.23h0.98M196.79 482.76h0.98M188 486.28h0.98M191.91 486.28h0.98M197.77 486.28h0.98M188 500.38h1.95M190.93 500.38h1.95M198.75 500.38h1.95M190.93 507.42h0.98M193.86 510.95h0.98M198.75 510.95h0.98M191.91 514.47h1.95M195.82 514.47h0.98M199.72 514.47h0.98M188 517.99h0.98M191.91 517.99h0.98M193.86 517.99h1.95M192.88 521.52h0.98M198.75 521.52h1.95M188 525.04h0.98M194.84 525.04h0.98M190.93 528.56h0.98M192.88 528.56h0.98M195.82 532.09h0.98M197.77 532.09h0.98" stroke="#661a7e" stroke-width="3.57" fill="none"/>
<path d="M190.93 468.66h0.98M188.98 472.19h0.98M190.93 472.19h0.98M195.82 472.19h0.98M188.98 475.71h0.98M195.82 479.23h1.95M198.75 479.23h0.98M190.93 486.28h0.98M192.88 486.28h0.98M197.77 489.8h1.95M190.93 493.33h0.98M192.88 493.33h0.98M194.84 493.33h0.98M190.93 496.85h0.98M190.93 503.9h0.98M188.98 507.42h1.95M198.75 507.42h0.98M188 510.95h1.95M190.93 510.95h0.98M195.82 510.95h0.98M188 514.47h0.98M188.98 517.99h0.98M193.86 521.52h0.98M191.91 525.04h0.98M197.77 525.04h1.95M195.82 528.56h0.98M198.75 528.56h0.98M188 532.09h0.98M192.88 532.09h0.98M196.79 532.09h0.98" stroke="#73207f" stroke-width="3.57" fill="none"/>
<path d="M195.82 468.66h1.95M196.79 475.71h0.98M198.75 482.76h0.98M194.84 486.28h0.98M190.93 489.8h0.98M196.79 493.33h1.95M188.98 496.85h0.98M196.79 496.85h0.98M193.86 500.38h0.98M196.79 500.38h0.98M193.86 507.42h0.98M192.88 510.95h0.98M196.79 510.95h0.98M198.75 514.47h0.98M192.88 517.99h0.98M195.82 517.99h0.98M189.95 525.04h0.98M192.88 525.04h1.95M195.82 525.04h1.95M196.79 528.56h0.98M190.93 532.09h0.98" stroke="#812581" stroke-width="3.57" fill="none"/>
<path d="M190.93 475.71h0.98M195.82 475.71h0.98M190.93 479.23h0.98M190.93 482.76h0.98M192.88 482.76h0.98M194.84 482.76h0.98M195.82 486.28h0.98M195.82 500.38h0.98M195.82 503.9h1.95M195.82 507.42h0.98M190.93 514.47h0.98M196.79 514.47h0.98M190.93 517.99h0.98M190.93 521.52h1.95" stroke="#902a7f" stroke-width="3.57" fill="none"/>
<path d="M196.79 472.19h0.98M196.79 517.99h0.98" stroke="#a02f7d" stroke-width="3.57" fill="none"/>
<path d="M196.79 486.28h0.98M195.82 493.33h0.98M198.75 493.33h0.98M196.79 507.42h0.98M196.79 521.52h0.98M199.72 525.04h0.98" stroke="#af347a" stroke-width="3.57" fill="none"/>
<rect x="202.2" y="466.9" width="37.3" height="66.95" fill="#c74072"/>
<path d="M219.87 525.04h0.98" stroke="#661a7e" stroke-width="3.57" fill="none"/>
<path d="M221.83 472.19h0.98M221.83 489.8h0.98M208.09 517.99h0.98M223.79 521.52h0.98" stroke="#73207f" stroke-width="3.57" fill="none"/>
<path d="M208.09 475.71h0.98M214.96 475.71h0.98M219.87 489.8h0.98M219.87 493.33h0.98M234.59 493.33h0.98M213.98 500.38h0.98M219.87 510.95h0.98M214.96 514.47h0.98M226.74 528.56h0.98M221.83 532.09h0.98" stroke="#812581" stroke-width="3.57" fill="none"/>
<path d="M219.87 468.66h0.98M223.79 468.66h0.98M219.87 472.19h0.98M223.79 472.19h0.98M233.61 472.19h0.98M234.59 475.71h0.98M237.54 475.71h0.98M233.61 479.23h0.98M219.87 482.76h0.98M221.83 482.76h0.98M223.79 482.76h0.98M208.09 486.28h0.98M223.79 486.28h0.98M234.59 489.8h0.98M232.63 493.33h0.98M237.54 500.38h0.98M237.54 503.9h0.98M219.87 507.42h0.98M223.79 507.42h0.98M235.57 510.95h0.98M213 514.47h0.98M237.54 517.99h0.98M208.09 521.52h0.98M219.87 521.52h0.98M205.14 528.56h0.98M219.87 528.56h0.98M214.96 532.09h0.98M234.59 532.09h0.98" stroke="#902a7f" stroke-width="3.57" fill="none"/>
<path d="M234.59 472.19h1.96M237.54 472.19h0.98M213.98 475.71h0.98M217.91 475.71h0.98M227.72 475.71h0.98M230.67 475.71h0.98M236.56 475.71h0.98M202.2 479.23h0.98M208.09 479.23h0.98M210.05 479.23h0.98M214.96 479.23h0.98M219.87 479.23h0.98M214.96 482.76h0.98M224.78 482.76h0.98M228.7 482.76h0.98M209.07 486.28h0.98M219.87 486.28h0.98M236.56 486.28h0.98M210.05 489.8h0.98M212.02 489.8h0.98M226.74 489.8h0.98M231.65 489.8h0.98M236.56 489.8h0.98M208.09 493.33h0.98M214.96 493.33h0.98M218.89 493.33h0.98M235.57 493.33h0.98M211.03 496.85h0.98M229.68 496.85h0.98M237.54 496.85h0.98M208.09 500.38h0.98M233.61 500.38h0.98M214.96 503.9h0.98M219.87 503.9h0.98M223.79 503.9h0.98M214.96 510.95h0.98M214.96 517.99h0.98M219.87 517.99h0.98M212.02 525.04h0.98M213.98 525.04h0.98M229.68 525.04h0.98M231.65 525.04h0.98M221.83 528.56h0.98M228.7 528.56h0.98M234.59 528.56h0.98M237.54 528.56h0.98M217.91 532.09h0.98M219.87 532.09h0.98M226.74 532.09h0.98M229.68 532.09h0.98M236.56 532.09h0.98" stroke="#a02f7d" stroke-width="3.57" fill="none"/>
<path d="M202.2 468.66h1.96M209.07 468.66h0.98M213.98 468.66h0.98M229.68 468.66h0.98M202.2 472.19h0.98M214.96 472.19h1.96M232.63 472.19h0.98M209.07 475.71h0.98M212.02 475.71h0.98M228.7 475.71h1.96M238.52 475.71h0.98M204.16 479.23h0.98M226.74 479.23h0.98M236.56 479.23h0.98M204.16 482.76h0.98M233.61 482.76h0.98M210.05 486.28h0.98M229.68 486.28h0.98M234.59 486.28h0.98M213.98 489.8h0.98M228.7 489.8h0.98M209.07 493.33h0.98M225.76 493.33h0.98M229.68 493.33h0.98M219.87 496.85h0.98M235.57 496.85h0.98M209.07 500.38h1.96M212.02 500.38h0.98M223.79 500.38h0.98M235.57 500.38h1.96M205.14 503.9h0.98M221.83 503.9h0.98M226.74 503.9h0.98M230.67 503.9h0.98M214.96 507.42h0.98M233.61 507.42h0.98M205.14 510.95h0.98M208.09 510.95h1.96M223.79 510.95h0.98M202.2 514.47h0.98M208.09 514.47h0.98M211.03 514.47h0.98M219.87 514.47h0.98M223.79 514.47h0.98M230.67 514.47h0.98M202.2 517.99h0.98M213.98 517.99h0.98M223.79 517.99h0.98M233.61 517.99h0.98M206.13 521.52h0.98M211.03 521.52h0.98M221.83 521.52h0.98M202.2 525.04h0.98M214.96 525.04h0.98M223.79 525.04h0.98M226.74 525.04h0.98M235.57 525.04h0.98M202.2 528.56h0.98M214.96 528.56h0.98M217.91 528.56h0.98M223.79 528.56h1.96M231.65 528.56h0.98M206.13 532.09h0.98M208.09 532.09h1.96M223.79 532.09h0.98M228.7 532.09h0.98" stroke="#af347a" stroke-width="3.57" fill="none"/>
<path d="M208.09 468.66h0.98M214.96 468.66h1.96M221.83 468.66h0.98M226.74 468.66h0.98M231.65 468.66h0.98M233.61 468.66h0.98M237.54 468.66h1.96M204.16 472.19h1.96M208.09 472.19h0.98M210.05 472.19h0.98M212.02 472.19h0.98M216.92 472.19h0.98M218.89 472.19h0.98M226.74 472.19h0.98M230.67 472.19h0.98M202.2 475.71h1.96M213 475.71h0.98M216.92 475.71h0.98M218.89 475.71h1.96M223.79 475.71h0.98M225.76 475.71h1.96M233.61 475.71h0.98M213.98 479.23h0.98M216.92 479.23h0.98M218.89 479.23h0.98M223.79 479.23h2.94M232.63 479.23h0.98M208.09 482.76h0.98M212.02 482.76h0.98M213.98 482.76h0.98M216.92 482.76h0.98M230.67 482.76h0.98M234.59 482.76h0.98M236.56 482.76h0.98M202.2 486.28h3.93M214.96 486.28h0.98M218.89 486.28h0.98M221.83 486.28h0.98M232.63 486.28h0.98M208.09 489.8h0.98M211.03 489.8h0.98M214.96 489.8h0.98M216.92 489.8h2.94M223.79 489.8h1.96M229.68 489.8h1.96M232.63 489.8h0.98M235.57 489.8h0.98M203.18 493.33h2.94M213.98 493.33h0.98M221.83 493.33h0.98M237.54 493.33h0.98M205.14 496.85h0.98M209.07 496.85h0.98M212.02 496.85h0.98M223.79 496.85h0.98M226.74 496.85h0.98M233.61 496.85h0.98M214.96 500.38h0.98M218.89 500.38h1.96M225.76 500.38h0.98M230.67 500.38h0.98M234.59 500.38h0.98M209.07 503.9h0.98M213.98 503.9h0.98M225.76 503.9h0.98M228.7 503.9h0.98M231.65 503.9h0.98M233.61 503.9h1.96M202.2 507.42h0.98M208.09 507.42h0.98M213.98 507.42h0.98M218.89 507.42h0.98M237.54 507.42h0.98M213.98 510.95h0.98M218.89 510.95h0.98M221.83 510.95h0.98M224.78 510.95h0.98M229.68 510.95h1.96M234.59 510.95h0.98M236.56 510.95h0.98M203.18 514.47h1.96M212.02 514.47h0.98M213.98 514.47h0.98M227.72 514.47h0.98M233.61 514.47h4.91M204.16 517.99h1.96M209.07 517.99h0.98M213 517.99h0.98M218.89 517.99h0.98M234.59 517.99h0.98M204.16 521.52h0.98M209.07 521.52h0.98M214.96 521.52h0.98M216.92 521.52h0.98M229.68 521.52h0.98M204.16 525.04h1.96M208.09 525.04h1.96M221.83 525.04h0.98M228.7 525.04h0.98M233.61 525.04h0.98M206.13 528.56h0.98M211.03 528.56h0.98M215.94 528.56h1.96M229.68 528.56h0.98M205.14 532.09h0.98M225.76 532.09h0.98M232.63 532.09h0.98" stroke="#be3b76" stroke-width="3.57" fill="none"/>
<path d="M212.02 468.66h1.96M216.92 468.66h0.98M228.7 468.66h0.98M232.63 468.66h0.98M234.59 468.66h2.94M203.18 472.19h0.98M206.13 472.19h0.98M209.07 472.19h0.98M211.03 472.19h0.98M213 472.19h1.96M217.91 472.19h0.98M228.7 472.19h0.98M236.56 472.19h0.98M238.52 472.19h0.98M205.14 475.71h0.98M207.11 475.71h0.98M210.05 475.71h1.96M215.94 475.71h0.98M221.83 475.71h0.98M207.11 479.23h0.98M209.07 479.23h0.98M211.03 479.23h0.98M222.81 479.23h0.98M234.59 479.23h0.98M202.2 482.76h1.96M205.14 482.76h0.98M209.07 482.76h0.98M211.03 482.76h0.98M213 482.76h0.98M215.94 482.76h0.98M225.76 482.76h0.98M231.65 482.76h0.98M237.54 482.76h1.96M212.02 486.28h1.96M224.78 486.28h1.96M230.67 486.28h0.98M237.54 486.28h0.98M202.2 489.8h0.98M205.14 489.8h0.98M225.76 489.8h0.98M233.61 489.8h0.98M237.54 489.8h1.96M210.05 493.33h0.98M216.92 493.33h0.98M227.72 493.33h1.96M204.16 496.85h0.98M206.13 496.85h0.98M214.96 496.85h0.98M222.81 496.85h0.98M227.72 496.85h1.96M231.65 496.85h0.98M234.59 496.85h0.98M202.2 500.38h2.94M206.13 500.38h0.98M217.91 500.38h0.98M222.81 500.38h0.98M224.78 500.38h0.98M227.72 500.38h1.96M203.18 503.9h1.96M206.13 503.9h0.98M208.09 503.9h0.98M210.05 503.9h0.98M212.02 503.9h1.96M216.92 503.9h0.98M232.63 503.9h0.98M235.57 503.9h0.98M238.52 503.9h0.98M203.18 507.42h1.96M209.07 507.42h0.98M212.02 507.42h0.98M216.92 507.42h0.98M221.83 507.42h0.98M225.76 507.42h1.96M235.57 507.42h0.98M238.52 507.42h0.98M202.2 510.95h0.98M211.03 510.95h1.96M215.94 510.95h0.98M227.72 510.95h0.98M209.07 514.47h0.98M217.91 514.47h0.98M224.78 514.47h0.98M212.02 517.99h0.98M216.92 517.99h1.96M221.83 517.99h0.98M226.74 517.99h0.98M229.68 517.99h0.98M202.2 521.52h1.96M213.98 521.52h0.98M220.85 521.52h0.98M228.7 521.52h0.98M233.61 521.52h0.98M235.57 521.52h0.98M237.54 521.52h0.98M211.03 525.04h0.98M215.94 525.04h1.96M218.89 525.04h0.98M224.78 525.04h0.98M236.56 525.04h1.96M204.16 528.56h0.98M208.09 528.56h2.94M212.02 528.56h0.98M218.89 528.56h0.98M227.72 528.56h0.98M230.67 528.56h0.98M232.63 528.56h1.96M235.57 528.56h1.96M202.2 532.09h0.98M204.16 532.09h0.98M207.11 532.09h0.98M212.02 532.09h0.98M215.94 532.09h0.98M218.89 532.09h0.98M224.78 532.09h0.98M237.54 532.09h0.98" stroke="#cb4270" stroke-width="3.57" fill="none"/>
<path d="M205.14 468.66h0.98M210.05 468.66h0.98M218.89 468.66h0.98M220.85 468.66h0.98M224.78 468.66h1.96M230.67 468.66h0.98M224.78 472.19h1.96M204.16 475.71h0.98M222.81 475.71h0.98M224.78 475.71h0.98M231.65 475.71h0.98M235.57 475.71h0.98M203.18 479.23h0.98M205.14 479.23h0.98M220.85 479.23h1.96M228.7 479.23h1.96M218.89 482.76h0.98M226.74 482.76h0.98M232.63 482.76h0.98M235.57 482.76h0.98M213.98 486.28h0.98M217.91 486.28h0.98M222.81 486.28h0.98M226.74 486.28h1.96M233.61 486.28h0.98M204.16 489.8h0.98M207.11 489.8h0.98M220.85 489.8h0.98M222.81 489.8h0.98M227.72 489.8h0.98M202.2 493.33h0.98M212.02 493.33h0.98M220.85 493.33h0.98M223.79 493.33h1.96M226.74 493.33h0.98M230.67 493.33h1.96M236.56 493.33h0.98M238.52 493.33h0.98M202.2 496.85h0.98M208.09 496.85h0.98M213.98 496.85h0.98M216.92 496.85h0.98M220.85 496.85h0.98M224.78 496.85h0.98M230.67 496.85h0.98M238.52 496.85h0.98M211.03 500.38h0.98M216.92 500.38h0.98M220.85 500.38h1.96M226.74 500.38h0.98M238.52 500.38h0.98M202.2 503.9h0.98M215.94 503.9h0.98M222.81 503.9h0.98M224.78 503.9h0.98M236.56 503.9h0.98M207.11 507.42h0.98M215.94 507.42h0.98M217.91 507.42h0.98M229.68 507.42h0.98M236.56 507.42h0.98M204.16 510.95h0.98M216.92 510.95h1.96M226.74 510.95h0.98M231.65 510.95h0.98M233.61 510.95h0.98M237.54 510.95h0.98M205.14 514.47h0.98M216.92 514.47h0.98M218.89 514.47h0.98M221.83 514.47h1.96M231.65 514.47h0.98M238.52 514.47h0.98M203.18 517.99h0.98M211.03 517.99h0.98M215.94 517.99h0.98M222.81 517.99h0.98M227.72 517.99h0.98M231.65 517.99h0.98M236.56 517.99h0.98M212.02 521.52h0.98M224.78 521.52h0.98M227.72 521.52h0.98M230.67 521.52h0.98M234.59 521.52h0.98M203.18 525.04h0.98M234.59 525.04h0.98M207.11 528.56h0.98M213.98 528.56h0.98M220.85 528.56h0.98M225.76 528.56h0.98M238.52 528.56h0.98M203.18 532.09h0.98M211.03 532.09h0.98M216.92 532.09h0.98M220.85 532.09h0.98M231.65 532.09h0.98M233.61 532.09h0.98M235.57 532.09h0.98M238.52 532.09h0.98" stroke="#d84a6a" stroke-width="3.57" fill="none"/>
<path d="M206.13 468.66h1.96M211.03 468.66h0.98M222.81 468.66h0.98M227.72 468.66h0.98M222.81 472.19h0.98M213 479.23h0.98M235.57 479.23h0.98M237.54 479.23h1.96M207.11 482.76h0.98M210.05 482.76h0.98M217.91 482.76h0.98M220.85 482.76h0.98M222.81 482.76h0.98M227.72 482.76h0.98M229.68 482.76h0.98M206.13 486.28h1.96M215.94 486.28h0.98M231.65 486.28h0.98M235.57 486.28h0.98M203.18 489.8h0.98M206.13 493.33h0.98M213 493.33h0.98M215.94 493.33h0.98M233.61 493.33h0.98M203.18 496.85h0.98M215.94 496.85h0.98M217.91 496.85h0.98M221.83 496.85h0.98M225.76 496.85h0.98M232.63 496.85h0.98M236.56 496.85h0.98M205.14 500.38h0.98M215.94 500.38h0.98M229.68 500.38h0.98M231.65 500.38h1.96M211.03 503.9h0.98M217.91 503.9h1.96M227.72 503.9h0.98M229.68 503.9h0.98M213 507.42h0.98M220.85 507.42h0.98M222.81 507.42h0.98M224.78 507.42h0.98M234.59 507.42h0.98M203.18 510.95h0.98M222.81 510.95h0.98M225.76 510.95h0.98M228.7 510.95h0.98M207.11 514.47h0.98M210.05 514.47h0.98M215.94 514.47h0.98M220.85 514.47h0.98M225.76 514.47h1.96M229.68 514.47h0.98M210.05 517.99h0.98M224.78 517.99h1.96M228.7 517.99h0.98M235.57 517.99h0.98M215.94 521.52h0.98M218.89 521.52h0.98M231.65 521.52h0.98M236.56 521.52h0.98M238.52 521.52h0.98M206.13 525.04h0.98M210.05 525.04h0.98M213 525.04h0.98M217.91 525.04h0.98M220.85 525.04h0.98M225.76 525.04h0.98M227.72 525.04h0.98M230.67 525.04h0.98M238.52 525.04h0.98M203.18 528.56h0.98M213 528.56h0.98M210.05 532.09h0.98M213 532.09h1.96M230.67 532.09h0.98" stroke="#e55164" stroke-width="3.57" fill="none"/>
<path d="M204.16 468.66h0.98M217.91 468.66h0.98M207.11 472.19h0.98M220.85 472.19h0.98M227.72 472.19h0.98M231.65 472.19h0.98M220.85 475.71h0.98M232.63 475.71h0.98M206.13 479.23h0.98M212.02 479.23h0.98M215.94 479.23h0.98M227.72 479.23h0.98M230.67 479.23h1.96M206.13 482.76h0.98M211.03 486.28h0.98M216.92 486.28h0.98M220.85 486.28h0.98M238.52 486.28h0.98M215.94 489.8h0.98M217.91 493.33h0.98M210.05 496.85h0.98M213 496.85h0.98M218.89 496.85h0.98M210.05 507.42h0.98M227.72 507.42h1.96M230.67 507.42h0.98M232.63 507.42h0.98M210.05 510.95h0.98M213 510.95h0.98M228.7 514.47h0.98M232.63 514.47h0.98M220.85 517.99h0.98M205.14 521.52h0.98M210.05 521.52h0.98M222.81 521.52h0.98M225.76 521.52h1.96M232.63 521.52h0.98M207.11 525.04h0.98M232.63 525.04h0.98M222.81 532.09h0.98" stroke="#ec6062" stroke-width="3.57" fill="none"/>
<path d="M229.68 472.19h0.98M206.13 475.71h0.98M217.91 479.23h0.98M206.13 489.8h0.98M209.07 489.8h0.98M211.03 493.33h0.98M207.11 496.85h0.98M207.11 500.38h0.98M207.11 503.9h0.98M205.14 507.42h0.98M206.13 510.95h0.98M238.52 510.95h0.98M206.13 517.99h0.98M232.63 517.99h0.98M238.52 517.99h0.98M213 521.52h0.98M217.91 521.52h0.98M222.81 525.04h0.98M222.81 528.56h0.98" stroke="#f37062" stroke-width="3.57" fill="none"/>
<path d="M228.7 486.28h0.98M220.85 503.9h0.98M206.13 507.42h0.98M207.11 510.95h0.98M206.13 514.47h0.98M207.11 517.99h0.98M207.11 521.52h0.98" stroke="#f98161" stroke-width="3.57" fill="none"/>
<path d="M207.11 493.33h0.98M222.81 493.33h0.98M211.03 507.42h0.98M231.65 507.42h0.98M220.85 510.95h0.98" stroke="#fc9166" stroke-width="3.57" fill="none"/>
<path d="M213 500.38h0.98M232.63 510.95h0.98" stroke="#fda171" stroke-width="3.57" fill="none"/>
<path d="M230.67 517.99h0.98M227.72 532.09h0.98" stroke="#fdb27c" stroke-width="3.57" fill="none"/>
<path d="M213 489.8h0.98" stroke="#fec286" stroke-width="3.57" fill="none"/>
<text transform="rotate(0.05 242.4 331.9)" x="242.4" y="331.9" font-size="4.3" font-weight="bold">Hans</text>
<text transform="rotate(0.05 242.4 336.8)" x="242.4" y="336.8" font-size="4.3" font-weight="bold">RNAseq</text>
<text transform="rotate(0.05 242.4 341.7)" x="242.4" y="341.7" font-size="4.3" font-weight="bold">MYC<tspan font-size="2.8" dy="-1.5">hi</tspan></text>
<text transform="rotate(0.05 242.4 346.85)" x="242.4" y="346.85" font-size="4.3" fill="#222">ATP1A3</text>
<text transform="rotate(0.05 242.4 350.39)" x="242.4" y="350.39" font-size="4.3" fill="#222">ANKRD13B</text>
<text transform="rotate(0.05 242.4 353.94)" x="242.4" y="353.94" font-size="4.3" fill="#222">RP1–140A9.1</text>
<text transform="rotate(0.05 242.4 357.48)" x="242.4" y="357.48" font-size="4.3" fill="#222">KATNAL2</text>
<text transform="rotate(0.05 242.4 361.03)" x="242.4" y="361.03" font-size="4.3" fill="#222">ZNF771</text>
<text transform="rotate(0.05 242.4 364.57)" x="242.4" y="364.57" font-size="4.3" fill="#222">BACH2</text>
<text transform="rotate(0.05 242.4 368.11)" x="242.4" y="368.11" font-size="4.3" fill="#222">KCNQ5</text>
<text transform="rotate(0.05 242.4 371.66)" x="242.4" y="371.66" font-size="4.3" fill="#222">MME (CD10)</text>
<text transform="rotate(0.05 242.4 375.2)" x="242.4" y="375.2" font-size="4.3" fill="#222">MMACHC</text>
<text transform="rotate(0.05 242.4 378.75)" x="242.4" y="378.75" font-size="4.3" fill="#222">CTAGE1P</text>
<text transform="rotate(0.05 242.4 382.29)" x="242.4" y="382.29" font-size="4.3" fill="#222">KB–431C1.4</text>
<text transform="rotate(0.05 242.4 385.83)" x="242.4" y="385.83" font-size="4.3" fill="#222">XYLT1</text>
<text transform="rotate(0.05 242.4 389.38)" x="242.4" y="389.38" font-size="4.3" fill="#222">PSPH</text>
<text transform="rotate(0.05 242.4 392.92)" x="242.4" y="392.92" font-size="4.3" fill="#222">BAGE5</text>
<text transform="rotate(0.05 242.4 396.47)" x="242.4" y="396.47" font-size="4.3" fill="#222">CCTAF3</text>
<text transform="rotate(0.05 242.4 400.01)" x="242.4" y="400.01" font-size="4.3" font-weight="bold">MYC<tspan fill="#d8202a" font-weight="normal">*</tspan></text>
<text transform="rotate(0.05 242.4 403.55)" x="242.4" y="403.55" font-size="4.3" fill="#222">SLC9B2</text>
<text transform="rotate(0.05 242.4 407.1)" x="242.4" y="407.1" font-size="4.3" fill="#222">MBLAC2</text>
<text transform="rotate(0.05 242.4 410.64)" x="242.4" y="410.64" font-size="4.3" fill="#222">ACY1</text>
<text transform="rotate(0.05 242.4 414.19)" x="242.4" y="414.19" font-size="4.3" fill="#222">PEX6</text>
<text transform="rotate(0.05 242.4 417.73)" x="242.4" y="417.73" font-size="4.3" fill="#222">EIF2AK3</text>
<text transform="rotate(0.05 242.4 421.27)" x="242.4" y="421.27" font-size="4.3" fill="#222">AGO2</text>
<text transform="rotate(0.05 242.4 424.82)" x="242.4" y="424.82" font-size="4.3" fill="#222">CCDAP3</text>
<text transform="rotate(0.05 242.4 428.36)" x="242.4" y="428.36" font-size="4.3" fill="#222">DUS4L</text>
<text transform="rotate(0.05 242.4 431.91)" x="242.4" y="431.91" font-size="4.3" fill="#222">AKAP1</text>
<text transform="rotate(0.05 242.4 435.45)" x="242.4" y="435.45" font-size="4.3" fill="#222">ZBTB45</text>
<text transform="rotate(0.05 242.4 438.99)" x="242.4" y="438.99" font-size="4.3" fill="#222">SMIM4</text>
<text transform="rotate(0.05 242.4 442.54)" x="242.4" y="442.54" font-size="4.3" fill="#222">AC004980.7</text>
<text transform="rotate(0.05 242.4 446.08)" x="242.4" y="446.08" font-size="4.3" font-weight="bold">FAM216A<tspan fill="#d8202a" font-weight="normal">*</tspan></text>
<text transform="rotate(0.05 242.4 449.63)" x="242.4" y="449.63" font-size="4.3" fill="#222">PPID</text>
<text transform="rotate(0.05 242.4 453.17)" x="242.4" y="453.17" font-size="4.3" fill="#222">PKN2</text>
<text transform="rotate(0.05 242.4 456.71)" x="242.4" y="456.71" font-size="4.3" fill="#222">ACACA</text>
<text transform="rotate(0.05 242.4 460.26)" x="242.4" y="460.26" font-size="4.3" fill="#222">CCDC25</text>
<text transform="rotate(0.05 242.4 463.8)" x="242.4" y="463.8" font-size="4.3" fill="#222">PRMT3</text>
<text transform="rotate(0.05 242.4 469.9)" x="242.4" y="469.9" font-size="4.3" fill="#222">RBMS1</text>
<text transform="rotate(0.05 242.4 473.42)" x="242.4" y="473.42" font-size="4.3" fill="#222">ZYX</text>
<text transform="rotate(0.05 242.4 476.95)" x="242.4" y="476.95" font-size="4.3" fill="#222">CTSH</text>
<text transform="rotate(0.05 242.4 480.47)" x="242.4" y="480.47" font-size="4.3" fill="#222">JAK3</text>
<text transform="rotate(0.05 242.4 484)" x="242.4" y="484" font-size="4.3" font-weight="bold">NCOA1<tspan fill="#d8202a" font-weight="normal">*</tspan></text>
<text transform="rotate(0.05 242.4 487.52)" x="242.4" y="487.52" font-size="4.3" font-weight="bold">STAT3<tspan fill="#d8202a" font-weight="normal">*</tspan></text>
<text transform="rotate(0.05 242.4 491.04)" x="242.4" y="491.04" font-size="4.3" font-weight="bold">LY6Y<tspan fill="#d8202a" font-weight="normal">*</tspan></text>
<text transform="rotate(0.05 242.4 494.57)" x="242.4" y="494.57" font-size="4.3" font-weight="bold">ARHGAP25<tspan fill="#d8202a" font-weight="normal">*</tspan></text>
<text transform="rotate(0.05 242.4 498.09)" x="242.4" y="498.09" font-size="4.3" fill="#222">PTPN1</text>
<text transform="rotate(0.05 242.4 501.62)" x="242.4" y="501.62" font-size="4.3" fill="#222">HEG1</text>
<text transform="rotate(0.05 242.4 505.14)" x="242.4" y="505.14" font-size="4.3" fill="#222">ULK2</text>
<text transform="rotate(0.05 242.4 508.66)" x="242.4" y="508.66" font-size="4.3" fill="#222">CD44</text>
<text transform="rotate(0.05 242.4 512.19)" x="242.4" y="512.19" font-size="4.3" fill="#222">RAB7L1</text>
<text transform="rotate(0.05 242.4 515.71)" x="242.4" y="515.71" font-size="4.3" fill="#222">ARHGAP31</text>
<text transform="rotate(0.05 242.4 519.24)" x="242.4" y="519.24" font-size="4.3" fill="#222">ARID5A</text>
<text transform="rotate(0.05 242.4 522.76)" x="242.4" y="522.76" font-size="4.3" fill="#222">SRPBI1</text>
<text transform="rotate(0.05 242.4 526.28)" x="242.4" y="526.28" font-size="4.3" font-weight="bold">BCL2A1<tspan fill="#d8202a" font-weight="normal">*</tspan></text>
<text transform="rotate(0.05 242.4 529.81)" x="242.4" y="529.81" font-size="4.3" font-weight="bold">BATF<tspan fill="#d8202a" font-weight="normal">*</tspan></text>
<text transform="rotate(0.05 242.4 533.33)" x="242.4" y="533.33" font-size="4.3" font-weight="bold">SEMA7A<tspan fill="#d8202a" font-weight="normal">*</tspan></text>
<rect x="273.1" y="327.9" width="3.7" height="62.2" fill="url(#mag)"/>
<text transform="rotate(0.05 280 334.7)" x="280" y="334.7" font-size="4.4" fill="#222">3</text>
<text transform="rotate(0.05 280 343.35)" x="280" y="343.35" font-size="4.4" fill="#222">2</text>
<text transform="rotate(0.05 280 352)" x="280" y="352" font-size="4.4" fill="#222">1</text>
<text transform="rotate(0.05 280 360.65)" x="280" y="360.65" font-size="4.4" fill="#222">0</text>
<text transform="rotate(0.05 280 369.3)" x="280" y="369.3" font-size="4.4" fill="#222">−1</text>
<text transform="rotate(0.05 280 377.95)" x="280" y="377.95" font-size="4.4" fill="#222">−2</text>
<text transform="rotate(0.05 280 386.6)" x="280" y="386.6" font-size="4.4" fill="#222">−3</text>
<path d="M187.6 333.6H180.4L160.5 359.6H143.7V365.8H162L182 337.2H187.6" fill="none" stroke="#e59a1e" stroke-width="1.25" stroke-linejoin="round"/>
<path d="M187.6 333.6H180.4L160.5 359.6H143.7V365.8H162L182 337.2H187.6" fill="none" stroke="#fff" stroke-width="0.5" stroke-dasharray="1.3 0.7" stroke-linejoin="round"/>
</g>
<rect x="0.65" y="0.65" width="518.7" height="540.7" fill="none" stroke="#000" stroke-width="1.3"/>
</svg></body></html>
